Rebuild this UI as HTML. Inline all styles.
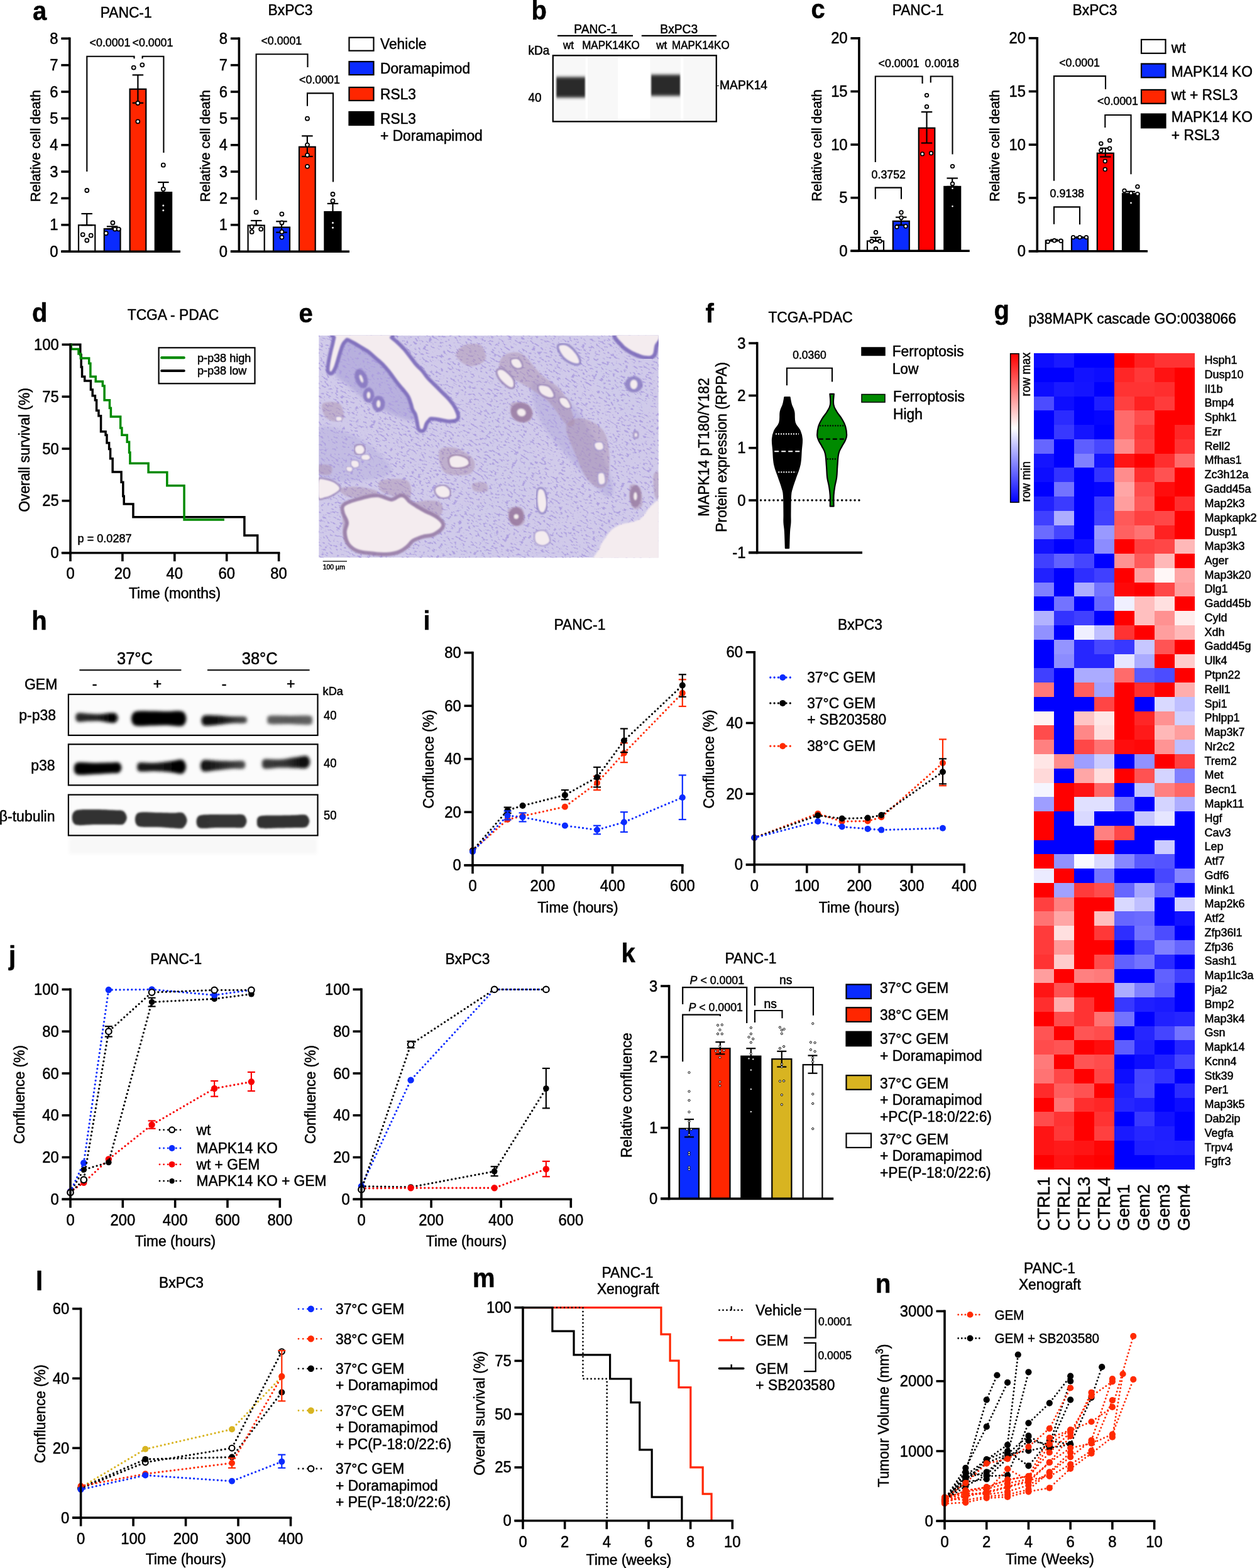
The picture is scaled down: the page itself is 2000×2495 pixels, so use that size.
<!DOCTYPE html>
<html><head><meta charset="utf-8"><title>Figure</title>
<style>html,body{margin:0;padding:0;background:#fff;}svg{display:block;}</style>
</head><body>
<svg width="2000" height="2495" viewBox="0 0 2000 2495" font-family='"Liberation Sans", Arial, Helvetica, sans-serif'>
<defs><filter id="blurB" x="-20%" y="-50%" width="140%" height="200%"><feGaussianBlur stdDeviation="0.9 2.6"/></filter><clipPath id="clipE"><rect x="507.2" y="533.8" width="540.6" height="353.6"/></clipPath><filter id="nucE" x="0" y="0" width="100%" height="100%"><feTurbulence type="fractalNoise" baseFrequency="0.17 0.34" numOctaves="2" seed="11"/><feColorMatrix type="matrix" values="0 0 0 0 0.42  0 0 0 0 0.35  0 0 0 0 0.74  -10 0 0 0 4.15"/><feGaussianBlur stdDeviation="0.45"/></filter><filter id="toneE" x="0" y="0" width="100%" height="100%"><feTurbulence type="fractalNoise" baseFrequency="0.012" numOctaves="2" seed="4"/><feColorMatrix type="matrix" values="0 0 0 0 0.62  0 0 0 0 0.58  0 0 0 0 0.82  -1.6 0 0 0 0.95"/></filter><filter id="softE"><feGaussianBlur stdDeviation="1.0"/></filter><filter id="softE3"><feGaussianBlur stdDeviation="2.5"/></filter><linearGradient id="cbar" x1="0" y1="0" x2="0" y2="1"><stop offset="0" stop-color="#ff0000"/><stop offset="0.5" stop-color="#ffffff"/><stop offset="1" stop-color="#0000ff"/></linearGradient><filter id="blurH" x="-20%" y="-80%" width="140%" height="260%"><feGaussianBlur stdDeviation="2.8"/></filter><filter id="blurH2" x="-20%" y="-80%" width="140%" height="260%"><feGaussianBlur stdDeviation="1.8"/></filter><linearGradient id="bandg1" x1="0" y1="0" x2="1" y2="0"><stop offset="0" stop-color="#2a2a2a"/><stop offset="0.5" stop-color="#222"/><stop offset="0.8" stop-color="#050505"/><stop offset="1" stop-color="#080808"/></linearGradient><linearGradient id="bandg2" x1="0" y1="0" x2="1" y2="0"><stop offset="0" stop-color="#000"/><stop offset="1" stop-color="#000"/></linearGradient><linearGradient id="bandg3" x1="0" y1="0" x2="1" y2="0"><stop offset="0" stop-color="#060606"/><stop offset="0.45" stop-color="#151515"/><stop offset="0.75" stop-color="#3a3a3a"/><stop offset="1" stop-color="#4a4a4a"/></linearGradient><linearGradient id="bandg4" x1="0" y1="0" x2="1" y2="0"><stop offset="0" stop-color="#5e5e5e"/><stop offset="0.5" stop-color="#585858"/><stop offset="1" stop-color="#626262"/></linearGradient><linearGradient id="bandg5" x1="0" y1="0" x2="1" y2="0"><stop offset="0" stop-color="#000"/><stop offset="1" stop-color="#050505"/></linearGradient><linearGradient id="bandg6" x1="0" y1="0" x2="1" y2="0"><stop offset="0" stop-color="#1a1a1a"/><stop offset="0.5" stop-color="#151515"/><stop offset="0.8" stop-color="#000"/><stop offset="1" stop-color="#000"/></linearGradient><linearGradient id="bandg7" x1="0" y1="0" x2="1" y2="0"><stop offset="0" stop-color="#0d0d0d"/><stop offset="0.5" stop-color="#2a2a2a"/><stop offset="1" stop-color="#4a4a4a"/></linearGradient><linearGradient id="bandg8" x1="0" y1="0" x2="1" y2="0"><stop offset="0" stop-color="#3a3a3a"/><stop offset="0.5" stop-color="#333"/><stop offset="0.85" stop-color="#0a0a0a"/><stop offset="1" stop-color="#0a0a0a"/></linearGradient><linearGradient id="bandg9" x1="0" y1="0" x2="1" y2="0"><stop offset="0" stop-color="#333"/><stop offset="1" stop-color="#333"/></linearGradient><linearGradient id="bandg10" x1="0" y1="0" x2="1" y2="0"><stop offset="0" stop-color="#333"/><stop offset="1" stop-color="#363636"/></linearGradient><linearGradient id="bandg11" x1="0" y1="0" x2="1" y2="0"><stop offset="0" stop-color="#333"/><stop offset="1" stop-color="#343434"/></linearGradient><linearGradient id="bandg12" x1="0" y1="0" x2="1" y2="0"><stop offset="0" stop-color="#333"/><stop offset="1" stop-color="#333"/></linearGradient></defs>
<style>text{stroke:#000;stroke-width:0.5px;stroke-linejoin:round}</style>
<rect width="2000" height="2495" fill="#fff"/>
<text transform="translate(52 31.5) scale(1 1.05)" font-size="40" font-weight="bold">a</text>
<text transform="translate(200.7 28.4) scale(1 1.05)" font-size="22.8" text-anchor="middle">PANC-1</text>
<rect x="125" y="358.26" width="26.3" height="41.94" fill="#fff" stroke="#000" stroke-width="2.2"/>
<rect x="165.8" y="364.19" width="25.7" height="36.01" fill="#0a2bff" stroke="#000" stroke-width="2.2"/>
<rect x="206.6" y="141.79" width="25.7" height="258.41" fill="#ff2600" stroke="#000" stroke-width="2.2"/>
<rect x="246.8" y="306.16" width="26.3" height="94.04" fill="#000" stroke="#000" stroke-width="2.2"/>
<line x1="138.2" y1="340.05" x2="138.2" y2="358.26" stroke="#000" stroke-width="2.2" stroke-linecap="butt"/>
<line x1="129.45" y1="340.05" x2="146.95" y2="340.05" stroke="#000" stroke-width="2.2" stroke-linecap="butt"/>
<line x1="129.45" y1="358.26" x2="146.95" y2="358.26" stroke="#000" stroke-width="2.2" stroke-linecap="butt"/>
<line x1="178.6" y1="360.38" x2="178.6" y2="364.19" stroke="#000" stroke-width="2.2" stroke-linecap="butt"/>
<line x1="169.85" y1="360.38" x2="187.35" y2="360.38" stroke="#000" stroke-width="2.2" stroke-linecap="butt"/>
<line x1="169.85" y1="364.19" x2="187.35" y2="364.19" stroke="#000" stroke-width="2.2" stroke-linecap="butt"/>
<line x1="219.4" y1="119.34" x2="219.4" y2="163.82" stroke="#000" stroke-width="2.2" stroke-linecap="butt"/>
<line x1="210.65" y1="119.34" x2="228.15" y2="119.34" stroke="#000" stroke-width="2.2" stroke-linecap="butt"/>
<line x1="210.65" y1="163.82" x2="228.15" y2="163.82" stroke="#000" stroke-width="2.2" stroke-linecap="butt"/>
<line x1="259.9" y1="290.06" x2="259.9" y2="306.16" stroke="#000" stroke-width="2.2" stroke-linecap="butt"/>
<line x1="251.15" y1="290.06" x2="268.65" y2="290.06" stroke="#000" stroke-width="2.2" stroke-linecap="butt"/>
<line x1="251.15" y1="306.16" x2="268.65" y2="306.16" stroke="#000" stroke-width="2.2" stroke-linecap="butt"/>
<circle cx="138.3" cy="303" r="3" fill="#fff" stroke="#000" stroke-width="1.8"/>
<circle cx="131.7" cy="373.3" r="3" fill="#fff" stroke="#000" stroke-width="1.8"/>
<circle cx="144.7" cy="374.7" r="3" fill="#fff" stroke="#000" stroke-width="1.8"/>
<circle cx="138.3" cy="382.5" r="3" fill="#fff" stroke="#000" stroke-width="1.8"/>
<circle cx="168.7" cy="371.2" r="3" fill="#fff" stroke="#000" stroke-width="1.8"/>
<circle cx="179.4" cy="354.5" r="3" fill="#fff" stroke="#000" stroke-width="1.8"/>
<circle cx="182.9" cy="364.6" r="3" fill="#fff" stroke="#000" stroke-width="1.8"/>
<circle cx="188.7" cy="364.6" r="3" fill="#fff" stroke="#000" stroke-width="1.8"/>
<circle cx="212.7" cy="107.6" r="3" fill="#fff" stroke="#000" stroke-width="1.8"/>
<circle cx="226.3" cy="103.3" r="3" fill="#fff" stroke="#000" stroke-width="1.8"/>
<circle cx="219.3" cy="164" r="3" fill="#fff" stroke="#000" stroke-width="1.8"/>
<circle cx="219.3" cy="193.3" r="3" fill="#fff" stroke="#000" stroke-width="1.8"/>
<circle cx="259.8" cy="262.7" r="3" fill="#fff" stroke="#000" stroke-width="1.8"/>
<circle cx="259.8" cy="301" r="3" fill="#fff" stroke="#000" stroke-width="1.8"/>
<circle cx="259.8" cy="327" r="2.4" fill="#fff" stroke="#000" stroke-width="1.8"/>
<circle cx="259.8" cy="334.8" r="2.4" fill="#fff" stroke="#000" stroke-width="1.8"/>
<polyline points="138.3,272.9 138.3,89.7 213.5,89.7 213.5,93.2" fill="none" stroke="#000" stroke-width="2.1" stroke-linecap="butt" stroke-linejoin="miter"/>
<polyline points="226.6,93.2 226.6,89.7 260.4,89.7 260.4,243" fill="none" stroke="#000" stroke-width="2.1" stroke-linecap="butt" stroke-linejoin="miter"/>
<text transform="translate(175 73.8) scale(1 1.05)" font-size="17.8" text-anchor="middle">&lt;0.0001</text>
<text transform="translate(243 73.8) scale(1 1.05)" font-size="17.8" text-anchor="middle">&lt;0.0001</text>
<line x1="110.8" y1="59.5" x2="110.8" y2="402" stroke="#000" stroke-width="3.6" stroke-linecap="butt"/>
<line x1="97.3" y1="400.2" x2="110.8" y2="400.2" stroke="#000" stroke-width="3.6" stroke-linecap="butt"/>
<text transform="translate(92.5 408.77) scale(1 1.05)" font-size="23.8" text-anchor="end">0</text>
<line x1="97.3" y1="357.84" x2="110.8" y2="357.84" stroke="#000" stroke-width="3.6" stroke-linecap="butt"/>
<text transform="translate(92.5 366.41) scale(1 1.05)" font-size="23.8" text-anchor="end">1</text>
<line x1="97.3" y1="315.48" x2="110.8" y2="315.48" stroke="#000" stroke-width="3.6" stroke-linecap="butt"/>
<text transform="translate(92.5 324.04) scale(1 1.05)" font-size="23.8" text-anchor="end">2</text>
<line x1="97.3" y1="273.11" x2="110.8" y2="273.11" stroke="#000" stroke-width="3.6" stroke-linecap="butt"/>
<text transform="translate(92.5 281.68) scale(1 1.05)" font-size="23.8" text-anchor="end">3</text>
<line x1="97.3" y1="230.75" x2="110.8" y2="230.75" stroke="#000" stroke-width="3.6" stroke-linecap="butt"/>
<text transform="translate(92.5 239.32) scale(1 1.05)" font-size="23.8" text-anchor="end">4</text>
<line x1="97.3" y1="188.39" x2="110.8" y2="188.39" stroke="#000" stroke-width="3.6" stroke-linecap="butt"/>
<text transform="translate(92.5 196.96) scale(1 1.05)" font-size="23.8" text-anchor="end">5</text>
<line x1="97.3" y1="146.03" x2="110.8" y2="146.03" stroke="#000" stroke-width="3.6" stroke-linecap="butt"/>
<text transform="translate(92.5 154.59) scale(1 1.05)" font-size="23.8" text-anchor="end">6</text>
<line x1="97.3" y1="103.66" x2="110.8" y2="103.66" stroke="#000" stroke-width="3.6" stroke-linecap="butt"/>
<text transform="translate(92.5 112.23) scale(1 1.05)" font-size="23.8" text-anchor="end">7</text>
<line x1="97.3" y1="61.3" x2="110.8" y2="61.3" stroke="#000" stroke-width="3.6" stroke-linecap="butt"/>
<text transform="translate(92.5 69.87) scale(1 1.05)" font-size="23.8" text-anchor="end">8</text>
<line x1="97.3" y1="400.2" x2="287" y2="400.2" stroke="#000" stroke-width="3.6" stroke-linecap="butt"/>
<text transform="translate(64.2 232.2) rotate(-90) scale(1 1.05)" font-size="21.8" text-anchor="middle">Relative cell death</text>
<text transform="translate(462 23.7) scale(1 1.05)" font-size="22.8" text-anchor="middle">BxPC3</text>
<rect x="394.6" y="358.68" width="26.1" height="41.52" fill="#fff" stroke="#000" stroke-width="2.2"/>
<rect x="435" y="361.65" width="26" height="38.55" fill="#0a2bff" stroke="#000" stroke-width="2.2"/>
<rect x="476" y="233.72" width="25.7" height="166.48" fill="#ff2600" stroke="#000" stroke-width="2.2"/>
<rect x="516.4" y="337.08" width="26.1" height="63.12" fill="#000" stroke="#000" stroke-width="2.2"/>
<line x1="407.7" y1="351.06" x2="407.7" y2="358.68" stroke="#000" stroke-width="2.2" stroke-linecap="butt"/>
<line x1="398.95" y1="351.06" x2="416.45" y2="351.06" stroke="#000" stroke-width="2.2" stroke-linecap="butt"/>
<line x1="398.95" y1="358.68" x2="416.45" y2="358.68" stroke="#000" stroke-width="2.2" stroke-linecap="butt"/>
<line x1="448" y1="352.33" x2="448" y2="369.7" stroke="#000" stroke-width="2.2" stroke-linecap="butt"/>
<line x1="439.25" y1="352.33" x2="456.75" y2="352.33" stroke="#000" stroke-width="2.2" stroke-linecap="butt"/>
<line x1="439.25" y1="369.7" x2="456.75" y2="369.7" stroke="#000" stroke-width="2.2" stroke-linecap="butt"/>
<line x1="488.9" y1="216.35" x2="488.9" y2="248.97" stroke="#000" stroke-width="2.2" stroke-linecap="butt"/>
<line x1="480.15" y1="216.35" x2="497.65" y2="216.35" stroke="#000" stroke-width="2.2" stroke-linecap="butt"/>
<line x1="480.15" y1="248.97" x2="497.65" y2="248.97" stroke="#000" stroke-width="2.2" stroke-linecap="butt"/>
<line x1="529.5" y1="323.95" x2="529.5" y2="337.08" stroke="#000" stroke-width="2.2" stroke-linecap="butt"/>
<line x1="520.75" y1="323.95" x2="538.25" y2="323.95" stroke="#000" stroke-width="2.2" stroke-linecap="butt"/>
<line x1="520.75" y1="337.08" x2="538.25" y2="337.08" stroke="#000" stroke-width="2.2" stroke-linecap="butt"/>
<circle cx="407.6" cy="337.7" r="3" fill="#fff" stroke="#000" stroke-width="1.8"/>
<circle cx="400.7" cy="361.1" r="3" fill="#fff" stroke="#000" stroke-width="1.8"/>
<circle cx="415.2" cy="364.6" r="3" fill="#fff" stroke="#000" stroke-width="1.8"/>
<circle cx="400.7" cy="368.9" r="3" fill="#fff" stroke="#000" stroke-width="1.8"/>
<circle cx="448.4" cy="340.6" r="3" fill="#fff" stroke="#000" stroke-width="1.8"/>
<circle cx="448.4" cy="354.5" r="3" fill="#fff" stroke="#000" stroke-width="1.8"/>
<circle cx="448.4" cy="368.9" r="3" fill="#fff" stroke="#000" stroke-width="1.8"/>
<circle cx="448.4" cy="377.6" r="3" fill="#fff" stroke="#000" stroke-width="1.8"/>
<circle cx="489" cy="188.7" r="3" fill="#fff" stroke="#000" stroke-width="1.8"/>
<circle cx="489" cy="230.6" r="3" fill="#fff" stroke="#000" stroke-width="1.8"/>
<circle cx="489" cy="246.8" r="3" fill="#fff" stroke="#000" stroke-width="1.8"/>
<circle cx="489" cy="264.8" r="3" fill="#fff" stroke="#000" stroke-width="1.8"/>
<circle cx="529.5" cy="309" r="3" fill="#fff" stroke="#000" stroke-width="1.8"/>
<circle cx="529.5" cy="319.7" r="3" fill="#fff" stroke="#000" stroke-width="1.8"/>
<circle cx="529.5" cy="354.5" r="2.4" fill="#fff" stroke="#000" stroke-width="1.8"/>
<circle cx="529.5" cy="362.3" r="2.4" fill="#fff" stroke="#000" stroke-width="1.8"/>
<polyline points="407.6,318.3 407.6,86.2 489.5,86.2 489.5,107" fill="none" stroke="#000" stroke-width="2.1" stroke-linecap="butt" stroke-linejoin="miter"/>
<polyline points="489,168.7 489,148.4 530,148.4 530,289.4" fill="none" stroke="#000" stroke-width="2.1" stroke-linecap="butt" stroke-linejoin="miter"/>
<text transform="translate(447.8 70.9) scale(1 1.05)" font-size="17.8" text-anchor="middle">&lt;0.0001</text>
<text transform="translate(508.5 133.1) scale(1 1.05)" font-size="17.8" text-anchor="middle">&lt;0.0001</text>
<line x1="380.4" y1="59.5" x2="380.4" y2="402" stroke="#000" stroke-width="3.6" stroke-linecap="butt"/>
<line x1="366.9" y1="400.2" x2="380.4" y2="400.2" stroke="#000" stroke-width="3.6" stroke-linecap="butt"/>
<text transform="translate(362.1 408.77) scale(1 1.05)" font-size="23.8" text-anchor="end">0</text>
<line x1="366.9" y1="357.84" x2="380.4" y2="357.84" stroke="#000" stroke-width="3.6" stroke-linecap="butt"/>
<text transform="translate(362.1 366.41) scale(1 1.05)" font-size="23.8" text-anchor="end">1</text>
<line x1="366.9" y1="315.48" x2="380.4" y2="315.48" stroke="#000" stroke-width="3.6" stroke-linecap="butt"/>
<text transform="translate(362.1 324.04) scale(1 1.05)" font-size="23.8" text-anchor="end">2</text>
<line x1="366.9" y1="273.11" x2="380.4" y2="273.11" stroke="#000" stroke-width="3.6" stroke-linecap="butt"/>
<text transform="translate(362.1 281.68) scale(1 1.05)" font-size="23.8" text-anchor="end">3</text>
<line x1="366.9" y1="230.75" x2="380.4" y2="230.75" stroke="#000" stroke-width="3.6" stroke-linecap="butt"/>
<text transform="translate(362.1 239.32) scale(1 1.05)" font-size="23.8" text-anchor="end">4</text>
<line x1="366.9" y1="188.39" x2="380.4" y2="188.39" stroke="#000" stroke-width="3.6" stroke-linecap="butt"/>
<text transform="translate(362.1 196.96) scale(1 1.05)" font-size="23.8" text-anchor="end">5</text>
<line x1="366.9" y1="146.03" x2="380.4" y2="146.03" stroke="#000" stroke-width="3.6" stroke-linecap="butt"/>
<text transform="translate(362.1 154.59) scale(1 1.05)" font-size="23.8" text-anchor="end">6</text>
<line x1="366.9" y1="103.66" x2="380.4" y2="103.66" stroke="#000" stroke-width="3.6" stroke-linecap="butt"/>
<text transform="translate(362.1 112.23) scale(1 1.05)" font-size="23.8" text-anchor="end">7</text>
<line x1="366.9" y1="61.3" x2="380.4" y2="61.3" stroke="#000" stroke-width="3.6" stroke-linecap="butt"/>
<text transform="translate(362.1 69.87) scale(1 1.05)" font-size="23.8" text-anchor="end">8</text>
<line x1="366.9" y1="400.2" x2="556" y2="400.2" stroke="#000" stroke-width="3.6" stroke-linecap="butt"/>
<text transform="translate(334.1 232.2) rotate(-90) scale(1 1.05)" font-size="21.8" text-anchor="middle">Relative cell death</text>
<rect x="555.5" y="59.7" width="39" height="21" fill="#fff" stroke="#000" stroke-width="2.2"/>
<text transform="translate(605 78.2) scale(1 1.05)" font-size="22.8">Vehicle</text>
<rect x="555.5" y="98" width="39" height="21" fill="#0a2bff" stroke="#000" stroke-width="2.2"/>
<text transform="translate(605 116.5) scale(1 1.05)" font-size="22.8">Doramapimod</text>
<rect x="555.5" y="139" width="39" height="21" fill="#ff2600" stroke="#000" stroke-width="2.2"/>
<text transform="translate(605 157.5) scale(1 1.05)" font-size="22.8">RSL3</text>
<rect x="555.5" y="178" width="39" height="21" fill="#000" stroke="#000" stroke-width="2.2"/>
<text transform="translate(605 196.5) scale(1 1.05)" font-size="22.8">RSL3</text>
<text transform="translate(605 224) scale(1 1.05)" font-size="22.8">+ Doramapimod</text>
<text transform="translate(845.6 31.2) scale(1 1.05)" font-size="40" font-weight="bold">b</text>
<rect x="879.8" y="88.3" width="260" height="105.1" fill="#ffffff"/>
<rect x="884.5" y="89.5" width="47" height="103" fill="#f8f8f8"/>
<rect x="935" y="89.5" width="48" height="103" fill="#f8f8f8"/>
<rect x="1034.5" y="89.5" width="48.5" height="103" fill="#f8f8f8"/>
<rect x="1087.5" y="89.5" width="51.5" height="103" fill="#f8f8f8"/>
<rect x="885.2" y="122.6" width="45.6" height="32.6" fill="#2c2c2c" filter="url(#blurB)"/>
<rect x="1036.1" y="118.9" width="46" height="33.6" fill="#2c2c2c" filter="url(#blurB)"/>
<rect x="879.8" y="88.3" width="260" height="105.1" fill="none" stroke="#000" stroke-width="2.3"/>
<text transform="translate(947.8 53.4) scale(1 1.05)" font-size="19.2" text-anchor="middle">PANC-1</text>
<text transform="translate(1080.2 53.4) scale(1 1.05)" font-size="19.2" text-anchor="middle">BxPC3</text>
<line x1="887" y1="56.8" x2="1007" y2="56.8" stroke="#000" stroke-width="2.2" stroke-linecap="butt"/>
<line x1="1020.8" y1="56.8" x2="1140" y2="56.8" stroke="#000" stroke-width="2.2" stroke-linecap="butt"/>
<text transform="translate(904.5 78.3) scale(1 1.05)" font-size="17" text-anchor="middle">wt</text>
<text transform="translate(972 78.3) scale(1 1.05)" font-size="17" text-anchor="middle">MAPK14KO</text>
<text transform="translate(1052.8 78.3) scale(1 1.05)" font-size="17" text-anchor="middle">wt</text>
<text transform="translate(1114.8 78.3) scale(1 1.05)" font-size="17" text-anchor="middle">MAPK14KO</text>
<text transform="translate(840.5 87.2) scale(1 1.05)" font-size="19">kDa</text>
<text transform="translate(840.5 162) scale(1 1.05)" font-size="19">40</text>
<line x1="1141" y1="136.5" x2="1144" y2="136.5" stroke="#000" stroke-width="1" stroke-linecap="butt"/>
<text transform="translate(1145 142) scale(1 1.05)" font-size="19.3">MAPK14</text>
<text transform="translate(1290.5 29.3) scale(1 1.05)" font-size="40" font-weight="bold">c</text>
<text transform="translate(1460.6 24.3) scale(1 1.05)" font-size="22.8" text-anchor="middle">PANC-1</text>
<rect x="1380" y="383.56" width="26" height="15.74" fill="#fff" stroke="#000" stroke-width="2.2"/>
<rect x="1420.8" y="351.92" width="26" height="47.38" fill="#0a2bff" stroke="#000" stroke-width="2.2"/>
<rect x="1461.8" y="203.7" width="25.5" height="195.6" fill="#ff0000" stroke="#000" stroke-width="2.2"/>
<rect x="1502.3" y="296.93" width="25.9" height="102.37" fill="#000" stroke="#000" stroke-width="2.2"/>
<line x1="1393.2" y1="377.81" x2="1393.2" y2="383.56" stroke="#000" stroke-width="2.2" stroke-linecap="butt"/>
<line x1="1384.45" y1="377.81" x2="1401.95" y2="377.81" stroke="#000" stroke-width="2.2" stroke-linecap="butt"/>
<line x1="1384.45" y1="383.56" x2="1401.95" y2="383.56" stroke="#000" stroke-width="2.2" stroke-linecap="butt"/>
<line x1="1433.8" y1="345.66" x2="1433.8" y2="358.18" stroke="#000" stroke-width="2.2" stroke-linecap="butt"/>
<line x1="1425.05" y1="345.66" x2="1442.55" y2="345.66" stroke="#000" stroke-width="2.2" stroke-linecap="butt"/>
<line x1="1425.05" y1="358.18" x2="1442.55" y2="358.18" stroke="#000" stroke-width="2.2" stroke-linecap="butt"/>
<line x1="1474.5" y1="178.16" x2="1474.5" y2="227.56" stroke="#000" stroke-width="2.2" stroke-linecap="butt"/>
<line x1="1465.75" y1="178.16" x2="1483.25" y2="178.16" stroke="#000" stroke-width="2.2" stroke-linecap="butt"/>
<line x1="1465.75" y1="227.56" x2="1483.25" y2="227.56" stroke="#000" stroke-width="2.2" stroke-linecap="butt"/>
<line x1="1515.2" y1="283.57" x2="1515.2" y2="296.93" stroke="#000" stroke-width="2.2" stroke-linecap="butt"/>
<line x1="1506.45" y1="283.57" x2="1523.95" y2="283.57" stroke="#000" stroke-width="2.2" stroke-linecap="butt"/>
<line x1="1506.45" y1="296.93" x2="1523.95" y2="296.93" stroke="#000" stroke-width="2.2" stroke-linecap="butt"/>
<circle cx="1393.5" cy="369.7" r="2.8" fill="#fff" stroke="#000" stroke-width="1.8"/>
<circle cx="1387" cy="383.8" r="2.8" fill="#fff" stroke="#000" stroke-width="1.8"/>
<circle cx="1400" cy="383.8" r="2.8" fill="#fff" stroke="#000" stroke-width="1.8"/>
<circle cx="1393.5" cy="395.8" r="2.8" fill="#fff" stroke="#000" stroke-width="1.8"/>
<circle cx="1434" cy="338" r="2.8" fill="#fff" stroke="#000" stroke-width="1.8"/>
<circle cx="1434" cy="346.5" r="2.8" fill="#fff" stroke="#000" stroke-width="1.8"/>
<circle cx="1427" cy="361.1" r="2.8" fill="#fff" stroke="#000" stroke-width="1.8"/>
<circle cx="1441" cy="360" r="2.8" fill="#fff" stroke="#000" stroke-width="1.8"/>
<circle cx="1474.5" cy="151.6" r="2.8" fill="#fff" stroke="#000" stroke-width="1.8"/>
<circle cx="1474.5" cy="169.7" r="2.8" fill="#fff" stroke="#000" stroke-width="1.8"/>
<circle cx="1467.6" cy="244.9" r="2.8" fill="#fff" stroke="#000" stroke-width="1.8"/>
<circle cx="1481.5" cy="243.8" r="2.8" fill="#fff" stroke="#000" stroke-width="1.8"/>
<circle cx="1515.5" cy="264.6" r="2.8" fill="#fff" stroke="#000" stroke-width="1.8"/>
<circle cx="1515.5" cy="292.4" r="2.8" fill="#fff" stroke="#000" stroke-width="1.8"/>
<circle cx="1515.5" cy="299.8" r="2.2" fill="#fff" stroke="#000" stroke-width="1.8"/>
<circle cx="1515.5" cy="328.2" r="2.2" fill="#fff" stroke="#000" stroke-width="1.8"/>
<polyline points="1392.8,258.1 1392.8,121.5 1467.6,121.5 1467.6,133.1" fill="none" stroke="#000" stroke-width="2.1" stroke-linecap="butt" stroke-linejoin="miter"/>
<polyline points="1480.8,131.5 1480.8,121.5 1515.5,121.5 1515.5,245.4" fill="none" stroke="#000" stroke-width="2.1" stroke-linecap="butt" stroke-linejoin="miter"/>
<polyline points="1392.8,316.7 1392.8,298.6 1434,298.6 1434,316.7" fill="none" stroke="#000" stroke-width="2.1" stroke-linecap="butt" stroke-linejoin="miter"/>
<text transform="translate(1430 106.9) scale(1 1.05)" font-size="17.8" text-anchor="middle">&lt;0.0001</text>
<text transform="translate(1498.6 106.9) scale(1 1.05)" font-size="17.8" text-anchor="middle">0.0018</text>
<text transform="translate(1413.8 283.6) scale(1 1.05)" font-size="17.8" text-anchor="middle">0.3752</text>
<line x1="1366.9" y1="59.1" x2="1366.9" y2="401.1" stroke="#000" stroke-width="3.6" stroke-linecap="butt"/>
<line x1="1353.4" y1="399.3" x2="1366.9" y2="399.3" stroke="#000" stroke-width="3.6" stroke-linecap="butt"/>
<text transform="translate(1348.6 407.87) scale(1 1.05)" font-size="23.8" text-anchor="end">0</text>
<line x1="1353.4" y1="314.7" x2="1366.9" y2="314.7" stroke="#000" stroke-width="3.6" stroke-linecap="butt"/>
<text transform="translate(1348.6 323.27) scale(1 1.05)" font-size="23.8" text-anchor="end">5</text>
<line x1="1353.4" y1="230.1" x2="1366.9" y2="230.1" stroke="#000" stroke-width="3.6" stroke-linecap="butt"/>
<text transform="translate(1348.6 238.67) scale(1 1.05)" font-size="23.8" text-anchor="end">10</text>
<line x1="1353.4" y1="145.5" x2="1366.9" y2="145.5" stroke="#000" stroke-width="3.6" stroke-linecap="butt"/>
<text transform="translate(1348.6 154.07) scale(1 1.05)" font-size="23.8" text-anchor="end">15</text>
<line x1="1353.4" y1="60.9" x2="1366.9" y2="60.9" stroke="#000" stroke-width="3.6" stroke-linecap="butt"/>
<text transform="translate(1348.6 69.47) scale(1 1.05)" font-size="23.8" text-anchor="end">20</text>
<line x1="1353.4" y1="399.3" x2="1542.8" y2="399.3" stroke="#000" stroke-width="3.6" stroke-linecap="butt"/>
<text transform="translate(1306.7 231.5) rotate(-90) scale(1 1.05)" font-size="21.8" text-anchor="middle">Relative cell death</text>
<text transform="translate(1742 24) scale(1 1.05)" font-size="22.8" text-anchor="middle">BxPC3</text>
<rect x="1663.8" y="382.75" width="26.8" height="16.95" fill="#fff" stroke="#000" stroke-width="2.2"/>
<rect x="1705" y="378" width="26" height="21.7" fill="#0a2bff" stroke="#000" stroke-width="2.2"/>
<rect x="1745.8" y="243.76" width="26.1" height="155.94" fill="#ff0000" stroke="#000" stroke-width="2.2"/>
<rect x="1786" y="308.17" width="26.5" height="91.53" fill="#000" stroke="#000" stroke-width="2.2"/>
<line x1="1677.2" y1="381.39" x2="1677.2" y2="383.6" stroke="#000" stroke-width="2.2" stroke-linecap="butt"/>
<line x1="1671.2" y1="381.39" x2="1683.2" y2="381.39" stroke="#000" stroke-width="2.2" stroke-linecap="butt"/>
<line x1="1671.2" y1="383.6" x2="1683.2" y2="383.6" stroke="#000" stroke-width="2.2" stroke-linecap="butt"/>
<line x1="1718" y1="377.16" x2="1718" y2="378.51" stroke="#000" stroke-width="2.2" stroke-linecap="butt"/>
<line x1="1712" y1="377.16" x2="1724" y2="377.16" stroke="#000" stroke-width="2.2" stroke-linecap="butt"/>
<line x1="1712" y1="378.51" x2="1724" y2="378.51" stroke="#000" stroke-width="2.2" stroke-linecap="butt"/>
<line x1="1758.8" y1="235.79" x2="1758.8" y2="249.52" stroke="#000" stroke-width="2.2" stroke-linecap="butt"/>
<line x1="1750.05" y1="235.79" x2="1767.55" y2="235.79" stroke="#000" stroke-width="2.2" stroke-linecap="butt"/>
<line x1="1750.05" y1="249.52" x2="1767.55" y2="249.52" stroke="#000" stroke-width="2.2" stroke-linecap="butt"/>
<line x1="1799.2" y1="304.78" x2="1799.2" y2="309.87" stroke="#000" stroke-width="2.2" stroke-linecap="butt"/>
<line x1="1792.2" y1="304.78" x2="1806.2" y2="304.78" stroke="#000" stroke-width="2.2" stroke-linecap="butt"/>
<line x1="1792.2" y1="309.87" x2="1806.2" y2="309.87" stroke="#000" stroke-width="2.2" stroke-linecap="butt"/>
<circle cx="1667.2" cy="384.6" r="2.8" fill="#fff" stroke="#000" stroke-width="1.8"/>
<circle cx="1677.6" cy="382.8" r="2.8" fill="#fff" stroke="#000" stroke-width="1.8"/>
<circle cx="1688" cy="383.3" r="2.8" fill="#fff" stroke="#000" stroke-width="1.8"/>
<circle cx="1707.6" cy="377.6" r="2.8" fill="#fff" stroke="#000" stroke-width="1.8"/>
<circle cx="1718" cy="377.6" r="2.8" fill="#fff" stroke="#000" stroke-width="1.8"/>
<circle cx="1728.4" cy="377.6" r="2.8" fill="#fff" stroke="#000" stroke-width="1.8"/>
<circle cx="1751.8" cy="228.4" r="2.8" fill="#fff" stroke="#000" stroke-width="1.8"/>
<circle cx="1765.6" cy="223.4" r="2.8" fill="#fff" stroke="#000" stroke-width="1.8"/>
<circle cx="1765.6" cy="236.2" r="2.8" fill="#fff" stroke="#000" stroke-width="1.8"/>
<circle cx="1751.8" cy="239.6" r="2.8" fill="#fff" stroke="#000" stroke-width="1.8"/>
<circle cx="1758.3" cy="256.5" r="2.8" fill="#fff" stroke="#000" stroke-width="1.8"/>
<circle cx="1758.3" cy="269.5" r="2.8" fill="#fff" stroke="#000" stroke-width="1.8"/>
<circle cx="1789" cy="303.4" r="2.8" fill="#fff" stroke="#000" stroke-width="1.8"/>
<circle cx="1799.5" cy="307.3" r="2.8" fill="#fff" stroke="#000" stroke-width="1.8"/>
<circle cx="1809.9" cy="296.9" r="2.8" fill="#fff" stroke="#000" stroke-width="1.8"/>
<circle cx="1809.9" cy="308.6" r="2.8" fill="#fff" stroke="#000" stroke-width="1.8"/>
<circle cx="1799.5" cy="322.9" r="2.2" fill="#fff" stroke="#000" stroke-width="1.8"/>
<polyline points="1677,287.8 1677,121.1 1759,121.1 1759,142" fill="none" stroke="#000" stroke-width="2.1" stroke-linecap="butt" stroke-linejoin="miter"/>
<polyline points="1758.3,203 1758.3,183 1799.5,183 1799.5,277.3" fill="none" stroke="#000" stroke-width="2.1" stroke-linecap="butt" stroke-linejoin="miter"/>
<polyline points="1677,356.8 1677,329.4 1718,329.4 1718,357.3" fill="none" stroke="#000" stroke-width="2.1" stroke-linecap="butt" stroke-linejoin="miter"/>
<text transform="translate(1717.6 105.5) scale(1 1.05)" font-size="17.8" text-anchor="middle">&lt;0.0001</text>
<text transform="translate(1778.5 166.7) scale(1 1.05)" font-size="17.8" text-anchor="middle">&lt;0.0001</text>
<text transform="translate(1697.8 313.8) scale(1 1.05)" font-size="17.8" text-anchor="middle">0.9138</text>
<line x1="1650.3" y1="58.9" x2="1650.3" y2="401.5" stroke="#000" stroke-width="3.6" stroke-linecap="butt"/>
<line x1="1636.8" y1="399.7" x2="1650.3" y2="399.7" stroke="#000" stroke-width="3.6" stroke-linecap="butt"/>
<text transform="translate(1632 408.27) scale(1 1.05)" font-size="23.8" text-anchor="end">0</text>
<line x1="1636.8" y1="314.95" x2="1650.3" y2="314.95" stroke="#000" stroke-width="3.6" stroke-linecap="butt"/>
<text transform="translate(1632 323.52) scale(1 1.05)" font-size="23.8" text-anchor="end">5</text>
<line x1="1636.8" y1="230.2" x2="1650.3" y2="230.2" stroke="#000" stroke-width="3.6" stroke-linecap="butt"/>
<text transform="translate(1632 238.77) scale(1 1.05)" font-size="23.8" text-anchor="end">10</text>
<line x1="1636.8" y1="145.45" x2="1650.3" y2="145.45" stroke="#000" stroke-width="3.6" stroke-linecap="butt"/>
<text transform="translate(1632 154.02) scale(1 1.05)" font-size="23.8" text-anchor="end">15</text>
<line x1="1636.8" y1="60.7" x2="1650.3" y2="60.7" stroke="#000" stroke-width="3.6" stroke-linecap="butt"/>
<text transform="translate(1632 69.27) scale(1 1.05)" font-size="23.8" text-anchor="end">20</text>
<line x1="1636.8" y1="399.7" x2="1826" y2="399.7" stroke="#000" stroke-width="3.6" stroke-linecap="butt"/>
<text transform="translate(1590.4 231.8) rotate(-90) scale(1 1.05)" font-size="21.8" text-anchor="middle">Relative cell death</text>
<rect x="1816" y="63" width="38.5" height="21.8" fill="#fff" stroke="#000" stroke-width="2.2"/>
<rect x="1816" y="101.5" width="38.5" height="21.8" fill="#0a2bff" stroke="#000" stroke-width="2.2"/>
<rect x="1816" y="142.9" width="38.5" height="21.8" fill="#ff2600" stroke="#000" stroke-width="2.2"/>
<rect x="1816" y="181.5" width="38.5" height="21.8" fill="#000" stroke="#000" stroke-width="2.2"/>
<text transform="translate(1863.8 83.9) scale(1 1.05)" font-size="22.8">wt</text>
<text transform="translate(1863.8 122.4) scale(1 1.05)" font-size="22.8">MAPK14 KO</text>
<text transform="translate(1863.8 158.9) scale(1 1.05)" font-size="22.8">wt + RSL3</text>
<text transform="translate(1863.8 194) scale(1 1.05)" font-size="22.8">MAPK14 KO</text>
<text transform="translate(1863.8 222.7) scale(1 1.05)" font-size="22.8">+ RSL3</text>
<text transform="translate(51 511.7) scale(1 1.05)" font-size="40" font-weight="bold">d</text>
<text transform="translate(275.5 508.9) scale(1 1.05)" font-size="22.8" text-anchor="middle">TCGA - PDAC</text>
<polyline points="111.94,548.33 127.78,548.33 127.78,564.44 129.17,564.44 129.17,583.89 130.56,583.89 130.56,599.17 134.72,599.17 134.72,606.11 144.44,606.11 144.44,620 147.22,620 147.22,629.72 151.39,629.72 151.39,636.67 153.61,636.67 153.61,653.33 156.94,653.33 156.94,661.67 160.56,661.67 160.56,686.67 168.06,686.67 168.06,692.22 170,692.22 170,704.72 173.61,704.72 173.61,714.44 175.56,714.44 175.56,729.72 179.17,729.72 179.17,751.11 193.06,751.11 193.06,767.22 195.83,767.22 195.83,789.44 197.22,789.44 197.22,801.94 211.94,801.94 211.94,822.78 388.89,822.78 388.89,851.94 409.72,851.94 409.72,879.72" fill="none" stroke="#000" stroke-width="3.5" stroke-linecap="butt" stroke-linejoin="miter"/>
<polyline points="111.94,548.33 113.33,548.33 113.33,555.56 125,555.56 125,563.06 128.33,563.06 128.33,570 141.67,570 141.67,578.33 143.89,578.33 143.89,599.17 152.22,599.17 152.22,606.94 163.33,606.94 163.33,613.89 166.11,613.89 166.11,636.67 174.44,636.67 174.44,649.17 176.39,649.17 176.39,663.06 191.67,663.06 191.67,681.11 193.89,681.11 193.89,692.22 202.22,692.22 202.22,703.33 205.56,703.33 205.56,720 206.94,720 206.94,737.22 236.11,737.22 236.11,751.39 265.83,751.39 265.83,772.78 293.06,772.78 293.06,826.94 356.94,826.94" fill="none" stroke="#008a00" stroke-width="3.5" stroke-linecap="butt" stroke-linejoin="miter"/>
<line x1="112" y1="546.5" x2="112" y2="881.5" stroke="#000" stroke-width="3.6" stroke-linecap="butt"/>
<line x1="98.5" y1="879.7" x2="112" y2="879.7" stroke="#000" stroke-width="3.6" stroke-linecap="butt"/>
<text transform="translate(93.7 888.27) scale(1 1.05)" font-size="23.8" text-anchor="end">0</text>
<line x1="98.5" y1="796.85" x2="112" y2="796.85" stroke="#000" stroke-width="3.6" stroke-linecap="butt"/>
<text transform="translate(93.7 805.42) scale(1 1.05)" font-size="23.8" text-anchor="end">25</text>
<line x1="98.5" y1="714" x2="112" y2="714" stroke="#000" stroke-width="3.6" stroke-linecap="butt"/>
<text transform="translate(93.7 722.57) scale(1 1.05)" font-size="23.8" text-anchor="end">50</text>
<line x1="98.5" y1="631.15" x2="112" y2="631.15" stroke="#000" stroke-width="3.6" stroke-linecap="butt"/>
<text transform="translate(93.7 639.72) scale(1 1.05)" font-size="23.8" text-anchor="end">75</text>
<line x1="98.5" y1="548.3" x2="112" y2="548.3" stroke="#000" stroke-width="3.6" stroke-linecap="butt"/>
<text transform="translate(93.7 556.87) scale(1 1.05)" font-size="23.8" text-anchor="end">100</text>
<line x1="97.8" y1="879.7" x2="445.4" y2="879.7" stroke="#000" stroke-width="3.6" stroke-linecap="butt"/>
<line x1="112" y1="879.7" x2="112" y2="893.2" stroke="#000" stroke-width="3.6" stroke-linecap="butt"/>
<text transform="translate(112 921.3) scale(1 1.05)" font-size="23.8" text-anchor="middle">0</text>
<line x1="194.9" y1="879.7" x2="194.9" y2="893.2" stroke="#000" stroke-width="3.6" stroke-linecap="butt"/>
<text transform="translate(194.9 921.3) scale(1 1.05)" font-size="23.8" text-anchor="middle">20</text>
<line x1="277.8" y1="879.7" x2="277.8" y2="893.2" stroke="#000" stroke-width="3.6" stroke-linecap="butt"/>
<text transform="translate(277.8 921.3) scale(1 1.05)" font-size="23.8" text-anchor="middle">40</text>
<line x1="360.7" y1="879.7" x2="360.7" y2="893.2" stroke="#000" stroke-width="3.6" stroke-linecap="butt"/>
<text transform="translate(360.7 921.3) scale(1 1.05)" font-size="23.8" text-anchor="middle">60</text>
<line x1="443.6" y1="879.7" x2="443.6" y2="893.2" stroke="#000" stroke-width="3.6" stroke-linecap="butt"/>
<text transform="translate(443.6 921.3) scale(1 1.05)" font-size="23.8" text-anchor="middle">80</text>
<text transform="translate(278 952.3) scale(1 1.05)" font-size="22.8" text-anchor="middle">Time (months)</text>
<text transform="translate(46.5 716) rotate(-90) scale(1 1.05)" font-size="22.8" text-anchor="middle">Overall survival (%)</text>
<rect x="252.6" y="553.3" width="152.9" height="57" fill="#fff" stroke="#000" stroke-width="2.2"/>
<line x1="257.2" y1="569.2" x2="292.7" y2="569.2" stroke="#008a00" stroke-width="4.2" stroke-linecap="round"/>
<line x1="257.2" y1="590" x2="292.7" y2="590" stroke="#000" stroke-width="4.2" stroke-linecap="round"/>
<text transform="translate(313.9 575.6) scale(1 1.05)" font-size="18.1">p-p38 high</text>
<text transform="translate(313.9 596.4) scale(1 1.05)" font-size="18.1">p-p38 low</text>
<text transform="translate(123.6 863) scale(1 1.05)" font-size="18.1">p = 0.0287</text>
<text transform="translate(475.5 513) scale(1 1.05)" font-size="40" font-weight="bold">e</text>
<g clip-path="url(#clipE)">
<rect x="507.2" y="533.8" width="540.6" height="353.6" fill="#d1cbea"/>
<rect x="507.2" y="533.8" width="540.6" height="353.6" fill="#fff" filter="url(#toneE)" opacity="0.55"/>
<path d="M 552.22,538.33 C 559.63,539.49 576.99,549.44 588.33,557.78 C 599.68,566.11 610.79,577.92 620.28,588.33 C 629.77,598.75 638.8,609.86 645.28,620.28 C 651.76,630.69 657.08,642.73 659.17,650.83 C 661.25,658.94 662.64,667.04 657.78,668.89 C 652.92,670.74 641.57,666.57 630,661.94 C 618.43,657.31 601.06,649.21 588.33,641.11 C 575.6,633.01 562.87,621.44 553.61,613.33 C 544.35,605.23 534.4,602.92 532.78,592.5 C 531.16,582.08 540.65,559.86 543.89,550.83 C 547.13,541.81 544.81,537.18 552.22,538.33 Z" fill="#a79fd6" opacity="0.6" filter="url(#softE3)"/>
<path d="M 849.5,607.5 C 857.78,603.36 892.27,626.82 907.45,640.62 C 922.63,654.41 929.53,669.59 940.56,690.28 C 951.6,710.98 969.54,748.23 973.68,764.79 C 977.81,781.34 976.43,795.14 965.4,789.62 C 954.36,784.1 925.39,752.37 907.45,731.68 C 889.51,710.98 867.44,686.15 857.78,665.45 C 848.12,644.75 841.23,611.64 849.5,607.5 Z" fill="#aaa3d8" opacity="0.45" filter="url(#softE3)"/>
<path d="M 507,682.01 C 518.04,672.35 553.91,687.53 573.23,698.56 C 592.54,709.6 622.89,737.19 622.89,748.23 C 622.89,759.27 592.54,763.41 573.23,764.79 C 553.91,766.17 518.04,770.31 507,756.51 C 495.96,742.71 495.96,691.66 507,682.01 Z" fill="#aea7da" opacity="0.4" filter="url(#softE3)"/>
<path d="M 775,648.89 C 784.66,626.82 820.53,665.45 832.95,682.01 C 845.36,698.56 850.88,727.54 849.5,748.23 C 848.12,768.93 837.09,795.14 824.67,806.18 C 812.25,817.22 783.28,840.67 775,814.46 C 766.72,788.24 765.34,670.97 775,648.89 Z" fill="#cfcbea" opacity="0.6" filter="url(#softE3)"/>
<path d="M 705.68,822.74 C 720.82,808.77 767.62,794.98 780.01,806.18 C 792.4,817.38 795.16,875.99 780.01,889.95 C 764.86,903.92 701.51,901.16 689.12,889.95 C 676.73,878.75 690.53,836.7 705.68,822.74 Z" fill="#cfcbea" opacity="0.6" filter="url(#softE3)"/>
<path d="M 940.56,574.39 C 947.46,566.11 981.95,573.01 998.51,582.67 C 1015.07,592.33 1038.52,618.54 1039.9,632.34 C 1041.28,646.13 1020.58,665.45 1006.79,665.45 C 992.99,665.45 968.16,647.51 957.12,632.34 C 946.08,617.16 933.66,582.67 940.56,574.39 Z" fill="#cfcbea" opacity="0.6" filter="url(#softE3)"/>
<g transform="rotate(32 778 711)"><rect x="380" y="330" width="800" height="760" fill="#fff" filter="url(#nucE)"/></g>
<path d="M 900.83,678.7 C 902.21,669.04 914.62,664.9 924.01,665.45 C 933.39,666 949.67,673.73 957.12,682.01 C 964.57,690.28 967.05,701.32 968.71,715.12 C 970.36,728.92 969.54,754.58 967.05,764.79 C 964.57,775 959.33,776.93 953.81,776.38 C 948.29,775.83 940.29,770.31 933.94,761.48 C 927.59,752.65 921.25,737.19 915.73,723.4 C 910.21,709.6 899.45,688.35 900.83,678.7 Z" fill="#a88aa6" opacity="0.42" filter="url(#softE)"/>
<path d="M 801.49,566.11 C 807.28,561.97 819.7,557.83 829.64,562.8 C 839.57,567.77 850.88,586.53 861.09,595.91 C 871.3,605.3 883.17,610.26 890.89,619.09 C 898.62,627.92 903.59,639.79 907.45,648.89 C 911.31,658 915.18,669.31 914.07,673.73 C 912.97,678.14 907.45,680.9 900.83,675.38 C 894.21,669.87 883.72,650 874.34,640.62 C 864.96,631.23 854.19,625.44 844.54,619.09 C 834.88,612.75 824.67,607.78 816.39,602.54 C 808.11,597.29 797.35,593.71 794.87,587.64 C 792.38,581.57 795.7,570.25 801.49,566.11 Z" fill="#a88aa6" opacity="0.42" filter="url(#softE)"/>
<path d="M 813.08,642.27 C 816.39,638.41 832.12,639.51 837.91,642.27 C 843.71,645.03 847.85,653.86 847.85,658.83 C 847.85,663.79 842.88,670.97 837.91,672.07 C 832.95,673.18 822.19,670.42 818.05,665.45 C 813.91,660.48 809.77,646.13 813.08,642.27 Z" fill="#a88aa6" opacity="0.42" filter="url(#softE)"/>
<path d="M 808.11,811.15 C 810.04,806.45 825.22,804.52 829.64,807.83 C 834.05,811.15 836.53,826.32 834.6,831.01 C 832.67,835.7 822.46,839.29 818.05,835.98 C 813.63,832.67 806.18,815.84 808.11,811.15 Z" fill="#a88aa6" opacity="0.42" filter="url(#softE)"/>
<path d="M 1001.82,773.07 C 1003.75,767.82 1015.07,771.13 1018.38,776.38 C 1021.69,781.62 1023.62,799.28 1021.69,804.52 C 1019.76,809.77 1010.1,813.08 1006.79,807.83 C 1003.48,802.59 999.89,778.31 1001.82,773.07 Z" fill="#a88aa6" opacity="0.42" filter="url(#softE)"/>
<path d="M 1039.9,756.51 C 1041,750.72 1046.8,747.4 1048.18,753.2 C 1049.56,758.99 1049.28,785.48 1048.18,791.28 C 1047.08,797.07 1042.94,793.76 1041.56,787.97 C 1040.18,782.17 1038.8,762.3 1039.9,756.51 Z" fill="#a88aa6" opacity="0.42" filter="url(#softE)"/>
<path d="M 700.71,715.12 C 705.12,710.7 718.37,710.7 727.2,713.46 C 736.03,716.22 750.1,725.05 753.69,731.68 C 757.28,738.3 755.34,749.34 748.72,753.2 C 742.1,757.06 721.96,757.06 713.95,754.85 C 705.95,752.65 702.92,746.58 700.71,739.95 C 698.5,733.33 696.29,719.53 700.71,715.12 Z" fill="#a88aa6" opacity="0.42" filter="url(#softE)"/>
<path d="M 606.34,764.79 C 613.24,762.03 640,760.37 647.73,764.79 C 655.45,769.2 655.18,786.86 652.7,791.28 C 650.21,795.69 640.55,792.93 632.83,791.28 C 625.1,789.62 610.75,785.76 606.34,781.34 C 601.92,776.93 599.44,767.55 606.34,764.79 Z" fill="#a88aa6" opacity="0.42" filter="url(#softE)"/>
<path d="M 540.11,778.03 C 542.32,775.27 559.98,774.17 569.91,774.72 C 579.85,775.27 595.85,779.14 599.72,781.34 C 603.58,783.55 600.27,786.31 593.09,787.97 C 585.92,789.62 565.5,792.93 556.67,791.28 C 547.84,789.62 537.91,780.79 540.11,778.03 Z" fill="#a88aa6" opacity="0.42" filter="url(#softE)"/>
<path d="M 546.74,806.18 C 549.22,797.62 558.88,799 561.64,804.52 C 564.4,810.04 564.12,829.36 563.29,839.29 C 562.46,849.23 559.43,861.37 556.67,864.13 C 553.91,866.89 548.39,865.51 546.74,855.85 C 545.08,846.19 544.25,814.73 546.74,806.18 Z" fill="#a88aa6" opacity="0.42" filter="url(#softE)"/>
<path d="M 656.01,801.21 C 662.91,796.8 689.67,795.14 697.4,797.9 C 705.12,800.66 706.5,810.87 702.36,817.77 C 698.23,824.67 680.29,838.19 672.56,839.29 C 664.84,840.4 658.77,830.74 656.01,824.39 C 653.25,818.04 649.11,805.63 656.01,801.21 Z" fill="#a88aa6" opacity="0.42" filter="url(#softE)"/>
<path d="M 752.03,769.75 C 754.79,767.55 768.04,766.17 771.9,768.1 C 775.76,770.03 777.97,779.14 775.21,781.34 C 772.45,783.55 759.21,783.28 755.34,781.34 C 751.48,779.41 749.27,771.96 752.03,769.75 Z" fill="#a88aa6" opacity="0.42" filter="url(#softE)"/>
<path d="M 513.62,642.27 C 517.49,638.96 534.59,638.41 540.11,642.27 C 545.63,646.13 548.11,660.76 546.74,665.45 C 545.36,670.14 536.8,670.97 531.83,670.42 C 526.87,669.87 519.97,666.83 516.93,662.14 C 513.9,657.45 509.76,645.58 513.62,642.27 Z" fill="#a88aa6" opacity="0.42" filter="url(#softE)"/>
<path d="M 738.79,549.56 C 745.41,546.8 759.76,545.69 765.28,549.56 C 770.8,553.42 774.94,567.22 771.9,572.74 C 768.87,578.25 754.79,583.77 747.07,582.67 C 739.34,581.57 726.92,571.63 725.54,566.11 C 724.16,560.59 732.17,552.32 738.79,549.56 Z" fill="#a88aa6" opacity="0.42" filter="url(#softE)"/>
<path d="M 507,739.95 C 510.31,738.02 523.83,739.13 526.87,741.61 C 529.9,744.09 528.52,752.92 525.21,754.85 C 521.9,756.79 510.04,755.68 507,753.2 C 503.96,750.72 503.69,741.89 507,739.95 Z" fill="#a88aa6" opacity="0.42" filter="url(#softE)"/>
<path d="M 536.67,530 C 550.16,528.84 601.48,528.61 615.42,530 C 629.35,531.39 617.85,535.56 620.28,538.33 C 622.71,541.11 626.53,543.43 630,546.67 C 633.47,549.91 637.64,553.84 641.11,557.78 C 644.58,561.71 647.59,566.11 650.83,570.28 C 654.07,574.44 657.55,579.31 660.56,582.78 C 663.56,586.25 665.88,587.64 668.89,591.11 C 671.9,594.58 675.14,599.68 678.61,603.61 C 682.08,607.55 686.25,611.25 689.72,614.72 C 693.19,618.19 695.97,620.97 699.44,624.44 C 702.92,627.92 707.08,631.62 710.56,635.56 C 714.03,639.49 717.73,643.89 720.28,648.06 C 722.82,652.22 725.14,657.55 725.83,660.56 C 726.53,663.56 726.53,664.95 724.44,666.11 C 722.36,667.27 717.5,667.73 713.33,667.5 C 709.17,667.27 704.07,665.42 699.44,664.72 C 694.81,664.03 688.8,662.87 685.56,663.33 C 682.31,663.8 681.62,665.88 680,667.5 C 678.38,669.12 676.99,670.74 675.83,673.06 C 674.68,675.37 673.98,679.77 673.06,681.39 C 672.13,683.01 671.09,683.01 670.28,682.78 C 669.47,682.55 668.89,682.31 668.19,680 C 667.5,677.69 666.92,672.59 666.11,668.89 C 665.3,665.19 664.49,660.79 663.33,657.78 C 662.18,654.77 660.32,653.61 659.17,650.83 C 658.01,648.06 657.55,644.58 656.39,641.11 C 655.23,637.64 654.07,633.47 652.22,630 C 650.37,626.53 647.82,623.52 645.28,620.28 C 642.73,617.04 639.72,614.03 636.94,610.56 C 634.17,607.08 631.39,603.15 628.61,599.44 C 625.83,595.74 623.29,592.04 620.28,588.33 C 617.27,584.63 614.03,580.69 610.56,577.22 C 607.08,573.75 603.15,570.74 599.44,567.5 C 595.74,564.26 592.04,560.56 588.33,557.78 C 584.63,555 581.39,553.38 577.22,550.83 C 573.06,548.29 567.38,544.7 563.33,542.5 C 559.28,540.3 555.46,537.99 552.92,537.64 C 550.37,537.29 549.68,538.91 548.06,540.42 C 546.44,541.92 544.7,543.77 543.19,546.67 C 541.69,549.56 540.42,553.61 539.03,557.78 C 537.64,561.94 536.13,567.5 534.86,571.67 C 533.59,575.83 532.55,579.77 531.39,582.78 C 530.23,585.79 528.89,588.33 527.92,589.72 C 526.94,591.11 526.13,591.46 525.56,591.11 C 524.98,590.76 524.4,590.19 524.44,587.64 C 524.49,585.09 525.14,580.12 525.83,575.83 C 526.53,571.55 527.57,566.57 528.61,561.94 C 529.65,557.31 531.11,552.22 532.08,548.06 C 533.06,543.89 533.68,539.95 534.44,536.94 C 535.21,533.94 523.17,531.16 536.67,530 Z" fill="none" stroke="#7d6cbb" stroke-width="12" opacity="0.9" filter="url(#softE)"/>
<path d="M 536.67,530 C 550.16,528.84 601.48,528.61 615.42,530 C 629.35,531.39 617.85,535.56 620.28,538.33 C 622.71,541.11 626.53,543.43 630,546.67 C 633.47,549.91 637.64,553.84 641.11,557.78 C 644.58,561.71 647.59,566.11 650.83,570.28 C 654.07,574.44 657.55,579.31 660.56,582.78 C 663.56,586.25 665.88,587.64 668.89,591.11 C 671.9,594.58 675.14,599.68 678.61,603.61 C 682.08,607.55 686.25,611.25 689.72,614.72 C 693.19,618.19 695.97,620.97 699.44,624.44 C 702.92,627.92 707.08,631.62 710.56,635.56 C 714.03,639.49 717.73,643.89 720.28,648.06 C 722.82,652.22 725.14,657.55 725.83,660.56 C 726.53,663.56 726.53,664.95 724.44,666.11 C 722.36,667.27 717.5,667.73 713.33,667.5 C 709.17,667.27 704.07,665.42 699.44,664.72 C 694.81,664.03 688.8,662.87 685.56,663.33 C 682.31,663.8 681.62,665.88 680,667.5 C 678.38,669.12 676.99,670.74 675.83,673.06 C 674.68,675.37 673.98,679.77 673.06,681.39 C 672.13,683.01 671.09,683.01 670.28,682.78 C 669.47,682.55 668.89,682.31 668.19,680 C 667.5,677.69 666.92,672.59 666.11,668.89 C 665.3,665.19 664.49,660.79 663.33,657.78 C 662.18,654.77 660.32,653.61 659.17,650.83 C 658.01,648.06 657.55,644.58 656.39,641.11 C 655.23,637.64 654.07,633.47 652.22,630 C 650.37,626.53 647.82,623.52 645.28,620.28 C 642.73,617.04 639.72,614.03 636.94,610.56 C 634.17,607.08 631.39,603.15 628.61,599.44 C 625.83,595.74 623.29,592.04 620.28,588.33 C 617.27,584.63 614.03,580.69 610.56,577.22 C 607.08,573.75 603.15,570.74 599.44,567.5 C 595.74,564.26 592.04,560.56 588.33,557.78 C 584.63,555 581.39,553.38 577.22,550.83 C 573.06,548.29 567.38,544.7 563.33,542.5 C 559.28,540.3 555.46,537.99 552.92,537.64 C 550.37,537.29 549.68,538.91 548.06,540.42 C 546.44,541.92 544.7,543.77 543.19,546.67 C 541.69,549.56 540.42,553.61 539.03,557.78 C 537.64,561.94 536.13,567.5 534.86,571.67 C 533.59,575.83 532.55,579.77 531.39,582.78 C 530.23,585.79 528.89,588.33 527.92,589.72 C 526.94,591.11 526.13,591.46 525.56,591.11 C 524.98,590.76 524.4,590.19 524.44,587.64 C 524.49,585.09 525.14,580.12 525.83,575.83 C 526.53,571.55 527.57,566.57 528.61,561.94 C 529.65,557.31 531.11,552.22 532.08,548.06 C 533.06,543.89 533.68,539.95 534.44,536.94 C 535.21,533.94 523.17,531.16 536.67,530 Z" fill="#f4ecef" filter="url(#softE)"/>
<path d="M 550.05,804.52 C 554.19,801.49 564.95,798.45 573.23,796.25 C 581.5,794.04 591.44,791 599.72,791.28 C 607.99,791.55 616.27,797.9 622.89,797.9 C 629.52,797.9 634.76,790.73 639.45,791.28 C 644.14,791.83 645.52,797.35 651.04,801.21 C 656.56,805.08 665.66,810.59 672.56,814.46 C 679.46,818.32 687.46,820.8 692.43,824.39 C 697.4,827.98 702.92,832.12 702.36,835.98 C 701.81,839.84 694.09,845.09 689.12,847.57 C 684.15,850.05 678.08,849.23 672.56,850.88 C 667.04,852.54 660.42,854.74 656.01,857.5 C 651.59,860.26 649.94,864.4 646.07,867.44 C 642.21,870.47 638.35,873.78 632.83,875.72 C 627.31,877.65 620.13,878.75 612.96,879.03 C 605.79,879.3 596.96,878.2 589.78,877.37 C 582.61,876.54 575.43,876.27 569.91,874.06 C 564.4,871.85 559.7,868.54 556.67,864.13 C 553.63,859.71 551.98,853.09 551.7,847.57 C 551.43,842.05 555.57,836.53 555.01,831.01 C 554.46,825.49 549.22,818.87 548.39,814.46 C 547.56,810.04 545.91,807.56 550.05,804.52 Z" fill="none" stroke="#9a7fa8" stroke-width="12" opacity="0.9" filter="url(#softE)"/>
<path d="M 550.05,804.52 C 554.19,801.49 564.95,798.45 573.23,796.25 C 581.5,794.04 591.44,791 599.72,791.28 C 607.99,791.55 616.27,797.9 622.89,797.9 C 629.52,797.9 634.76,790.73 639.45,791.28 C 644.14,791.83 645.52,797.35 651.04,801.21 C 656.56,805.08 665.66,810.59 672.56,814.46 C 679.46,818.32 687.46,820.8 692.43,824.39 C 697.4,827.98 702.92,832.12 702.36,835.98 C 701.81,839.84 694.09,845.09 689.12,847.57 C 684.15,850.05 678.08,849.23 672.56,850.88 C 667.04,852.54 660.42,854.74 656.01,857.5 C 651.59,860.26 649.94,864.4 646.07,867.44 C 642.21,870.47 638.35,873.78 632.83,875.72 C 627.31,877.65 620.13,878.75 612.96,879.03 C 605.79,879.3 596.96,878.2 589.78,877.37 C 582.61,876.54 575.43,876.27 569.91,874.06 C 564.4,871.85 559.7,868.54 556.67,864.13 C 553.63,859.71 551.98,853.09 551.7,847.57 C 551.43,842.05 555.57,836.53 555.01,831.01 C 554.46,825.49 549.22,818.87 548.39,814.46 C 547.56,810.04 545.91,807.56 550.05,804.52 Z" fill="#f4ecef" filter="url(#softE)"/>
<path d="M 507,764.79 C 508.66,760.1 512.79,762.58 516.93,763.13 C 521.07,763.68 527.97,765.62 531.83,768.1 C 535.7,770.58 540.94,774.72 540.11,778.03 C 539.28,781.34 530.73,785.76 526.87,787.97 C 523,790.17 520.25,790.73 516.93,791.28 C 513.62,791.83 508.66,795.69 507,791.28 C 505.34,786.86 505.34,769.48 507,764.79 Z" fill="none" stroke="#9a86b8" stroke-width="5" opacity="0.9" filter="url(#softE)"/>
<path d="M 507,764.79 C 508.66,760.1 512.79,762.58 516.93,763.13 C 521.07,763.68 527.97,765.62 531.83,768.1 C 535.7,770.58 540.94,774.72 540.11,778.03 C 539.28,781.34 530.73,785.76 526.87,787.97 C 523,790.17 520.25,790.73 516.93,791.28 C 513.62,791.83 508.66,795.69 507,791.28 C 505.34,786.86 505.34,769.48 507,764.79 Z" fill="#f4ecef" filter="url(#softE)"/>
<path d="M 716.44,728.36 C 718.37,726.43 722.92,724.78 727.2,725.05 C 731.48,725.33 739.06,727.81 742.1,730.02 C 745.13,732.23 746.51,736.09 745.41,738.3 C 744.31,740.51 739.62,742.44 735.48,743.26 C 731.34,744.09 723.89,744.37 720.58,743.26 C 717.26,742.16 716.3,739.13 715.61,736.64 C 714.92,734.16 714.51,730.3 716.44,728.36 Z" fill="none" stroke="#9a7fa8" stroke-width="5" opacity="0.9" filter="url(#softE)"/>
<path d="M 716.44,728.36 C 718.37,726.43 722.92,724.78 727.2,725.05 C 731.48,725.33 739.06,727.81 742.1,730.02 C 745.13,732.23 746.51,736.09 745.41,738.3 C 744.31,740.51 739.62,742.44 735.48,743.26 C 731.34,744.09 723.89,744.37 720.58,743.26 C 717.26,742.16 716.3,739.13 715.61,736.64 C 714.92,734.16 714.51,730.3 716.44,728.36 Z" fill="#f4ecef" filter="url(#softE)"/>
<path d="M 694.09,776.38 C 696.02,774.45 702.23,772.51 705.68,773.07 C 709.12,773.62 713.4,776.93 714.78,779.69 C 716.16,782.45 716.02,787.69 713.95,789.62 C 711.88,791.55 705.68,792.11 702.36,791.28 C 699.05,790.45 695.47,787.14 694.09,784.66 C 692.71,782.17 692.15,778.31 694.09,776.38 Z" fill="none" stroke="#9a86b8" stroke-width="5" opacity="0.9" filter="url(#softE)"/>
<path d="M 694.09,776.38 C 696.02,774.45 702.23,772.51 705.68,773.07 C 709.12,773.62 713.4,776.93 714.78,779.69 C 716.16,782.45 716.02,787.69 713.95,789.62 C 711.88,791.55 705.68,792.11 702.36,791.28 C 699.05,790.45 695.47,787.14 694.09,784.66 C 692.71,782.17 692.15,778.31 694.09,776.38 Z" fill="#f4ecef" filter="url(#softE)"/>
<path d="M 566.6,710.15 C 568.26,708.91 572.67,707.67 574.88,708.5 C 577.09,709.32 579.57,712.91 579.85,715.12 C 580.12,717.33 578.47,720.64 576.54,721.74 C 574.6,722.85 570.19,722.71 568.26,721.74 C 566.33,720.78 565.22,717.88 564.95,715.95 C 564.67,714.02 564.95,711.39 566.6,710.15 Z" fill="none" stroke="#9a86b8" stroke-width="5" opacity="0.9" filter="url(#softE)"/>
<path d="M 566.6,710.15 C 568.26,708.91 572.67,707.67 574.88,708.5 C 577.09,709.32 579.57,712.91 579.85,715.12 C 580.12,717.33 578.47,720.64 576.54,721.74 C 574.6,722.85 570.19,722.71 568.26,721.74 C 566.33,720.78 565.22,717.88 564.95,715.95 C 564.67,714.02 564.95,711.39 566.6,710.15 Z" fill="#f4ecef" filter="url(#softE)"/>
<path d="M 575.71,725.05 C 577.09,723.81 582.61,722.85 584.81,723.4 C 587.02,723.95 588.95,726.98 588.95,728.36 C 588.95,729.74 586.88,731.26 584.81,731.68 C 582.75,732.09 578.05,731.95 576.54,730.85 C 575.02,729.74 574.33,726.29 575.71,725.05 Z" fill="none" stroke="#a396cc" stroke-width="3" opacity="0.9" filter="url(#softE)"/>
<path d="M 575.71,725.05 C 577.09,723.81 582.61,722.85 584.81,723.4 C 587.02,723.95 588.95,726.98 588.95,728.36 C 588.95,729.74 586.88,731.26 584.81,731.68 C 582.75,732.09 578.05,731.95 576.54,730.85 C 575.02,729.74 574.33,726.29 575.71,725.05 Z" fill="#f4ecef" filter="url(#softE)"/>
<path d="M 559.98,733.33 C 561.64,732.37 567.29,732.78 569.09,734.16 C 570.88,735.54 571.57,739.95 570.74,741.61 C 569.91,743.26 566.05,744.37 564.12,744.09 C 562.19,743.82 559.84,741.75 559.15,739.95 C 558.46,738.16 558.32,734.3 559.98,733.33 Z" fill="none" stroke="#a396cc" stroke-width="3" opacity="0.9" filter="url(#softE)"/>
<path d="M 559.98,733.33 C 561.64,732.37 567.29,732.78 569.09,734.16 C 570.88,735.54 571.57,739.95 570.74,741.61 C 569.91,743.26 566.05,744.37 564.12,744.09 C 562.19,743.82 559.84,741.75 559.15,739.95 C 558.46,738.16 558.32,734.3 559.98,733.33 Z" fill="#f4ecef" filter="url(#softE)"/>
<path d="M 551.7,743.26 C 552.94,742.44 558.74,742.99 559.98,744.09 C 561.22,745.2 560.39,749.06 559.15,749.89 C 557.91,750.72 553.77,750.16 552.53,749.06 C 551.29,747.96 550.46,744.09 551.7,743.26 Z" fill="none" stroke="#a396cc" stroke-width="3" opacity="0.9" filter="url(#softE)"/>
<path d="M 551.7,743.26 C 552.94,742.44 558.74,742.99 559.98,744.09 C 561.22,745.2 560.39,749.06 559.15,749.89 C 557.91,750.72 553.77,750.16 552.53,749.06 C 551.29,747.96 550.46,744.09 551.7,743.26 Z" fill="#f4ecef" filter="url(#softE)"/>
<path d="M 535.15,663.79 C 536.25,662.83 541.22,662.97 542.6,663.79 C 543.98,664.62 544.53,667.8 543.42,668.76 C 542.32,669.73 537.35,670.42 535.97,669.59 C 534.59,668.76 534.04,664.76 535.15,663.79 Z" fill="none" stroke="#a396cc" stroke-width="3" opacity="0.9" filter="url(#softE)"/>
<path d="M 535.15,663.79 C 536.25,662.83 541.22,662.97 542.6,663.79 C 543.98,664.62 544.53,667.8 543.42,668.76 C 542.32,669.73 537.35,670.42 535.97,669.59 C 534.59,668.76 534.04,664.76 535.15,663.79 Z" fill="#f4ecef" filter="url(#softE)"/>
<path d="M 983.61,529.69 C 992.85,526.65 1037.69,526.38 1047.35,529.69 C 1057.01,533 1043.07,543.9 1041.56,549.56 C 1040.04,555.21 1040.45,560.87 1038.25,563.63 C 1036.04,566.39 1033,566.66 1028.31,566.11 C 1023.62,565.56 1016.17,563.35 1010.1,560.32 C 1004.03,557.28 996.3,553.01 991.89,547.9 C 987.47,542.8 974.37,532.72 983.61,529.69 Z" fill="none" stroke="#7d6cbb" stroke-width="13" opacity="0.9" filter="url(#softE)"/>
<path d="M 983.61,529.69 C 992.85,526.65 1037.69,526.38 1047.35,529.69 C 1057.01,533 1043.07,543.9 1041.56,549.56 C 1040.04,555.21 1040.45,560.87 1038.25,563.63 C 1036.04,566.39 1033,566.66 1028.31,566.11 C 1023.62,565.56 1016.17,563.35 1010.1,560.32 C 1004.03,557.28 996.3,553.01 991.89,547.9 C 987.47,542.8 974.37,532.72 983.61,529.69 Z" fill="#f4ecef" filter="url(#softE)"/>
<path d="M 889.24,551.21 C 890.07,548.26 898.07,548.45 902.48,550.38 C 906.9,552.32 912.56,558.47 915.73,562.8 C 918.9,567.13 922.08,573.95 921.52,576.38 C 920.97,578.81 916.42,578.75 912.42,577.37 C 908.42,575.99 901.38,572.46 897.52,568.1 C 893.65,563.74 888.41,554.16 889.24,551.21 Z" fill="none" stroke="#9084c4" stroke-width="7" opacity="0.9" filter="url(#softE)"/>
<path d="M 889.24,551.21 C 890.07,548.26 898.07,548.45 902.48,550.38 C 906.9,552.32 912.56,558.47 915.73,562.8 C 918.9,567.13 922.08,573.95 921.52,576.38 C 920.97,578.81 916.42,578.75 912.42,577.37 C 908.42,575.99 901.38,572.46 897.52,568.1 C 893.65,563.74 888.41,554.16 889.24,551.21 Z" fill="#f4ecef" filter="url(#softE)"/>
<path d="M 791.56,590.95 C 792.25,588.6 796.8,587.36 800.66,589.29 C 804.53,591.22 812.06,598.34 814.74,602.54 C 817.41,606.73 817.49,612.33 816.72,614.46 C 815.95,616.58 813.47,617.13 810.1,615.28 C 806.73,613.44 799.61,607.42 796.52,603.36 C 793.43,599.31 790.87,593.29 791.56,590.95 Z" fill="none" stroke="#9a86b8" stroke-width="6" opacity="0.9" filter="url(#softE)"/>
<path d="M 791.56,590.95 C 792.25,588.6 796.8,587.36 800.66,589.29 C 804.53,591.22 812.06,598.34 814.74,602.54 C 817.41,606.73 817.49,612.33 816.72,614.46 C 815.95,616.58 813.47,617.13 810.1,615.28 C 806.73,613.44 799.61,607.42 796.52,603.36 C 793.43,599.31 790.87,593.29 791.56,590.95 Z" fill="#f4ecef" filter="url(#softE)"/>
<path d="M 813.91,572.74 C 815.42,571.22 821.91,570.25 824.67,571.91 C 827.43,573.56 830.74,580.38 830.46,582.67 C 830.19,584.96 825.5,585.92 823.01,585.65 C 820.53,585.37 817.08,583.17 815.56,581.01 C 814.05,578.86 812.39,574.25 813.91,572.74 Z" fill="none" stroke="#9a86b8" stroke-width="5" opacity="0.9" filter="url(#softE)"/>
<path d="M 813.91,572.74 C 815.42,571.22 821.91,570.25 824.67,571.91 C 827.43,573.56 830.74,580.38 830.46,582.67 C 830.19,584.96 825.5,585.92 823.01,585.65 C 820.53,585.37 817.08,583.17 815.56,581.01 C 814.05,578.86 812.39,574.25 813.91,572.74 Z" fill="#f4ecef" filter="url(#softE)"/>
<path d="M 857.78,614.13 C 859.71,612.47 868.82,613.3 872.68,615.78 C 876.55,618.26 880.68,626.27 880.96,629.03 C 881.24,631.79 877.65,632.89 874.34,632.34 C 871.03,631.79 863.85,628.75 861.09,625.72 C 858.33,622.68 855.85,615.78 857.78,614.13 Z" fill="none" stroke="#9a86b8" stroke-width="5" opacity="0.9" filter="url(#softE)"/>
<path d="M 857.78,614.13 C 859.71,612.47 868.82,613.3 872.68,615.78 C 876.55,618.26 880.68,626.27 880.96,629.03 C 881.24,631.79 877.65,632.89 874.34,632.34 C 871.03,631.79 863.85,628.75 861.09,625.72 C 858.33,622.68 855.85,615.78 857.78,614.13 Z" fill="#f4ecef" filter="url(#softE)"/>
<path d="M 890.89,633.99 C 892.27,632.75 898.07,632.61 900.83,634.82 C 903.59,637.03 907.45,644.89 907.45,647.24 C 907.45,649.58 903.31,649.72 900.83,648.89 C 898.34,648.07 894.21,644.75 892.55,642.27 C 890.89,639.79 889.51,635.24 890.89,633.99 Z" fill="none" stroke="#9a86b8" stroke-width="4" opacity="0.9" filter="url(#softE)"/>
<path d="M 890.89,633.99 C 892.27,632.75 898.07,632.61 900.83,634.82 C 903.59,637.03 907.45,644.89 907.45,647.24 C 907.45,649.58 903.31,649.72 900.83,648.89 C 898.34,648.07 894.21,644.75 892.55,642.27 C 890.89,639.79 889.51,635.24 890.89,633.99 Z" fill="#f4ecef" filter="url(#softE)"/>
<path d="M 947.19,705.19 C 948.84,703.94 955.05,702.98 957.12,704.36 C 959.19,705.74 960.43,711.53 959.6,713.46 C 958.77,715.4 954.22,716.22 952.15,715.95 C 950.08,715.67 948.01,713.6 947.19,711.81 C 946.36,710.01 945.53,706.43 947.19,705.19 Z" fill="none" stroke="#a396cc" stroke-width="4" opacity="0.9" filter="url(#softE)"/>
<path d="M 947.19,705.19 C 948.84,703.94 955.05,702.98 957.12,704.36 C 959.19,705.74 960.43,711.53 959.6,713.46 C 958.77,715.4 954.22,716.22 952.15,715.95 C 950.08,715.67 948.01,713.6 947.19,711.81 C 946.36,710.01 945.53,706.43 947.19,705.19 Z" fill="#f4ecef" filter="url(#softE)"/>
<path d="M 952.15,754.85 C 953.26,752.23 958.77,751.82 960.43,754.03 C 962.09,756.23 963.19,765.48 962.09,768.1 C 960.98,770.72 955.46,771.96 953.81,769.75 C 952.15,767.55 951.05,757.48 952.15,754.85 Z" fill="none" stroke="#a396cc" stroke-width="4" opacity="0.9" filter="url(#softE)"/>
<path d="M 952.15,754.85 C 953.26,752.23 958.77,751.82 960.43,754.03 C 962.09,756.23 963.19,765.48 962.09,768.1 C 960.98,770.72 955.46,771.96 953.81,769.75 C 952.15,767.55 951.05,757.48 952.15,754.85 Z" fill="#f4ecef" filter="url(#softE)"/>
<path d="M 856.95,779.69 C 858.61,776.93 863.16,777.76 865.23,781.34 C 867.3,784.93 869.37,795.69 869.37,801.21 C 869.37,806.73 867.03,812.53 865.23,814.46 C 863.44,816.39 860.26,815.56 858.61,812.8 C 856.95,810.04 855.57,803.42 855.3,797.9 C 855.02,792.38 855.3,782.45 856.95,779.69 Z" fill="none" stroke="#9084c4" stroke-width="6" opacity="0.9" filter="url(#softE)"/>
<path d="M 856.95,779.69 C 858.61,776.93 863.16,777.76 865.23,781.34 C 867.3,784.93 869.37,795.69 869.37,801.21 C 869.37,806.73 867.03,812.53 865.23,814.46 C 863.44,816.39 860.26,815.56 858.61,812.8 C 856.95,810.04 855.57,803.42 855.3,797.9 C 855.02,792.38 855.3,782.45 856.95,779.69 Z" fill="#f4ecef" filter="url(#softE)"/>
<path d="M 1008.44,688.63 C 1009.13,687.39 1012.31,687.53 1013.41,688.63 C 1014.51,689.73 1015.76,694.01 1015.07,695.25 C 1014.38,696.49 1010.38,697.18 1009.27,696.08 C 1008.17,694.98 1007.75,689.87 1008.44,688.63 Z" fill="none" stroke="#a396cc" stroke-width="3" opacity="0.9" filter="url(#softE)"/>
<path d="M 1008.44,688.63 C 1009.13,687.39 1012.31,687.53 1013.41,688.63 C 1014.51,689.73 1015.76,694.01 1015.07,695.25 C 1014.38,696.49 1010.38,697.18 1009.27,696.08 C 1008.17,694.98 1007.75,689.87 1008.44,688.63 Z" fill="#f4ecef" filter="url(#softE)"/>
<path d="M 852.81,847.57 C 855.3,844.81 864.13,843.71 867.72,845.91 C 871.3,848.12 874.89,857.23 874.34,860.81 C 873.79,864.4 867.99,867.16 864.4,867.44 C 860.82,867.71 854.75,865.78 852.81,862.47 C 850.88,859.16 850.33,850.33 852.81,847.57 Z" fill="none" stroke="#a396cc" stroke-width="4" opacity="0.9" filter="url(#softE)"/>
<path d="M 852.81,847.57 C 855.3,844.81 864.13,843.71 867.72,845.91 C 871.3,848.12 874.89,857.23 874.34,860.81 C 873.79,864.4 867.99,867.16 864.4,867.44 C 860.82,867.71 854.75,865.78 852.81,862.47 C 850.88,859.16 850.33,850.33 852.81,847.57 Z" fill="#f4ecef" filter="url(#softE)"/>
<g transform="translate(574.88 602.54) rotate(-20)" filter="url(#softE)"><ellipse rx="9.6" ry="15.89" fill="#8576c0" opacity="0.85"/><ellipse rx="2.15" ry="6.62" fill="#f4ecef"/></g>
<g transform="translate(586.47 628.7) rotate(0)" filter="url(#softE)"><ellipse rx="8.94" ry="11.92" fill="#8576c0" opacity="0.85"/><ellipse rx="2.65" ry="5.3" fill="#f4ecef"/></g>
<g transform="translate(602.2 642.6) rotate(0)" filter="url(#softE)"><ellipse rx="10.26" ry="12.91" fill="#8576c0" opacity="0.85"/><ellipse rx="2.98" ry="5.96" fill="#f4ecef"/></g>
<g transform="translate(1008.44 611.64) rotate(0)" filter="url(#softE)"><ellipse rx="14.07" ry="12.91" fill="#8a7cc2" opacity="0.85"/><ellipse rx="5.63" ry="7.45" fill="#f4ecef"/></g>
<g transform="translate(829.64 656.34) rotate(20)" filter="url(#softE)"><ellipse rx="17.38" ry="15.23" fill="#9c7fa6" opacity="0.85"/><ellipse rx="6.95" ry="5.96" fill="#f4ecef"/></g>
<g transform="translate(821.36 821.91) rotate(0)" filter="url(#softE)"><ellipse rx="11.92" ry="14.57" fill="#9a7aa0" opacity="0.85"/><ellipse rx="3.64" ry="3.64" fill="#f4ecef"/></g>
<g transform="translate(1010.93 789.62) rotate(0)" filter="url(#softE)"><ellipse rx="9.11" ry="17.38" fill="#9c80a6" opacity="0.85"/><ellipse rx="2.65" ry="6.29" fill="#f4ecef"/></g>
<g transform="translate(1011.75 691.94) rotate(0)" filter="url(#softE)"><ellipse rx="4.97" ry="6.62" fill="#a090c8" opacity="0.85"/><ellipse rx="1.99" ry="2.98" fill="#f4ecef"/></g>
<path d="M 1056.46,791.28 C 1055.08,774.17 1052.04,791.83 1048.18,794.59 C 1044.32,797.35 1037.97,802.87 1033.28,807.83 C 1028.59,812.8 1025,820.53 1020.03,824.39 C 1015.07,828.25 1008.72,829.36 1003.48,831.01 C 998.23,832.67 993.54,832.39 988.58,834.32 C 983.61,836.26 978.09,838.74 973.68,842.6 C 969.26,846.47 965.4,852.54 962.09,857.5 C 958.77,862.47 955.74,865.78 953.81,872.4 C 951.88,879.03 933.39,893.1 950.5,897.24 C 967.6,901.38 1038.8,914.9 1056.46,897.24 C 1074.12,879.58 1057.84,808.39 1056.46,791.28 Z" fill="#f4ecef" filter="url(#softE)"/>
</g>
<line x1="513.7" y1="893.2" x2="552" y2="893.2" stroke="#000" stroke-width="1.3" stroke-linecap="butt"/>
<text transform="translate(513.7 905.6) scale(1 1.05)" font-size="10.5">100 µm</text>
<text transform="translate(1122.5 512.8) scale(1 1.05)" font-size="40" font-weight="bold">f</text>
<text transform="translate(1289.5 513.4) scale(1 1.05)" font-size="22.8" text-anchor="middle">TCGA-PDAC</text>
<path d="M 1248.44,632.04 C 1247.97,634.35 1247.45,638.98 1246.12,643.61 C 1244.79,648.24 1242.94,649.4 1241.78,655.19 C 1240.62,660.97 1242.25,666.47 1240.34,672.55 C 1238.43,678.62 1234.49,680.36 1232.23,685.57 C 1229.98,690.78 1229.46,692.51 1229.05,698.59 C 1228.65,704.66 1229.57,707.85 1230.21,715.95 C 1230.84,724.05 1230.5,730.42 1232.23,739.1 C 1233.97,747.78 1236.4,751.83 1238.89,759.35 C 1241.38,766.88 1243.06,770.93 1244.68,776.71 C 1246.3,782.5 1246.41,780.19 1246.99,788.29 C 1247.57,796.39 1247.45,808.54 1247.57,817.22 C 1247.69,825.9 1247.28,825.9 1247.57,831.69 C 1247.86,837.48 1248.55,838.06 1249.02,846.16 C 1249.48,854.26 1249.71,866.99 1249.88,872.2  L 1255.09,872.2 C 1255.27,866.99 1255.5,854.26 1255.96,846.16 C 1256.42,838.06 1257.12,837.48 1257.41,831.69 C 1257.7,825.9 1257.29,825.9 1257.41,817.22 C 1257.52,808.54 1257.41,796.39 1257.99,788.29 C 1258.56,780.19 1258.68,782.5 1260.3,776.71 C 1261.92,770.93 1263.6,766.88 1266.09,759.35 C 1268.58,751.83 1271.01,747.78 1272.74,739.1 C 1274.48,730.42 1274.13,724.05 1274.77,715.95 C 1275.41,707.85 1276.33,704.66 1275.93,698.59 C 1275.52,692.51 1275,690.78 1272.74,685.57 C 1270.49,680.36 1266.55,678.62 1264.64,672.55 C 1262.73,666.47 1264.35,660.97 1263.19,655.19 C 1262.04,649.4 1260.19,648.24 1258.85,643.61 C 1257.52,638.98 1257,634.35 1256.54,632.04  Z" fill="#000" stroke="#000" stroke-width="2.2" stroke-linejoin="round"/>
<line x1="1233.97" y1="690.49" x2="1271.01" y2="690.49" stroke="#fff" stroke-width="2.2" stroke-linecap="butt" stroke-dasharray="2 2"/>
<line x1="1232.23" y1="718.26" x2="1272.74" y2="718.26" stroke="#fff" stroke-width="2.2" stroke-linecap="butt" stroke-dasharray="7 4"/>
<line x1="1238.31" y1="751.25" x2="1266.67" y2="751.25" stroke="#fff" stroke-width="2.2" stroke-linecap="butt" stroke-dasharray="2 2"/>
<path d="M 1320.49,626.83 C 1320.6,630.19 1321.99,637.94 1321.06,643.61 C 1320.14,649.28 1318.52,650.56 1315.86,655.19 C 1313.19,659.81 1310.47,662.13 1307.75,666.76 C 1305.03,671.39 1303.76,673.12 1302.26,678.33 C 1300.75,683.54 1300.12,688.17 1300.23,692.8 C 1300.35,697.43 1301.33,698.01 1302.84,701.48 C 1304.34,704.95 1305.73,706.11 1307.75,710.16 C 1309.78,714.21 1311.52,715.37 1312.96,721.74 C 1314.41,728.1 1314.35,734.47 1314.99,741.99 C 1315.62,749.51 1315.34,752.99 1316.15,759.35 C 1316.96,765.72 1318.11,768.03 1319.04,773.82 C 1319.97,779.61 1320.43,781.92 1320.78,788.29 C 1321.12,794.65 1320.78,802.18 1320.78,805.65  L 1326.56,805.65 C 1326.56,802.18 1326.22,794.65 1326.56,788.29 C 1326.91,781.92 1327.37,779.61 1328.3,773.82 C 1329.22,768.03 1330.38,765.72 1331.19,759.35 C 1332,752.99 1331.71,749.51 1332.35,741.99 C 1332.99,734.47 1332.93,728.1 1334.38,721.74 C 1335.82,715.37 1337.56,714.21 1339.58,710.16 C 1341.61,706.11 1343,704.95 1344.5,701.48 C 1346.01,698.01 1346.99,697.43 1347.11,692.8 C 1347.22,688.17 1346.59,683.54 1345.08,678.33 C 1343.58,673.12 1342.3,671.39 1339.58,666.76 C 1336.86,662.13 1334.14,659.81 1331.48,655.19 C 1328.82,650.56 1327.2,649.28 1326.27,643.61 C 1325.35,637.94 1326.74,630.19 1326.85,626.83  Z" fill="#008a00" stroke="#000" stroke-width="2.2" stroke-linejoin="round"/>
<line x1="1304.28" y1="677.47" x2="1343.06" y2="677.47" stroke="#000" stroke-width="2.2" stroke-linecap="butt" stroke-dasharray="2 2"/>
<line x1="1302.84" y1="698.59" x2="1344.5" y2="698.59" stroke="#000" stroke-width="2.2" stroke-linecap="butt" stroke-dasharray="7 4"/>
<line x1="1315.86" y1="730.42" x2="1331.48" y2="730.42" stroke="#000" stroke-width="2.2" stroke-linecap="butt" stroke-dasharray="2 2"/>
<line x1="1210.5" y1="796.08" x2="1370.5" y2="796.08" stroke="#000" stroke-width="3.5" stroke-linecap="round" stroke-dasharray="0 6.8"/>
<line x1="1204.7" y1="544.3" x2="1204.7" y2="881.2" stroke="#000" stroke-width="3.6" stroke-linecap="butt"/>
<line x1="1191.2" y1="879.4" x2="1204.7" y2="879.4" stroke="#000" stroke-width="3.6" stroke-linecap="butt"/>
<text transform="translate(1186.4 887.97) scale(1 1.05)" font-size="23.8" text-anchor="end">-1</text>
<line x1="1191.2" y1="796.08" x2="1204.7" y2="796.08" stroke="#000" stroke-width="3.6" stroke-linecap="butt"/>
<text transform="translate(1186.4 804.64) scale(1 1.05)" font-size="23.8" text-anchor="end">0</text>
<line x1="1191.2" y1="712.75" x2="1204.7" y2="712.75" stroke="#000" stroke-width="3.6" stroke-linecap="butt"/>
<text transform="translate(1186.4 721.32) scale(1 1.05)" font-size="23.8" text-anchor="end">1</text>
<line x1="1191.2" y1="629.42" x2="1204.7" y2="629.42" stroke="#000" stroke-width="3.6" stroke-linecap="butt"/>
<text transform="translate(1186.4 637.99) scale(1 1.05)" font-size="23.8" text-anchor="end">2</text>
<line x1="1191.2" y1="546.1" x2="1204.7" y2="546.1" stroke="#000" stroke-width="3.6" stroke-linecap="butt"/>
<text transform="translate(1186.4 554.67) scale(1 1.05)" font-size="23.8" text-anchor="end">3</text>
<line x1="1191.2" y1="879.4" x2="1372" y2="879.4" stroke="#000" stroke-width="3.6" stroke-linecap="butt"/>
<polyline points="1252,613.2 1252,585.7 1324,585.7 1324,607.4" fill="none" stroke="#000" stroke-width="2.1" stroke-linecap="butt" stroke-linejoin="miter"/>
<text transform="translate(1288 571.3) scale(1 1.05)" font-size="17.5" text-anchor="middle">0.0360</text>
<text transform="translate(1127.5 711.5) rotate(-90) scale(1 1.05)" font-size="22.8" text-anchor="middle">MAPK14 pT180/Y182</text>
<text transform="translate(1155.5 711.5) rotate(-90) scale(1 1.05)" font-size="22.8" text-anchor="middle">Protein expression (RPPA)</text>
<rect x="1371" y="553" width="37" height="12.5" fill="#000" stroke="#000" stroke-width="1.5"/>
<rect x="1371" y="627.5" width="37" height="12.5" fill="#008a00" stroke="#000" stroke-width="1.5"/>
<text transform="translate(1419.7 567) scale(1 1.05)" font-size="22.8">Ferroptosis</text>
<text transform="translate(1419.7 595) scale(1 1.05)" font-size="22.8">Low</text>
<text transform="translate(1421 638.7) scale(1 1.05)" font-size="22.8">Ferroptosis</text>
<text transform="translate(1421 666.8) scale(1 1.05)" font-size="22.8">High</text>
<text transform="translate(1581.6 508) scale(1 1.05)" font-size="40" font-weight="bold">g</text>
<text transform="translate(1636.4 514.6) scale(1 1.05)" font-size="22.8">p38MAPK cascade GO:0038066</text>
<g shape-rendering="crispEdges"><rect x="1645.3" y="562.3" width="32.5" height="23.37" fill="#0d0dff"/><rect x="1677.2" y="562.3" width="32.5" height="23.37" fill="#1a1aff"/><rect x="1709.1" y="562.3" width="32.5" height="23.37" fill="#0000ff"/><rect x="1741" y="562.3" width="32.5" height="23.37" fill="#0000ff"/><rect x="1772.9" y="562.3" width="32.5" height="23.37" fill="#ff0000"/><rect x="1804.8" y="562.3" width="32.5" height="23.37" fill="#ff2121"/><rect x="1836.7" y="562.3" width="32.5" height="23.37" fill="#ff3333"/><rect x="1868.6" y="562.3" width="32.5" height="23.37" fill="#ff3333"/><rect x="1645.3" y="585.07" width="32.5" height="23.37" fill="#0000ff"/><rect x="1677.2" y="585.07" width="32.5" height="23.37" fill="#0000ff"/><rect x="1709.1" y="585.07" width="32.5" height="23.37" fill="#1212ff"/><rect x="1741" y="585.07" width="32.5" height="23.37" fill="#0d0dff"/><rect x="1772.9" y="585.07" width="32.5" height="23.37" fill="#ff2626"/><rect x="1804.8" y="585.07" width="32.5" height="23.37" fill="#ff3838"/><rect x="1836.7" y="585.07" width="32.5" height="23.37" fill="#ff1212"/><rect x="1868.6" y="585.07" width="32.5" height="23.37" fill="#ff0000"/><rect x="1645.3" y="607.85" width="32.5" height="23.37" fill="#0d0dff"/><rect x="1677.2" y="607.85" width="32.5" height="23.37" fill="#1a1aff"/><rect x="1709.1" y="607.85" width="32.5" height="23.37" fill="#1414ff"/><rect x="1741" y="607.85" width="32.5" height="23.37" fill="#0000ff"/><rect x="1772.9" y="607.85" width="32.5" height="23.37" fill="#ff3333"/><rect x="1804.8" y="607.85" width="32.5" height="23.37" fill="#ff3333"/><rect x="1836.7" y="607.85" width="32.5" height="23.37" fill="#ff2e2e"/><rect x="1868.6" y="607.85" width="32.5" height="23.37" fill="#ff0000"/><rect x="1645.3" y="630.62" width="32.5" height="23.37" fill="#4c4cff"/><rect x="1677.2" y="630.62" width="32.5" height="23.37" fill="#0d0dff"/><rect x="1709.1" y="630.62" width="32.5" height="23.37" fill="#0000ff"/><rect x="1741" y="630.62" width="32.5" height="23.37" fill="#1f1fff"/><rect x="1772.9" y="630.62" width="32.5" height="23.37" fill="#ff4040"/><rect x="1804.8" y="630.62" width="32.5" height="23.37" fill="#ff2121"/><rect x="1836.7" y="630.62" width="32.5" height="23.37" fill="#ff3b3b"/><rect x="1868.6" y="630.62" width="32.5" height="23.37" fill="#ff0000"/><rect x="1645.3" y="653.39" width="32.5" height="23.37" fill="#0000ff"/><rect x="1677.2" y="653.39" width="32.5" height="23.37" fill="#2b2bff"/><rect x="1709.1" y="653.39" width="32.5" height="23.37" fill="#0000ff"/><rect x="1741" y="653.39" width="32.5" height="23.37" fill="#0505ff"/><rect x="1772.9" y="653.39" width="32.5" height="23.37" fill="#ff6b6b"/><rect x="1804.8" y="653.39" width="32.5" height="23.37" fill="#ff4c4c"/><rect x="1836.7" y="653.39" width="32.5" height="23.37" fill="#ff0000"/><rect x="1868.6" y="653.39" width="32.5" height="23.37" fill="#ff0000"/><rect x="1645.3" y="676.17" width="32.5" height="23.37" fill="#0000ff"/><rect x="1677.2" y="676.17" width="32.5" height="23.37" fill="#3838ff"/><rect x="1709.1" y="676.17" width="32.5" height="23.37" fill="#1414ff"/><rect x="1741" y="676.17" width="32.5" height="23.37" fill="#0000ff"/><rect x="1772.9" y="676.17" width="32.5" height="23.37" fill="#ff6b6b"/><rect x="1804.8" y="676.17" width="32.5" height="23.37" fill="#ff3838"/><rect x="1836.7" y="676.17" width="32.5" height="23.37" fill="#ff0000"/><rect x="1868.6" y="676.17" width="32.5" height="23.37" fill="#ff2626"/><rect x="1645.3" y="698.94" width="32.5" height="23.37" fill="#6666ff"/><rect x="1677.2" y="698.94" width="32.5" height="23.37" fill="#0000ff"/><rect x="1709.1" y="698.94" width="32.5" height="23.37" fill="#5e5eff"/><rect x="1741" y="698.94" width="32.5" height="23.37" fill="#4747ff"/><rect x="1772.9" y="698.94" width="32.5" height="23.37" fill="#ff8c8c"/><rect x="1804.8" y="698.94" width="32.5" height="23.37" fill="#ff4040"/><rect x="1836.7" y="698.94" width="32.5" height="23.37" fill="#ff0000"/><rect x="1868.6" y="698.94" width="32.5" height="23.37" fill="#ff3333"/><rect x="1645.3" y="721.72" width="32.5" height="23.37" fill="#1414ff"/><rect x="1677.2" y="721.72" width="32.5" height="23.37" fill="#0000ff"/><rect x="1709.1" y="721.72" width="32.5" height="23.37" fill="#8080ff"/><rect x="1741" y="721.72" width="32.5" height="23.37" fill="#1414ff"/><rect x="1772.9" y="721.72" width="32.5" height="23.37" fill="#ff1414"/><rect x="1804.8" y="721.72" width="32.5" height="23.37" fill="#ff0000"/><rect x="1836.7" y="721.72" width="32.5" height="23.37" fill="#ff2e2e"/><rect x="1868.6" y="721.72" width="32.5" height="23.37" fill="#ff6b6b"/><rect x="1645.3" y="744.49" width="32.5" height="23.37" fill="#0d0dff"/><rect x="1677.2" y="744.49" width="32.5" height="23.37" fill="#3333ff"/><rect x="1709.1" y="744.49" width="32.5" height="23.37" fill="#0000ff"/><rect x="1741" y="744.49" width="32.5" height="23.37" fill="#3333ff"/><rect x="1772.9" y="744.49" width="32.5" height="23.37" fill="#ff8c8c"/><rect x="1804.8" y="744.49" width="32.5" height="23.37" fill="#ff2e2e"/><rect x="1836.7" y="744.49" width="32.5" height="23.37" fill="#ff5252"/><rect x="1868.6" y="744.49" width="32.5" height="23.37" fill="#ff0000"/><rect x="1645.3" y="767.26" width="32.5" height="23.37" fill="#0000ff"/><rect x="1677.2" y="767.26" width="32.5" height="23.37" fill="#7373ff"/><rect x="1709.1" y="767.26" width="32.5" height="23.37" fill="#0000ff"/><rect x="1741" y="767.26" width="32.5" height="23.37" fill="#0505ff"/><rect x="1772.9" y="767.26" width="32.5" height="23.37" fill="#ffa6a6"/><rect x="1804.8" y="767.26" width="32.5" height="23.37" fill="#ff4c4c"/><rect x="1836.7" y="767.26" width="32.5" height="23.37" fill="#ff0d0d"/><rect x="1868.6" y="767.26" width="32.5" height="23.37" fill="#ff0000"/><rect x="1645.3" y="790.04" width="32.5" height="23.37" fill="#2121ff"/><rect x="1677.2" y="790.04" width="32.5" height="23.37" fill="#3b3bff"/><rect x="1709.1" y="790.04" width="32.5" height="23.37" fill="#0000ff"/><rect x="1741" y="790.04" width="32.5" height="23.37" fill="#3d3dff"/><rect x="1772.9" y="790.04" width="32.5" height="23.37" fill="#ff9e9e"/><rect x="1804.8" y="790.04" width="32.5" height="23.37" fill="#ff5959"/><rect x="1836.7" y="790.04" width="32.5" height="23.37" fill="#ff0000"/><rect x="1868.6" y="790.04" width="32.5" height="23.37" fill="#ff2e2e"/><rect x="1645.3" y="812.81" width="32.5" height="23.37" fill="#4040ff"/><rect x="1677.2" y="812.81" width="32.5" height="23.37" fill="#adadff"/><rect x="1709.1" y="812.81" width="32.5" height="23.37" fill="#0000ff"/><rect x="1741" y="812.81" width="32.5" height="23.37" fill="#4040ff"/><rect x="1772.9" y="812.81" width="32.5" height="23.37" fill="#ff5959"/><rect x="1804.8" y="812.81" width="32.5" height="23.37" fill="#ff4040"/><rect x="1836.7" y="812.81" width="32.5" height="23.37" fill="#ff4747"/><rect x="1868.6" y="812.81" width="32.5" height="23.37" fill="#ff0000"/><rect x="1645.3" y="835.58" width="32.5" height="23.37" fill="#6b6bff"/><rect x="1677.2" y="835.58" width="32.5" height="23.37" fill="#4545ff"/><rect x="1709.1" y="835.58" width="32.5" height="23.37" fill="#0000ff"/><rect x="1741" y="835.58" width="32.5" height="23.37" fill="#9999ff"/><rect x="1772.9" y="835.58" width="32.5" height="23.37" fill="#ff6161"/><rect x="1804.8" y="835.58" width="32.5" height="23.37" fill="#ff7373"/><rect x="1836.7" y="835.58" width="32.5" height="23.37" fill="#ff2121"/><rect x="1868.6" y="835.58" width="32.5" height="23.37" fill="#ff0000"/><rect x="1645.3" y="858.36" width="32.5" height="23.37" fill="#1212ff"/><rect x="1677.2" y="858.36" width="32.5" height="23.37" fill="#0000ff"/><rect x="1709.1" y="858.36" width="32.5" height="23.37" fill="#1212ff"/><rect x="1741" y="858.36" width="32.5" height="23.37" fill="#8c8cff"/><rect x="1772.9" y="858.36" width="32.5" height="23.37" fill="#ff0000"/><rect x="1804.8" y="858.36" width="32.5" height="23.37" fill="#ff4040"/><rect x="1836.7" y="858.36" width="32.5" height="23.37" fill="#ff4747"/><rect x="1868.6" y="858.36" width="32.5" height="23.37" fill="#ffb8b8"/><rect x="1645.3" y="881.13" width="32.5" height="23.37" fill="#4040ff"/><rect x="1677.2" y="881.13" width="32.5" height="23.37" fill="#6161ff"/><rect x="1709.1" y="881.13" width="32.5" height="23.37" fill="#4545ff"/><rect x="1741" y="881.13" width="32.5" height="23.37" fill="#0000ff"/><rect x="1772.9" y="881.13" width="32.5" height="23.37" fill="#ff9191"/><rect x="1804.8" y="881.13" width="32.5" height="23.37" fill="#ff5959"/><rect x="1836.7" y="881.13" width="32.5" height="23.37" fill="#ffb8b8"/><rect x="1868.6" y="881.13" width="32.5" height="23.37" fill="#ff0000"/><rect x="1645.3" y="903.91" width="32.5" height="23.37" fill="#2121ff"/><rect x="1677.2" y="903.91" width="32.5" height="23.37" fill="#0000ff"/><rect x="1709.1" y="903.91" width="32.5" height="23.37" fill="#2e2eff"/><rect x="1741" y="903.91" width="32.5" height="23.37" fill="#4040ff"/><rect x="1772.9" y="903.91" width="32.5" height="23.37" fill="#ff0000"/><rect x="1804.8" y="903.91" width="32.5" height="23.37" fill="#ff9e9e"/><rect x="1836.7" y="903.91" width="32.5" height="23.37" fill="#fff7f7"/><rect x="1868.6" y="903.91" width="32.5" height="23.37" fill="#ffa6a6"/><rect x="1645.3" y="926.68" width="32.5" height="23.37" fill="#8080ff"/><rect x="1677.2" y="926.68" width="32.5" height="23.37" fill="#0000ff"/><rect x="1709.1" y="926.68" width="32.5" height="23.37" fill="#adadff"/><rect x="1741" y="926.68" width="32.5" height="23.37" fill="#7373ff"/><rect x="1772.9" y="926.68" width="32.5" height="23.37" fill="#ff0808"/><rect x="1804.8" y="926.68" width="32.5" height="23.37" fill="#ff0000"/><rect x="1836.7" y="926.68" width="32.5" height="23.37" fill="#ff4747"/><rect x="1868.6" y="926.68" width="32.5" height="23.37" fill="#ff9e9e"/><rect x="1645.3" y="949.45" width="32.5" height="23.37" fill="#0000ff"/><rect x="1677.2" y="949.45" width="32.5" height="23.37" fill="#7373ff"/><rect x="1709.1" y="949.45" width="32.5" height="23.37" fill="#0000ff"/><rect x="1741" y="949.45" width="32.5" height="23.37" fill="#6666ff"/><rect x="1772.9" y="949.45" width="32.5" height="23.37" fill="#f0f0ff"/><rect x="1804.8" y="949.45" width="32.5" height="23.37" fill="#ffbfbf"/><rect x="1836.7" y="949.45" width="32.5" height="23.37" fill="#ffe0e0"/><rect x="1868.6" y="949.45" width="32.5" height="23.37" fill="#ff0000"/><rect x="1645.3" y="972.23" width="32.5" height="23.37" fill="#b2b2ff"/><rect x="1677.2" y="972.23" width="32.5" height="23.37" fill="#3333ff"/><rect x="1709.1" y="972.23" width="32.5" height="23.37" fill="#4040ff"/><rect x="1741" y="972.23" width="32.5" height="23.37" fill="#0000ff"/><rect x="1772.9" y="972.23" width="32.5" height="23.37" fill="#ff0000"/><rect x="1804.8" y="972.23" width="32.5" height="23.37" fill="#ffbfbf"/><rect x="1836.7" y="972.23" width="32.5" height="23.37" fill="#ff9191"/><rect x="1868.6" y="972.23" width="32.5" height="23.37" fill="#ffeded"/><rect x="1645.3" y="995" width="32.5" height="23.37" fill="#9191ff"/><rect x="1677.2" y="995" width="32.5" height="23.37" fill="#0000ff"/><rect x="1709.1" y="995" width="32.5" height="23.37" fill="#f0f0ff"/><rect x="1741" y="995" width="32.5" height="23.37" fill="#bfbfff"/><rect x="1772.9" y="995" width="32.5" height="23.37" fill="#ff3333"/><rect x="1804.8" y="995" width="32.5" height="23.37" fill="#ff0000"/><rect x="1836.7" y="995" width="32.5" height="23.37" fill="#ff9e9e"/><rect x="1868.6" y="995" width="32.5" height="23.37" fill="#ffb8b8"/><rect x="1645.3" y="1017.77" width="32.5" height="23.37" fill="#0000ff"/><rect x="1677.2" y="1017.77" width="32.5" height="23.37" fill="#9494ff"/><rect x="1709.1" y="1017.77" width="32.5" height="23.37" fill="#2626ff"/><rect x="1741" y="1017.77" width="32.5" height="23.37" fill="#4747ff"/><rect x="1772.9" y="1017.77" width="32.5" height="23.37" fill="#3838ff"/><rect x="1804.8" y="1017.77" width="32.5" height="23.37" fill="#c7c7ff"/><rect x="1836.7" y="1017.77" width="32.5" height="23.37" fill="#ff5454"/><rect x="1868.6" y="1017.77" width="32.5" height="23.37" fill="#ff0000"/><rect x="1645.3" y="1040.55" width="32.5" height="23.37" fill="#0000ff"/><rect x="1677.2" y="1040.55" width="32.5" height="23.37" fill="#8c8cff"/><rect x="1709.1" y="1040.55" width="32.5" height="23.37" fill="#2626ff"/><rect x="1741" y="1040.55" width="32.5" height="23.37" fill="#2626ff"/><rect x="1772.9" y="1040.55" width="32.5" height="23.37" fill="#e6e6ff"/><rect x="1804.8" y="1040.55" width="32.5" height="23.37" fill="#ababff"/><rect x="1836.7" y="1040.55" width="32.5" height="23.37" fill="#ff0000"/><rect x="1868.6" y="1040.55" width="32.5" height="23.37" fill="#ffcccc"/><rect x="1645.3" y="1063.32" width="32.5" height="23.37" fill="#4040ff"/><rect x="1677.2" y="1063.32" width="32.5" height="23.37" fill="#0000ff"/><rect x="1709.1" y="1063.32" width="32.5" height="23.37" fill="#ababff"/><rect x="1741" y="1063.32" width="32.5" height="23.37" fill="#ababff"/><rect x="1772.9" y="1063.32" width="32.5" height="23.37" fill="#ff6b6b"/><rect x="1804.8" y="1063.32" width="32.5" height="23.37" fill="#5959ff"/><rect x="1836.7" y="1063.32" width="32.5" height="23.37" fill="#4c4cff"/><rect x="1868.6" y="1063.32" width="32.5" height="23.37" fill="#ff0000"/><rect x="1645.3" y="1086.09" width="32.5" height="23.37" fill="#ff7878"/><rect x="1677.2" y="1086.09" width="32.5" height="23.37" fill="#0000ff"/><rect x="1709.1" y="1086.09" width="32.5" height="23.37" fill="#ff5e5e"/><rect x="1741" y="1086.09" width="32.5" height="23.37" fill="#a1a1ff"/><rect x="1772.9" y="1086.09" width="32.5" height="23.37" fill="#ff0000"/><rect x="1804.8" y="1086.09" width="32.5" height="23.37" fill="#ff2e2e"/><rect x="1836.7" y="1086.09" width="32.5" height="23.37" fill="#ff0000"/><rect x="1868.6" y="1086.09" width="32.5" height="23.37" fill="#ffadad"/><rect x="1645.3" y="1108.87" width="32.5" height="23.37" fill="#0000ff"/><rect x="1677.2" y="1108.87" width="32.5" height="23.37" fill="#0000ff"/><rect x="1709.1" y="1108.87" width="32.5" height="23.37" fill="#0000ff"/><rect x="1741" y="1108.87" width="32.5" height="23.37" fill="#ff4545"/><rect x="1772.9" y="1108.87" width="32.5" height="23.37" fill="#ff0000"/><rect x="1804.8" y="1108.87" width="32.5" height="23.37" fill="#0000ff"/><rect x="1836.7" y="1108.87" width="32.5" height="23.37" fill="#d9d9ff"/><rect x="1868.6" y="1108.87" width="32.5" height="23.37" fill="#bfbfff"/><rect x="1645.3" y="1131.64" width="32.5" height="23.37" fill="#fff2f2"/><rect x="1677.2" y="1131.64" width="32.5" height="23.37" fill="#0000ff"/><rect x="1709.1" y="1131.64" width="32.5" height="23.37" fill="#ffc4c4"/><rect x="1741" y="1131.64" width="32.5" height="23.37" fill="#ffe6e6"/><rect x="1772.9" y="1131.64" width="32.5" height="23.37" fill="#ff0000"/><rect x="1804.8" y="1131.64" width="32.5" height="23.37" fill="#ff2626"/><rect x="1836.7" y="1131.64" width="32.5" height="23.37" fill="#ff9191"/><rect x="1868.6" y="1131.64" width="32.5" height="23.37" fill="#d1d1ff"/><rect x="1645.3" y="1154.42" width="32.5" height="23.37" fill="#ff4c4c"/><rect x="1677.2" y="1154.42" width="32.5" height="23.37" fill="#0000ff"/><rect x="1709.1" y="1154.42" width="32.5" height="23.37" fill="#ff8787"/><rect x="1741" y="1154.42" width="32.5" height="23.37" fill="#ffdede"/><rect x="1772.9" y="1154.42" width="32.5" height="23.37" fill="#ff0000"/><rect x="1804.8" y="1154.42" width="32.5" height="23.37" fill="#ff1a1a"/><rect x="1836.7" y="1154.42" width="32.5" height="23.37" fill="#ffb8b8"/><rect x="1868.6" y="1154.42" width="32.5" height="23.37" fill="#ff9e9e"/><rect x="1645.3" y="1177.19" width="32.5" height="23.37" fill="#ff8080"/><rect x="1677.2" y="1177.19" width="32.5" height="23.37" fill="#0000ff"/><rect x="1709.1" y="1177.19" width="32.5" height="23.37" fill="#ff4747"/><rect x="1741" y="1177.19" width="32.5" height="23.37" fill="#ff7373"/><rect x="1772.9" y="1177.19" width="32.5" height="23.37" fill="#ff0d0d"/><rect x="1804.8" y="1177.19" width="32.5" height="23.37" fill="#ff0808"/><rect x="1836.7" y="1177.19" width="32.5" height="23.37" fill="#ff9494"/><rect x="1868.6" y="1177.19" width="32.5" height="23.37" fill="#bfbfff"/><rect x="1645.3" y="1199.96" width="32.5" height="23.37" fill="#ffe6e6"/><rect x="1677.2" y="1199.96" width="32.5" height="23.37" fill="#ff8c8c"/><rect x="1709.1" y="1199.96" width="32.5" height="23.37" fill="#9e9eff"/><rect x="1741" y="1199.96" width="32.5" height="23.37" fill="#ccccff"/><rect x="1772.9" y="1199.96" width="32.5" height="23.37" fill="#0000ff"/><rect x="1804.8" y="1199.96" width="32.5" height="23.37" fill="#9191ff"/><rect x="1836.7" y="1199.96" width="32.5" height="23.37" fill="#ff0000"/><rect x="1868.6" y="1199.96" width="32.5" height="23.37" fill="#ff4040"/><rect x="1645.3" y="1222.74" width="32.5" height="23.37" fill="#ffd9d9"/><rect x="1677.2" y="1222.74" width="32.5" height="23.37" fill="#0000ff"/><rect x="1709.1" y="1222.74" width="32.5" height="23.37" fill="#ffa6a6"/><rect x="1741" y="1222.74" width="32.5" height="23.37" fill="#ffdede"/><rect x="1772.9" y="1222.74" width="32.5" height="23.37" fill="#ff0000"/><rect x="1804.8" y="1222.74" width="32.5" height="23.37" fill="#ff5252"/><rect x="1836.7" y="1222.74" width="32.5" height="23.37" fill="#d4d4ff"/><rect x="1868.6" y="1222.74" width="32.5" height="23.37" fill="#8080ff"/><rect x="1645.3" y="1245.51" width="32.5" height="23.37" fill="#f5f5ff"/><rect x="1677.2" y="1245.51" width="32.5" height="23.37" fill="#ff0000"/><rect x="1709.1" y="1245.51" width="32.5" height="23.37" fill="#ff1212"/><rect x="1741" y="1245.51" width="32.5" height="23.37" fill="#ff6666"/><rect x="1772.9" y="1245.51" width="32.5" height="23.37" fill="#0000ff"/><rect x="1804.8" y="1245.51" width="32.5" height="23.37" fill="#c4c4ff"/><rect x="1836.7" y="1245.51" width="32.5" height="23.37" fill="#ff8080"/><rect x="1868.6" y="1245.51" width="32.5" height="23.37" fill="#ff6666"/><rect x="1645.3" y="1268.28" width="32.5" height="23.37" fill="#9e9eff"/><rect x="1677.2" y="1268.28" width="32.5" height="23.37" fill="#ff0000"/><rect x="1709.1" y="1268.28" width="32.5" height="23.37" fill="#e0e0ff"/><rect x="1741" y="1268.28" width="32.5" height="23.37" fill="#e0e0ff"/><rect x="1772.9" y="1268.28" width="32.5" height="23.37" fill="#7373ff"/><rect x="1804.8" y="1268.28" width="32.5" height="23.37" fill="#0000ff"/><rect x="1836.7" y="1268.28" width="32.5" height="23.37" fill="#d4d4ff"/><rect x="1868.6" y="1268.28" width="32.5" height="23.37" fill="#adadff"/><rect x="1645.3" y="1291.06" width="32.5" height="23.37" fill="#ff0000"/><rect x="1677.2" y="1291.06" width="32.5" height="23.37" fill="#0000ff"/><rect x="1709.1" y="1291.06" width="32.5" height="23.37" fill="#d9d9ff"/><rect x="1741" y="1291.06" width="32.5" height="23.37" fill="#0000ff"/><rect x="1772.9" y="1291.06" width="32.5" height="23.37" fill="#0000ff"/><rect x="1804.8" y="1291.06" width="32.5" height="23.37" fill="#c7c7ff"/><rect x="1836.7" y="1291.06" width="32.5" height="23.37" fill="#e6e6ff"/><rect x="1868.6" y="1291.06" width="32.5" height="23.37" fill="#0000ff"/><rect x="1645.3" y="1313.83" width="32.5" height="23.37" fill="#ff0000"/><rect x="1677.2" y="1313.83" width="32.5" height="23.37" fill="#0000ff"/><rect x="1709.1" y="1313.83" width="32.5" height="23.37" fill="#0000ff"/><rect x="1741" y="1313.83" width="32.5" height="23.37" fill="#ff8080"/><rect x="1772.9" y="1313.83" width="32.5" height="23.37" fill="#ff4747"/><rect x="1804.8" y="1313.83" width="32.5" height="23.37" fill="#0000ff"/><rect x="1836.7" y="1313.83" width="32.5" height="23.37" fill="#0000ff"/><rect x="1868.6" y="1313.83" width="32.5" height="23.37" fill="#0000ff"/><rect x="1645.3" y="1336.61" width="32.5" height="23.37" fill="#0000ff"/><rect x="1677.2" y="1336.61" width="32.5" height="23.37" fill="#0000ff"/><rect x="1709.1" y="1336.61" width="32.5" height="23.37" fill="#0000ff"/><rect x="1741" y="1336.61" width="32.5" height="23.37" fill="#ff0000"/><rect x="1772.9" y="1336.61" width="32.5" height="23.37" fill="#0000ff"/><rect x="1804.8" y="1336.61" width="32.5" height="23.37" fill="#0000ff"/><rect x="1836.7" y="1336.61" width="32.5" height="23.37" fill="#ccccff"/><rect x="1868.6" y="1336.61" width="32.5" height="23.37" fill="#0000ff"/><rect x="1645.3" y="1359.38" width="32.5" height="23.37" fill="#ff0000"/><rect x="1677.2" y="1359.38" width="32.5" height="23.37" fill="#9191ff"/><rect x="1709.1" y="1359.38" width="32.5" height="23.37" fill="#fafaff"/><rect x="1741" y="1359.38" width="32.5" height="23.37" fill="#d9d9ff"/><rect x="1772.9" y="1359.38" width="32.5" height="23.37" fill="#8787ff"/><rect x="1804.8" y="1359.38" width="32.5" height="23.37" fill="#5959ff"/><rect x="1836.7" y="1359.38" width="32.5" height="23.37" fill="#5454ff"/><rect x="1868.6" y="1359.38" width="32.5" height="23.37" fill="#0000ff"/><rect x="1645.3" y="1382.15" width="32.5" height="23.37" fill="#ebebff"/><rect x="1677.2" y="1382.15" width="32.5" height="23.37" fill="#ff0000"/><rect x="1709.1" y="1382.15" width="32.5" height="23.37" fill="#0000ff"/><rect x="1741" y="1382.15" width="32.5" height="23.37" fill="#7373ff"/><rect x="1772.9" y="1382.15" width="32.5" height="23.37" fill="#0000ff"/><rect x="1804.8" y="1382.15" width="32.5" height="23.37" fill="#0000ff"/><rect x="1836.7" y="1382.15" width="32.5" height="23.37" fill="#4747ff"/><rect x="1868.6" y="1382.15" width="32.5" height="23.37" fill="#8585ff"/><rect x="1645.3" y="1404.93" width="32.5" height="23.37" fill="#ff0000"/><rect x="1677.2" y="1404.93" width="32.5" height="23.37" fill="#a1a1ff"/><rect x="1709.1" y="1404.93" width="32.5" height="23.37" fill="#ff3b3b"/><rect x="1741" y="1404.93" width="32.5" height="23.37" fill="#ff4c4c"/><rect x="1772.9" y="1404.93" width="32.5" height="23.37" fill="#6666ff"/><rect x="1804.8" y="1404.93" width="32.5" height="23.37" fill="#a6a6ff"/><rect x="1836.7" y="1404.93" width="32.5" height="23.37" fill="#6666ff"/><rect x="1868.6" y="1404.93" width="32.5" height="23.37" fill="#0000ff"/><rect x="1645.3" y="1427.7" width="32.5" height="23.37" fill="#ff4040"/><rect x="1677.2" y="1427.7" width="32.5" height="23.37" fill="#ff8080"/><rect x="1709.1" y="1427.7" width="32.5" height="23.37" fill="#ff0000"/><rect x="1741" y="1427.7" width="32.5" height="23.37" fill="#ff0000"/><rect x="1772.9" y="1427.7" width="32.5" height="23.37" fill="#d9d9ff"/><rect x="1804.8" y="1427.7" width="32.5" height="23.37" fill="#bfbfff"/><rect x="1836.7" y="1427.7" width="32.5" height="23.37" fill="#0000ff"/><rect x="1868.6" y="1427.7" width="32.5" height="23.37" fill="#d1d1ff"/><rect x="1645.3" y="1450.47" width="32.5" height="23.37" fill="#ff7373"/><rect x="1677.2" y="1450.47" width="32.5" height="23.37" fill="#ffa6a6"/><rect x="1709.1" y="1450.47" width="32.5" height="23.37" fill="#ff0000"/><rect x="1741" y="1450.47" width="32.5" height="23.37" fill="#ffbfbf"/><rect x="1772.9" y="1450.47" width="32.5" height="23.37" fill="#6666ff"/><rect x="1804.8" y="1450.47" width="32.5" height="23.37" fill="#6b6bff"/><rect x="1836.7" y="1450.47" width="32.5" height="23.37" fill="#0000ff"/><rect x="1868.6" y="1450.47" width="32.5" height="23.37" fill="#1212ff"/><rect x="1645.3" y="1473.25" width="32.5" height="23.37" fill="#ff3b3b"/><rect x="1677.2" y="1473.25" width="32.5" height="23.37" fill="#ffe0e0"/><rect x="1709.1" y="1473.25" width="32.5" height="23.37" fill="#ff0000"/><rect x="1741" y="1473.25" width="32.5" height="23.37" fill="#ff3838"/><rect x="1772.9" y="1473.25" width="32.5" height="23.37" fill="#2e2eff"/><rect x="1804.8" y="1473.25" width="32.5" height="23.37" fill="#7373ff"/><rect x="1836.7" y="1473.25" width="32.5" height="23.37" fill="#4c4cff"/><rect x="1868.6" y="1473.25" width="32.5" height="23.37" fill="#0000ff"/><rect x="1645.3" y="1496.02" width="32.5" height="23.37" fill="#ff3b3b"/><rect x="1677.2" y="1496.02" width="32.5" height="23.37" fill="#ff9999"/><rect x="1709.1" y="1496.02" width="32.5" height="23.37" fill="#ff0000"/><rect x="1741" y="1496.02" width="32.5" height="23.37" fill="#ff0000"/><rect x="1772.9" y="1496.02" width="32.5" height="23.37" fill="#0000ff"/><rect x="1804.8" y="1496.02" width="32.5" height="23.37" fill="#4747ff"/><rect x="1836.7" y="1496.02" width="32.5" height="23.37" fill="#8080ff"/><rect x="1868.6" y="1496.02" width="32.5" height="23.37" fill="#6666ff"/><rect x="1645.3" y="1518.79" width="32.5" height="23.37" fill="#ff3333"/><rect x="1677.2" y="1518.79" width="32.5" height="23.37" fill="#ffcccc"/><rect x="1709.1" y="1518.79" width="32.5" height="23.37" fill="#ff0000"/><rect x="1741" y="1518.79" width="32.5" height="23.37" fill="#ff4c4c"/><rect x="1772.9" y="1518.79" width="32.5" height="23.37" fill="#6161ff"/><rect x="1804.8" y="1518.79" width="32.5" height="23.37" fill="#7373ff"/><rect x="1836.7" y="1518.79" width="32.5" height="23.37" fill="#2b2bff"/><rect x="1868.6" y="1518.79" width="32.5" height="23.37" fill="#0000ff"/><rect x="1645.3" y="1541.57" width="32.5" height="23.37" fill="#ff9e9e"/><rect x="1677.2" y="1541.57" width="32.5" height="23.37" fill="#ff0000"/><rect x="1709.1" y="1541.57" width="32.5" height="23.37" fill="#ff8080"/><rect x="1741" y="1541.57" width="32.5" height="23.37" fill="#ff7a7a"/><rect x="1772.9" y="1541.57" width="32.5" height="23.37" fill="#0000ff"/><rect x="1804.8" y="1541.57" width="32.5" height="23.37" fill="#0000ff"/><rect x="1836.7" y="1541.57" width="32.5" height="23.37" fill="#6161ff"/><rect x="1868.6" y="1541.57" width="32.5" height="23.37" fill="#4040ff"/><rect x="1645.3" y="1564.34" width="32.5" height="23.37" fill="#ff1414"/><rect x="1677.2" y="1564.34" width="32.5" height="23.37" fill="#ff5252"/><rect x="1709.1" y="1564.34" width="32.5" height="23.37" fill="#ff0000"/><rect x="1741" y="1564.34" width="32.5" height="23.37" fill="#ff0000"/><rect x="1772.9" y="1564.34" width="32.5" height="23.37" fill="#adadff"/><rect x="1804.8" y="1564.34" width="32.5" height="23.37" fill="#8080ff"/><rect x="1836.7" y="1564.34" width="32.5" height="23.37" fill="#5959ff"/><rect x="1868.6" y="1564.34" width="32.5" height="23.37" fill="#0000ff"/><rect x="1645.3" y="1587.12" width="32.5" height="23.37" fill="#ff2e2e"/><rect x="1677.2" y="1587.12" width="32.5" height="23.37" fill="#ffadad"/><rect x="1709.1" y="1587.12" width="32.5" height="23.37" fill="#ff3333"/><rect x="1741" y="1587.12" width="32.5" height="23.37" fill="#ff0000"/><rect x="1772.9" y="1587.12" width="32.5" height="23.37" fill="#3838ff"/><rect x="1804.8" y="1587.12" width="32.5" height="23.37" fill="#1f1fff"/><rect x="1836.7" y="1587.12" width="32.5" height="23.37" fill="#1a1aff"/><rect x="1868.6" y="1587.12" width="32.5" height="23.37" fill="#0000ff"/><rect x="1645.3" y="1609.89" width="32.5" height="23.37" fill="#ff0000"/><rect x="1677.2" y="1609.89" width="32.5" height="23.37" fill="#ff4c4c"/><rect x="1709.1" y="1609.89" width="32.5" height="23.37" fill="#ff3333"/><rect x="1741" y="1609.89" width="32.5" height="23.37" fill="#ff7373"/><rect x="1772.9" y="1609.89" width="32.5" height="23.37" fill="#7373ff"/><rect x="1804.8" y="1609.89" width="32.5" height="23.37" fill="#0000ff"/><rect x="1836.7" y="1609.89" width="32.5" height="23.37" fill="#2121ff"/><rect x="1868.6" y="1609.89" width="32.5" height="23.37" fill="#2626ff"/><rect x="1645.3" y="1632.66" width="32.5" height="23.37" fill="#ff5454"/><rect x="1677.2" y="1632.66" width="32.5" height="23.37" fill="#ff0000"/><rect x="1709.1" y="1632.66" width="32.5" height="23.37" fill="#ff5454"/><rect x="1741" y="1632.66" width="32.5" height="23.37" fill="#ff4c4c"/><rect x="1772.9" y="1632.66" width="32.5" height="23.37" fill="#0000ff"/><rect x="1804.8" y="1632.66" width="32.5" height="23.37" fill="#2626ff"/><rect x="1836.7" y="1632.66" width="32.5" height="23.37" fill="#4545ff"/><rect x="1868.6" y="1632.66" width="32.5" height="23.37" fill="#7373ff"/><rect x="1645.3" y="1655.44" width="32.5" height="23.37" fill="#ff4c4c"/><rect x="1677.2" y="1655.44" width="32.5" height="23.37" fill="#ff5454"/><rect x="1709.1" y="1655.44" width="32.5" height="23.37" fill="#ff0000"/><rect x="1741" y="1655.44" width="32.5" height="23.37" fill="#ff0d0d"/><rect x="1772.9" y="1655.44" width="32.5" height="23.37" fill="#5e5eff"/><rect x="1804.8" y="1655.44" width="32.5" height="23.37" fill="#2121ff"/><rect x="1836.7" y="1655.44" width="32.5" height="23.37" fill="#0000ff"/><rect x="1868.6" y="1655.44" width="32.5" height="23.37" fill="#2626ff"/><rect x="1645.3" y="1678.21" width="32.5" height="23.37" fill="#ff7a7a"/><rect x="1677.2" y="1678.21" width="32.5" height="23.37" fill="#ff0000"/><rect x="1709.1" y="1678.21" width="32.5" height="23.37" fill="#ff5454"/><rect x="1741" y="1678.21" width="32.5" height="23.37" fill="#ff4c4c"/><rect x="1772.9" y="1678.21" width="32.5" height="23.37" fill="#0000ff"/><rect x="1804.8" y="1678.21" width="32.5" height="23.37" fill="#0d0dff"/><rect x="1836.7" y="1678.21" width="32.5" height="23.37" fill="#2121ff"/><rect x="1868.6" y="1678.21" width="32.5" height="23.37" fill="#4545ff"/><rect x="1645.3" y="1700.98" width="32.5" height="23.37" fill="#ff7373"/><rect x="1677.2" y="1700.98" width="32.5" height="23.37" fill="#ff4747"/><rect x="1709.1" y="1700.98" width="32.5" height="23.37" fill="#ff0000"/><rect x="1741" y="1700.98" width="32.5" height="23.37" fill="#ff4545"/><rect x="1772.9" y="1700.98" width="32.5" height="23.37" fill="#0d0dff"/><rect x="1804.8" y="1700.98" width="32.5" height="23.37" fill="#4545ff"/><rect x="1836.7" y="1700.98" width="32.5" height="23.37" fill="#3333ff"/><rect x="1868.6" y="1700.98" width="32.5" height="23.37" fill="#0000ff"/><rect x="1645.3" y="1723.76" width="32.5" height="23.37" fill="#ff2b2b"/><rect x="1677.2" y="1723.76" width="32.5" height="23.37" fill="#ff5e5e"/><rect x="1709.1" y="1723.76" width="32.5" height="23.37" fill="#ff5252"/><rect x="1741" y="1723.76" width="32.5" height="23.37" fill="#ff0000"/><rect x="1772.9" y="1723.76" width="32.5" height="23.37" fill="#1f1fff"/><rect x="1804.8" y="1723.76" width="32.5" height="23.37" fill="#4747ff"/><rect x="1836.7" y="1723.76" width="32.5" height="23.37" fill="#0000ff"/><rect x="1868.6" y="1723.76" width="32.5" height="23.37" fill="#2b2bff"/><rect x="1645.3" y="1746.53" width="32.5" height="23.37" fill="#ff0000"/><rect x="1677.2" y="1746.53" width="32.5" height="23.37" fill="#ff7373"/><rect x="1709.1" y="1746.53" width="32.5" height="23.37" fill="#ff2e2e"/><rect x="1741" y="1746.53" width="32.5" height="23.37" fill="#ff2626"/><rect x="1772.9" y="1746.53" width="32.5" height="23.37" fill="#2626ff"/><rect x="1804.8" y="1746.53" width="32.5" height="23.37" fill="#1f1fff"/><rect x="1836.7" y="1746.53" width="32.5" height="23.37" fill="#0000ff"/><rect x="1868.6" y="1746.53" width="32.5" height="23.37" fill="#0d0dff"/><rect x="1645.3" y="1769.31" width="32.5" height="23.37" fill="#ff4c4c"/><rect x="1677.2" y="1769.31" width="32.5" height="23.37" fill="#ff3333"/><rect x="1709.1" y="1769.31" width="32.5" height="23.37" fill="#ff0000"/><rect x="1741" y="1769.31" width="32.5" height="23.37" fill="#ff3333"/><rect x="1772.9" y="1769.31" width="32.5" height="23.37" fill="#0000ff"/><rect x="1804.8" y="1769.31" width="32.5" height="23.37" fill="#3838ff"/><rect x="1836.7" y="1769.31" width="32.5" height="23.37" fill="#1212ff"/><rect x="1868.6" y="1769.31" width="32.5" height="23.37" fill="#0000ff"/><rect x="1645.3" y="1792.08" width="32.5" height="23.37" fill="#ff1414"/><rect x="1677.2" y="1792.08" width="32.5" height="23.37" fill="#ff3838"/><rect x="1709.1" y="1792.08" width="32.5" height="23.37" fill="#ff0000"/><rect x="1741" y="1792.08" width="32.5" height="23.37" fill="#ff4040"/><rect x="1772.9" y="1792.08" width="32.5" height="23.37" fill="#1a1aff"/><rect x="1804.8" y="1792.08" width="32.5" height="23.37" fill="#2626ff"/><rect x="1836.7" y="1792.08" width="32.5" height="23.37" fill="#1f1fff"/><rect x="1868.6" y="1792.08" width="32.5" height="23.37" fill="#0000ff"/><rect x="1645.3" y="1814.85" width="32.5" height="23.37" fill="#ff1414"/><rect x="1677.2" y="1814.85" width="32.5" height="23.37" fill="#ff1a1a"/><rect x="1709.1" y="1814.85" width="32.5" height="23.37" fill="#ff1414"/><rect x="1741" y="1814.85" width="32.5" height="23.37" fill="#ff0505"/><rect x="1772.9" y="1814.85" width="32.5" height="23.37" fill="#0000ff"/><rect x="1804.8" y="1814.85" width="32.5" height="23.37" fill="#1f1fff"/><rect x="1836.7" y="1814.85" width="32.5" height="23.37" fill="#2121ff"/><rect x="1868.6" y="1814.85" width="32.5" height="23.37" fill="#1f1fff"/><rect x="1645.3" y="1837.63" width="32.5" height="23.37" fill="#ff0000"/><rect x="1677.2" y="1837.63" width="32.5" height="23.37" fill="#ff1414"/><rect x="1709.1" y="1837.63" width="32.5" height="23.37" fill="#ff0505"/><rect x="1741" y="1837.63" width="32.5" height="23.37" fill="#ff0000"/><rect x="1772.9" y="1837.63" width="32.5" height="23.37" fill="#0000ff"/><rect x="1804.8" y="1837.63" width="32.5" height="23.37" fill="#0000ff"/><rect x="1836.7" y="1837.63" width="32.5" height="23.37" fill="#0d0dff"/><rect x="1868.6" y="1837.63" width="32.5" height="23.37" fill="#0d0dff"/></g>
<text transform="translate(1916.5 579) scale(1 1.05)" font-size="18">Hsph1</text>
<text transform="translate(1916.5 601.77) scale(1 1.05)" font-size="18">Dusp10</text>
<text transform="translate(1916.5 624.55) scale(1 1.05)" font-size="18">Il1b</text>
<text transform="translate(1916.5 647.32) scale(1 1.05)" font-size="18">Bmp4</text>
<text transform="translate(1916.5 670.09) scale(1 1.05)" font-size="18">Sphk1</text>
<text transform="translate(1916.5 692.87) scale(1 1.05)" font-size="18">Ezr</text>
<text transform="translate(1916.5 715.64) scale(1 1.05)" font-size="18">Rell2</text>
<text transform="translate(1916.5 738.42) scale(1 1.05)" font-size="18">Mfhas1</text>
<text transform="translate(1916.5 761.19) scale(1 1.05)" font-size="18">Zc3h12a</text>
<text transform="translate(1916.5 783.96) scale(1 1.05)" font-size="18">Gadd45a</text>
<text transform="translate(1916.5 806.74) scale(1 1.05)" font-size="18">Map2k3</text>
<text transform="translate(1916.5 829.51) scale(1 1.05)" font-size="18">Mapkapk2</text>
<text transform="translate(1916.5 852.28) scale(1 1.05)" font-size="18">Dusp1</text>
<text transform="translate(1916.5 875.06) scale(1 1.05)" font-size="18">Map3k3</text>
<text transform="translate(1916.5 897.83) scale(1 1.05)" font-size="18">Ager</text>
<text transform="translate(1916.5 920.61) scale(1 1.05)" font-size="18">Map3k20</text>
<text transform="translate(1916.5 943.38) scale(1 1.05)" font-size="18">Dlg1</text>
<text transform="translate(1916.5 966.15) scale(1 1.05)" font-size="18">Gadd45b</text>
<text transform="translate(1916.5 988.93) scale(1 1.05)" font-size="18">Cyld</text>
<text transform="translate(1916.5 1011.7) scale(1 1.05)" font-size="18">Xdh</text>
<text transform="translate(1916.5 1034.47) scale(1 1.05)" font-size="18">Gadd45g</text>
<text transform="translate(1916.5 1057.25) scale(1 1.05)" font-size="18">Ulk4</text>
<text transform="translate(1916.5 1080.02) scale(1 1.05)" font-size="18">Ptpn22</text>
<text transform="translate(1916.5 1102.79) scale(1 1.05)" font-size="18">Rell1</text>
<text transform="translate(1916.5 1125.57) scale(1 1.05)" font-size="18">Spi1</text>
<text transform="translate(1916.5 1148.34) scale(1 1.05)" font-size="18">Phlpp1</text>
<text transform="translate(1916.5 1171.12) scale(1 1.05)" font-size="18">Map3k7</text>
<text transform="translate(1916.5 1193.89) scale(1 1.05)" font-size="18">Nr2c2</text>
<text transform="translate(1916.5 1216.66) scale(1 1.05)" font-size="18">Trem2</text>
<text transform="translate(1916.5 1239.44) scale(1 1.05)" font-size="18">Met</text>
<text transform="translate(1916.5 1262.21) scale(1 1.05)" font-size="18">Becn1</text>
<text transform="translate(1916.5 1284.98) scale(1 1.05)" font-size="18">Mapk11</text>
<text transform="translate(1916.5 1307.76) scale(1 1.05)" font-size="18">Hgf</text>
<text transform="translate(1916.5 1330.53) scale(1 1.05)" font-size="18">Cav3</text>
<text transform="translate(1916.5 1353.31) scale(1 1.05)" font-size="18">Lep</text>
<text transform="translate(1916.5 1376.08) scale(1 1.05)" font-size="18">Atf7</text>
<text transform="translate(1916.5 1398.85) scale(1 1.05)" font-size="18">Gdf6</text>
<text transform="translate(1916.5 1421.63) scale(1 1.05)" font-size="18">Mink1</text>
<text transform="translate(1916.5 1444.4) scale(1 1.05)" font-size="18">Map2k6</text>
<text transform="translate(1916.5 1467.17) scale(1 1.05)" font-size="18">Atf2</text>
<text transform="translate(1916.5 1489.95) scale(1 1.05)" font-size="18">Zfp36l1</text>
<text transform="translate(1916.5 1512.72) scale(1 1.05)" font-size="18">Zfp36</text>
<text transform="translate(1916.5 1535.49) scale(1 1.05)" font-size="18">Sash1</text>
<text transform="translate(1916.5 1558.27) scale(1 1.05)" font-size="18">Map1lc3a</text>
<text transform="translate(1916.5 1581.04) scale(1 1.05)" font-size="18">Pja2</text>
<text transform="translate(1916.5 1603.82) scale(1 1.05)" font-size="18">Bmp2</text>
<text transform="translate(1916.5 1626.59) scale(1 1.05)" font-size="18">Map3k4</text>
<text transform="translate(1916.5 1649.36) scale(1 1.05)" font-size="18">Gsn</text>
<text transform="translate(1916.5 1672.14) scale(1 1.05)" font-size="18">Mapk14</text>
<text transform="translate(1916.5 1694.91) scale(1 1.05)" font-size="18">Kcnn4</text>
<text transform="translate(1916.5 1717.68) scale(1 1.05)" font-size="18">Stk39</text>
<text transform="translate(1916.5 1740.46) scale(1 1.05)" font-size="18">Per1</text>
<text transform="translate(1916.5 1763.23) scale(1 1.05)" font-size="18">Map3k5</text>
<text transform="translate(1916.5 1786.01) scale(1 1.05)" font-size="18">Dab2ip</text>
<text transform="translate(1916.5 1808.78) scale(1 1.05)" font-size="18">Vegfa</text>
<text transform="translate(1916.5 1831.55) scale(1 1.05)" font-size="18">Trpv4</text>
<text transform="translate(1916.5 1854.33) scale(1 1.05)" font-size="18">Fgfr3</text>
<text transform="translate(1669.85 1958.4) rotate(-90) scale(1 1.05)" font-size="27.2">CTRL1</text>
<text transform="translate(1701.75 1958.4) rotate(-90) scale(1 1.05)" font-size="27.2">CTRL2</text>
<text transform="translate(1733.65 1958.4) rotate(-90) scale(1 1.05)" font-size="27.2">CTRL3</text>
<text transform="translate(1765.55 1958.4) rotate(-90) scale(1 1.05)" font-size="27.2">CTRL4</text>
<text transform="translate(1797.45 1958.4) rotate(-90) scale(1 1.05)" font-size="27.2">Gem1</text>
<text transform="translate(1829.35 1958.4) rotate(-90) scale(1 1.05)" font-size="27.2">Gem2</text>
<text transform="translate(1861.25 1958.4) rotate(-90) scale(1 1.05)" font-size="27.2">Gem3</text>
<text transform="translate(1893.15 1958.4) rotate(-90) scale(1 1.05)" font-size="27.2">Gem4</text>
<rect x="1607.7" y="562.8" width="13.4" height="236.5" fill="url(#cbar)" stroke="#000" stroke-width="1.6"/>
<text transform="translate(1639 630.4) rotate(-90) scale(1 1.05)" font-size="18.4">row max</text>
<text transform="translate(1639 798.5) rotate(-90) scale(1 1.05)" font-size="18.4">row min</text>
<text transform="translate(50.2 1001.5) scale(1 1.05)" font-size="40" font-weight="bold">h</text>
<text transform="translate(214.5 1056.6) scale(1 1.05)" font-size="25.5" text-anchor="middle">37°C</text>
<text transform="translate(413.2 1056.6) scale(1 1.05)" font-size="25.5" text-anchor="middle">38°C</text>
<line x1="126.4" y1="1066.3" x2="288.4" y2="1066.3" stroke="#000" stroke-width="2" stroke-linecap="butt"/>
<line x1="330" y1="1066.3" x2="492.6" y2="1066.3" stroke="#000" stroke-width="2" stroke-linecap="butt"/>
<text transform="translate(38.9 1096.8) scale(1 1.05)" font-size="23">GEM</text>
<text transform="translate(150.7 1095.5) scale(1 1.05)" font-size="23" text-anchor="middle">-</text>
<text transform="translate(250.5 1095.5) scale(1 1.05)" font-size="23" text-anchor="middle">+</text>
<text transform="translate(356.5 1095.5) scale(1 1.05)" font-size="23" text-anchor="middle">-</text>
<text transform="translate(462.8 1095.5) scale(1 1.05)" font-size="23" text-anchor="middle">+</text>
<text transform="translate(513.6 1105.5) scale(1 1.05)" font-size="18.2">kDa</text>
<rect x="108.9" y="1104.9" width="396.6" height="65.1" fill="#fbfbfb"/>
<rect x="108.9" y="1184.3" width="396.6" height="65.1" fill="#fbfbfb"/>
<rect x="108.9" y="1264.6" width="396.6" height="64.8" fill="#fbfbfb"/>
<path d="M 120.15,1141.5 C 120.15,1139.4 121.02,1135.4 124,1134.5 C 126.98,1133.6 134.9,1135.23 140,1135.5 C 145.1,1135.77 152.6,1136.45 158,1136.3 C 163.4,1136.15 172.1,1134.65 176,1134.5 C 179.9,1134.35 182.22,1134.13 184,1135.3 C 185.78,1136.47 187.85,1140.2 187.85,1142.3 C 187.85,1144.4 185.78,1148.13 184,1149.3 C 182.22,1150.47 179.9,1150.4 176,1150.1 C 172.1,1149.8 163.4,1147.69 158,1147.3 C 152.6,1146.91 145.1,1147.32 140,1147.5 C 134.9,1147.68 126.98,1149.4 124,1148.5 C 121.02,1147.6 120.15,1143.6 120.15,1141.5 Z" fill="url(#bandg1)" filter="url(#blurH)"/>
<path d="M 208.95,1143.5 C 208.95,1140.2 210.34,1134.3 215,1132.5 C 219.66,1130.7 232.5,1131.58 240,1131.5 C 247.5,1131.42 257.5,1131.92 265,1132 C 272.5,1132.08 285.3,1130.28 290,1132 C 294.7,1133.72 296.32,1140.05 296.32,1143.5 C 296.32,1146.95 294.7,1153.42 290,1155 C 285.3,1156.58 272.5,1154.08 265,1154 C 257.5,1153.92 247.5,1154.42 240,1154.5 C 232.5,1154.58 219.66,1156.15 215,1154.5 C 210.34,1152.85 208.95,1146.8 208.95,1143.5 Z" fill="url(#bandg2)" filter="url(#blurH)"/>
<path d="M 320.6,1146.5 C 320.6,1144.1 321.34,1139.7 325,1138.5 C 328.66,1137.3 338.55,1138.28 345,1138.5 C 351.45,1138.72 361.25,1139.7 368,1140 C 374.75,1140.3 386.29,1139.67 390,1140.5 C 393.71,1141.33 392.75,1144 392.75,1145.5 C 392.75,1147 393.71,1149.67 390,1150.5 C 386.29,1151.33 374.75,1150.55 368,1151 C 361.25,1151.45 351.45,1152.97 345,1153.5 C 338.55,1154.03 328.66,1155.55 325,1154.5 C 321.34,1153.45 320.6,1148.9 320.6,1146.5 Z" fill="url(#bandg3)" filter="url(#blurH)"/>
<path d="M 425.43,1145.5 C 425.43,1143.55 423.81,1139.97 429,1139 C 434.19,1138.03 450.4,1139 460,1139 C 469.6,1139 487.47,1137.95 493,1139 C 498.53,1140.05 496.85,1143.9 496.85,1146 C 496.85,1148.1 498.53,1152.1 493,1153 C 487.47,1153.9 469.6,1152.15 460,1152 C 450.4,1151.85 434.19,1152.97 429,1152 C 423.81,1151.03 425.43,1147.45 425.43,1145.5 Z" fill="url(#bandg4)" filter="url(#blurH)"/>
<path d="M 117.78,1223 C 117.78,1220.15 118.17,1214.85 123,1213.5 C 127.83,1212.15 142.2,1214 150,1214 C 157.8,1214 169.15,1213.58 175,1213.5 C 180.85,1213.42 186.24,1212.3 189,1213.5 C 191.76,1214.7 193.4,1219.1 193.4,1221.5 C 193.4,1223.9 191.76,1228.15 189,1229.5 C 186.24,1230.85 180.85,1230.12 175,1230.5 C 169.15,1230.88 157.8,1231.7 150,1232 C 142.2,1232.3 127.83,1233.85 123,1232.5 C 118.17,1231.15 117.78,1225.85 117.78,1223 Z" fill="url(#bandg5)" filter="url(#blurH)"/>
<path d="M 218.15,1220.5 C 218.15,1218.4 217.97,1214.47 222,1213.5 C 226.03,1212.53 237.8,1214.3 245,1214 C 252.2,1213.7 263.25,1212.25 270,1211.5 C 276.75,1210.75 286.09,1207.72 290,1209 C 293.91,1210.28 296.05,1216.7 296.05,1220 C 296.05,1223.3 293.91,1229.72 290,1231 C 286.09,1232.28 276.75,1229.1 270,1228.5 C 263.25,1227.9 252.2,1227.15 245,1227 C 237.8,1226.85 226.03,1228.47 222,1227.5 C 217.97,1226.53 218.15,1222.6 218.15,1220.5 Z" fill="url(#bandg6)" filter="url(#blurH)"/>
<path d="M 319.05,1218.5 C 319.05,1215.8 320.11,1210.7 324,1209.5 C 327.89,1208.3 338.1,1210.28 345,1210.5 C 351.9,1210.72 363.7,1210.92 370,1211 C 376.3,1211.08 383.95,1210.1 387,1211 C 390.05,1211.9 390.3,1215.2 390.3,1217 C 390.3,1218.8 390.05,1222.1 387,1223 C 383.95,1223.9 376.3,1222.62 370,1223 C 363.7,1223.38 351.9,1224.83 345,1225.5 C 338.1,1226.17 327.89,1228.55 324,1227.5 C 320.11,1226.45 319.05,1221.2 319.05,1218.5 Z" fill="url(#bandg7)" filter="url(#blurH)"/>
<path d="M 416.88,1215.5 C 416.88,1213.25 416.78,1209.05 421,1208 C 425.22,1206.95 437.65,1208.95 445,1208.5 C 452.35,1208.05 463.55,1205.83 470,1205 C 476.45,1204.17 484.52,1201.88 488,1203 C 491.48,1204.12 493.23,1209.65 493.23,1212.5 C 493.23,1215.35 491.48,1220.58 488,1222 C 484.52,1223.42 476.45,1222.08 470,1222 C 463.55,1221.92 452.35,1221.35 445,1221.5 C 437.65,1221.65 425.22,1223.9 421,1223 C 416.78,1222.1 416.88,1217.75 416.88,1215.5 Z" fill="url(#bandg8)" filter="url(#blurH)"/>
<path d="M 114.67,1301 C 114.67,1297.55 115.7,1291.45 121,1289.5 C 126.3,1287.55 141.15,1288.08 150,1288 C 158.85,1287.92 173.1,1288.62 180,1289 C 186.9,1289.38 192.73,1288.7 196,1290.5 C 199.27,1292.3 201.78,1297.85 201.78,1301 C 201.78,1304.15 199.27,1309.85 196,1311.5 C 192.73,1313.15 186.9,1311.92 180,1312 C 173.1,1312.08 158.85,1311.92 150,1312 C 141.15,1312.08 126.3,1314.15 121,1312.5 C 115.7,1310.85 114.67,1304.45 114.67,1301 Z" fill="url(#bandg9)" filter="url(#blurH2)"/>
<path d="M 214.95,1304 C 214.95,1300.7 215.74,1294.65 221,1293 C 226.26,1291.35 241.9,1292.92 250,1293 C 258.1,1293.08 268.85,1293.42 275,1293.5 C 281.15,1293.58 287.61,1291.7 291,1293.5 C 294.39,1295.3 297.6,1301.9 297.6,1305.5 C 297.6,1309.1 294.39,1315.7 291,1317.5 C 287.61,1319.3 281.15,1317.72 275,1317.5 C 268.85,1317.28 258.1,1316.38 250,1316 C 241.9,1315.62 226.26,1316.8 221,1315 C 215.74,1313.2 214.95,1307.3 214.95,1304 Z" fill="url(#bandg10)" filter="url(#blurH2)"/>
<path d="M 312.5,1307.5 C 312.5,1304.5 313.12,1299.22 318,1297.5 C 322.88,1295.78 337.2,1296.22 345,1296 C 352.8,1295.78 363.7,1295.92 370,1296 C 376.3,1296.08 383.62,1294.92 387,1296.5 C 390.38,1298.08 392.5,1303.5 392.5,1306.5 C 392.5,1309.5 390.38,1314.92 387,1316.5 C 383.62,1318.08 376.3,1316.92 370,1317 C 363.7,1317.08 352.8,1316.92 345,1317 C 337.2,1317.08 322.88,1318.92 318,1317.5 C 313.12,1316.08 312.5,1310.5 312.5,1307.5 Z" fill="url(#bandg11)" filter="url(#blurH2)"/>
<path d="M 408.77,1308 C 408.77,1305.15 408.57,1300.08 414,1298.5 C 419.43,1296.92 436.6,1297.72 445,1297.5 C 453.4,1297.28 463.7,1297.08 470,1297 C 476.3,1296.92 483.67,1295.58 487,1297 C 490.33,1298.42 492.23,1303.65 492.23,1306.5 C 492.23,1309.35 490.33,1314.42 487,1316 C 483.67,1317.58 476.3,1316.78 470,1317 C 463.7,1317.22 453.4,1317.42 445,1317.5 C 436.6,1317.58 419.43,1318.92 414,1317.5 C 408.57,1316.08 408.77,1310.85 408.77,1308 Z" fill="url(#bandg12)" filter="url(#blurH2)"/>
<rect x="110" y="1333" width="394" height="26" fill="#f8f8f8" filter="url(#blurH)"/>
<rect x="108.9" y="1104.9" width="396.6" height="65.1" fill="none" stroke="#000" stroke-width="2.2"/>
<rect x="108.9" y="1184.3" width="396.6" height="65.1" fill="none" stroke="#000" stroke-width="2.2"/>
<rect x="108.9" y="1264.6" width="396.6" height="64.8" fill="none" stroke="#000" stroke-width="2.2"/>
<text transform="translate(89.1 1146.3) scale(1 1.05)" font-size="23" text-anchor="end">p-p38</text>
<text transform="translate(87.5 1225.7) scale(1 1.05)" font-size="23" text-anchor="end">p38</text>
<text transform="translate(87.5 1307.4) scale(1 1.05)" font-size="23" text-anchor="end">β-tubulin</text>
<text transform="translate(515 1145.4) scale(1 1.05)" font-size="18.5">40</text>
<text transform="translate(515 1220.9) scale(1 1.05)" font-size="18.5">40</text>
<text transform="translate(515 1303.5) scale(1 1.05)" font-size="18.5">50</text>
<text transform="translate(673.5 1001.7) scale(1 1.05)" font-size="40" font-weight="bold">i</text>
<text transform="translate(922.4 1001.7) scale(1 1.05)" font-size="22.8" text-anchor="middle">PANC-1</text>
<polyline points="752,1353.03 807.63,1304.01 831.56,1298.51 898.87,1283.72 950.05,1245.69 992.89,1198.35 1085.8,1102.84" fill="none" stroke="#ff2a00" stroke-width="3.3" stroke-linecap="round" stroke-linejoin="round" stroke-dasharray="0 6.3"/>
<line x1="950.05" y1="1235.12" x2="950.05" y2="1257.1" stroke="#ff2a00" stroke-width="2.2" stroke-linecap="butt"/>
<line x1="944.05" y1="1235.12" x2="956.05" y2="1235.12" stroke="#ff2a00" stroke-width="2.2" stroke-linecap="butt"/>
<line x1="944.05" y1="1257.1" x2="956.05" y2="1257.1" stroke="#ff2a00" stroke-width="2.2" stroke-linecap="butt"/>
<line x1="992.89" y1="1182.29" x2="992.89" y2="1213.14" stroke="#ff2a00" stroke-width="2.2" stroke-linecap="butt"/>
<line x1="986.89" y1="1182.29" x2="998.89" y2="1182.29" stroke="#ff2a00" stroke-width="2.2" stroke-linecap="butt"/>
<line x1="986.89" y1="1213.14" x2="998.89" y2="1213.14" stroke="#ff2a00" stroke-width="2.2" stroke-linecap="butt"/>
<line x1="1085.8" y1="1081.29" x2="1085.8" y2="1123.97" stroke="#ff2a00" stroke-width="2.2" stroke-linecap="butt"/>
<line x1="1079.8" y1="1081.29" x2="1091.8" y2="1081.29" stroke="#ff2a00" stroke-width="2.2" stroke-linecap="butt"/>
<line x1="1079.8" y1="1123.97" x2="1091.8" y2="1123.97" stroke="#ff2a00" stroke-width="2.2" stroke-linecap="butt"/>
<circle cx="752" cy="1353.03" r="5" fill="#ff2a00"/>
<circle cx="807.63" cy="1304.01" r="5" fill="#ff2a00"/>
<circle cx="831.56" cy="1298.51" r="5" fill="#ff2a00"/>
<circle cx="898.87" cy="1283.72" r="5" fill="#ff2a00"/>
<circle cx="950.05" cy="1245.69" r="5" fill="#ff2a00"/>
<circle cx="992.89" cy="1198.35" r="5" fill="#ff2a00"/>
<circle cx="1085.8" cy="1102.84" r="5" fill="#ff2a00"/>
<polyline points="752,1353.46 807.63,1289.22 831.56,1282.03 898.87,1265.13 950.05,1236.81 992.89,1178.49 1085.8,1090.58" fill="none" stroke="#000" stroke-width="3.3" stroke-linecap="round" stroke-linejoin="round" stroke-dasharray="0 6.3"/>
<line x1="807.63" y1="1284.57" x2="807.63" y2="1293.87" stroke="#000" stroke-width="2.2" stroke-linecap="butt"/>
<line x1="801.63" y1="1284.57" x2="813.63" y2="1284.57" stroke="#000" stroke-width="2.2" stroke-linecap="butt"/>
<line x1="801.63" y1="1293.87" x2="813.63" y2="1293.87" stroke="#000" stroke-width="2.2" stroke-linecap="butt"/>
<line x1="898.87" y1="1257.1" x2="898.87" y2="1272.31" stroke="#000" stroke-width="2.2" stroke-linecap="butt"/>
<line x1="892.87" y1="1257.1" x2="904.87" y2="1257.1" stroke="#000" stroke-width="2.2" stroke-linecap="butt"/>
<line x1="892.87" y1="1272.31" x2="904.87" y2="1272.31" stroke="#000" stroke-width="2.2" stroke-linecap="butt"/>
<line x1="950.05" y1="1220.75" x2="950.05" y2="1252.45" stroke="#000" stroke-width="2.2" stroke-linecap="butt"/>
<line x1="944.05" y1="1220.75" x2="956.05" y2="1220.75" stroke="#000" stroke-width="2.2" stroke-linecap="butt"/>
<line x1="944.05" y1="1252.45" x2="956.05" y2="1252.45" stroke="#000" stroke-width="2.2" stroke-linecap="butt"/>
<line x1="992.89" y1="1159.47" x2="992.89" y2="1197.08" stroke="#000" stroke-width="2.2" stroke-linecap="butt"/>
<line x1="986.89" y1="1159.47" x2="998.89" y2="1159.47" stroke="#000" stroke-width="2.2" stroke-linecap="butt"/>
<line x1="986.89" y1="1197.08" x2="998.89" y2="1197.08" stroke="#000" stroke-width="2.2" stroke-linecap="butt"/>
<line x1="1085.8" y1="1073.26" x2="1085.8" y2="1108.76" stroke="#000" stroke-width="2.2" stroke-linecap="butt"/>
<line x1="1079.8" y1="1073.26" x2="1091.8" y2="1073.26" stroke="#000" stroke-width="2.2" stroke-linecap="butt"/>
<line x1="1079.8" y1="1108.76" x2="1091.8" y2="1108.76" stroke="#000" stroke-width="2.2" stroke-linecap="butt"/>
<circle cx="752" cy="1353.46" r="5" fill="#000"/>
<circle cx="807.63" cy="1289.22" r="5" fill="#000"/>
<circle cx="831.56" cy="1282.03" r="5" fill="#000"/>
<circle cx="898.87" cy="1265.13" r="5" fill="#000"/>
<circle cx="950.05" cy="1236.81" r="5" fill="#000"/>
<circle cx="992.89" cy="1178.49" r="5" fill="#000"/>
<circle cx="1085.8" cy="1090.58" r="5" fill="#000"/>
<polyline points="752,1355.15 807.63,1297.67 831.56,1300.2 898.87,1313.73 950.05,1320.49 992.89,1308.23 1085.8,1268.93" fill="none" stroke="#0a2bff" stroke-width="3.3" stroke-linecap="round" stroke-linejoin="round" stroke-dasharray="0 6.3"/>
<line x1="807.63" y1="1290.48" x2="807.63" y2="1304.43" stroke="#0a2bff" stroke-width="2.2" stroke-linecap="butt"/>
<line x1="801.63" y1="1290.48" x2="813.63" y2="1290.48" stroke="#0a2bff" stroke-width="2.2" stroke-linecap="butt"/>
<line x1="801.63" y1="1304.43" x2="813.63" y2="1304.43" stroke="#0a2bff" stroke-width="2.2" stroke-linecap="butt"/>
<line x1="831.56" y1="1293.44" x2="831.56" y2="1307.39" stroke="#0a2bff" stroke-width="2.2" stroke-linecap="butt"/>
<line x1="825.56" y1="1293.44" x2="837.56" y2="1293.44" stroke="#0a2bff" stroke-width="2.2" stroke-linecap="butt"/>
<line x1="825.56" y1="1307.39" x2="837.56" y2="1307.39" stroke="#0a2bff" stroke-width="2.2" stroke-linecap="butt"/>
<line x1="950.05" y1="1313.73" x2="950.05" y2="1327.25" stroke="#0a2bff" stroke-width="2.2" stroke-linecap="butt"/>
<line x1="944.05" y1="1313.73" x2="956.05" y2="1313.73" stroke="#0a2bff" stroke-width="2.2" stroke-linecap="butt"/>
<line x1="944.05" y1="1327.25" x2="956.05" y2="1327.25" stroke="#0a2bff" stroke-width="2.2" stroke-linecap="butt"/>
<line x1="992.89" y1="1292.17" x2="992.89" y2="1323.87" stroke="#0a2bff" stroke-width="2.2" stroke-linecap="butt"/>
<line x1="986.89" y1="1292.17" x2="998.89" y2="1292.17" stroke="#0a2bff" stroke-width="2.2" stroke-linecap="butt"/>
<line x1="986.89" y1="1323.87" x2="998.89" y2="1323.87" stroke="#0a2bff" stroke-width="2.2" stroke-linecap="butt"/>
<line x1="1085.8" y1="1233.43" x2="1085.8" y2="1304.01" stroke="#0a2bff" stroke-width="2.2" stroke-linecap="butt"/>
<line x1="1079.8" y1="1233.43" x2="1091.8" y2="1233.43" stroke="#0a2bff" stroke-width="2.2" stroke-linecap="butt"/>
<line x1="1079.8" y1="1304.01" x2="1091.8" y2="1304.01" stroke="#0a2bff" stroke-width="2.2" stroke-linecap="butt"/>
<circle cx="752" cy="1355.15" r="5" fill="#0a2bff"/>
<circle cx="807.63" cy="1297.67" r="5" fill="#0a2bff"/>
<circle cx="831.56" cy="1300.2" r="5" fill="#0a2bff"/>
<circle cx="898.87" cy="1313.73" r="5" fill="#0a2bff"/>
<circle cx="950.05" cy="1320.49" r="5" fill="#0a2bff"/>
<circle cx="992.89" cy="1308.23" r="5" fill="#0a2bff"/>
<circle cx="1085.8" cy="1268.93" r="5" fill="#0a2bff"/>
<line x1="752" y1="1036.8" x2="752" y2="1378.5" stroke="#000" stroke-width="3.6" stroke-linecap="butt"/>
<line x1="738.5" y1="1376.7" x2="752" y2="1376.7" stroke="#000" stroke-width="3.6" stroke-linecap="butt"/>
<text transform="translate(733.7 1385.27) scale(1 1.05)" font-size="23.8" text-anchor="end">0</text>
<line x1="738.5" y1="1292.17" x2="752" y2="1292.17" stroke="#000" stroke-width="3.6" stroke-linecap="butt"/>
<text transform="translate(733.7 1300.74) scale(1 1.05)" font-size="23.8" text-anchor="end">20</text>
<line x1="738.5" y1="1207.65" x2="752" y2="1207.65" stroke="#000" stroke-width="3.6" stroke-linecap="butt"/>
<text transform="translate(733.7 1216.22) scale(1 1.05)" font-size="23.8" text-anchor="end">40</text>
<line x1="738.5" y1="1123.12" x2="752" y2="1123.12" stroke="#000" stroke-width="3.6" stroke-linecap="butt"/>
<text transform="translate(733.7 1131.69) scale(1 1.05)" font-size="23.8" text-anchor="end">60</text>
<line x1="738.5" y1="1038.6" x2="752" y2="1038.6" stroke="#000" stroke-width="3.6" stroke-linecap="butt"/>
<text transform="translate(733.7 1047.17) scale(1 1.05)" font-size="23.8" text-anchor="end">80</text>
<line x1="738.5" y1="1376.7" x2="1087.6" y2="1376.7" stroke="#000" stroke-width="3.6" stroke-linecap="butt"/>
<line x1="752" y1="1376.7" x2="752" y2="1390.2" stroke="#000" stroke-width="3.6" stroke-linecap="butt"/>
<text transform="translate(752 1418.1) scale(1 1.05)" font-size="23.8" text-anchor="middle">0</text>
<line x1="863.27" y1="1376.7" x2="863.27" y2="1390.2" stroke="#000" stroke-width="3.6" stroke-linecap="butt"/>
<text transform="translate(863.27 1418.1) scale(1 1.05)" font-size="23.8" text-anchor="middle">200</text>
<line x1="974.53" y1="1376.7" x2="974.53" y2="1390.2" stroke="#000" stroke-width="3.6" stroke-linecap="butt"/>
<text transform="translate(974.53 1418.1) scale(1 1.05)" font-size="23.8" text-anchor="middle">400</text>
<line x1="1085.8" y1="1376.7" x2="1085.8" y2="1390.2" stroke="#000" stroke-width="3.6" stroke-linecap="butt"/>
<text transform="translate(1085.8 1418.1) scale(1 1.05)" font-size="23.8" text-anchor="middle">600</text>
<text transform="translate(919.4 1452) scale(1 1.05)" font-size="22.8" text-anchor="middle">Time (hours)</text>
<text transform="translate(689.5 1208) rotate(-90) scale(1 1.05)" font-size="22.8" text-anchor="middle">Confluence (%)</text>
<text transform="translate(1368.5 1001.7) scale(1 1.05)" font-size="22.8" text-anchor="middle">BxPC3</text>
<polyline points="1200.3,1332.99 1301.3,1294.68 1339.7,1307.07 1380.61,1306.51 1402.31,1300.31 1499.98,1214.12" fill="none" stroke="#ff2a00" stroke-width="3.3" stroke-linecap="round" stroke-linejoin="round" stroke-dasharray="0 6.3"/>
<line x1="1499.98" y1="1176.38" x2="1499.98" y2="1250.18" stroke="#ff2a00" stroke-width="2.2" stroke-linecap="butt"/>
<line x1="1493.98" y1="1176.38" x2="1505.98" y2="1176.38" stroke="#ff2a00" stroke-width="2.2" stroke-linecap="butt"/>
<line x1="1493.98" y1="1250.18" x2="1505.98" y2="1250.18" stroke="#ff2a00" stroke-width="2.2" stroke-linecap="butt"/>
<circle cx="1200.3" cy="1332.99" r="5" fill="#ff2a00"/>
<circle cx="1301.3" cy="1294.68" r="5" fill="#ff2a00"/>
<circle cx="1339.7" cy="1307.07" r="5" fill="#ff2a00"/>
<circle cx="1380.61" cy="1306.51" r="5" fill="#ff2a00"/>
<circle cx="1402.31" cy="1300.31" r="5" fill="#ff2a00"/>
<circle cx="1499.98" cy="1214.12" r="5" fill="#ff2a00"/>
<polyline points="1200.3,1332.99 1301.3,1297.5 1339.7,1302.57 1380.61,1301.44 1402.31,1296.93 1499.98,1228.21" fill="none" stroke="#000" stroke-width="3.3" stroke-linecap="round" stroke-linejoin="round" stroke-dasharray="0 6.3"/>
<line x1="1499.98" y1="1207.36" x2="1499.98" y2="1247.36" stroke="#000" stroke-width="2.2" stroke-linecap="butt"/>
<line x1="1493.98" y1="1207.36" x2="1505.98" y2="1207.36" stroke="#000" stroke-width="2.2" stroke-linecap="butt"/>
<line x1="1493.98" y1="1247.36" x2="1505.98" y2="1247.36" stroke="#000" stroke-width="2.2" stroke-linecap="butt"/>
<circle cx="1200.3" cy="1332.99" r="5" fill="#000"/>
<circle cx="1301.3" cy="1297.5" r="5" fill="#000"/>
<circle cx="1339.7" cy="1302.57" r="5" fill="#000"/>
<circle cx="1380.61" cy="1301.44" r="5" fill="#000"/>
<circle cx="1402.31" cy="1296.93" r="5" fill="#000"/>
<circle cx="1499.98" cy="1228.21" r="5" fill="#000"/>
<polyline points="1200.3,1332.99 1301.3,1307.07 1339.7,1315.52 1380.61,1318.9 1402.31,1320.59 1499.98,1317.78" fill="none" stroke="#0a2bff" stroke-width="3.3" stroke-linecap="round" stroke-linejoin="round" stroke-dasharray="0 6.3"/>
<circle cx="1200.3" cy="1332.99" r="5" fill="#0a2bff"/>
<circle cx="1301.3" cy="1307.07" r="5" fill="#0a2bff"/>
<circle cx="1339.7" cy="1315.52" r="5" fill="#0a2bff"/>
<circle cx="1380.61" cy="1318.9" r="5" fill="#0a2bff"/>
<circle cx="1402.31" cy="1320.59" r="5" fill="#0a2bff"/>
<circle cx="1499.98" cy="1317.78" r="5" fill="#0a2bff"/>
<line x1="1200.3" y1="1036" x2="1200.3" y2="1377.6" stroke="#000" stroke-width="3.6" stroke-linecap="butt"/>
<line x1="1186.8" y1="1375.8" x2="1200.3" y2="1375.8" stroke="#000" stroke-width="3.6" stroke-linecap="butt"/>
<text transform="translate(1182 1384.37) scale(1 1.05)" font-size="23.8" text-anchor="end">0</text>
<line x1="1186.8" y1="1263.13" x2="1200.3" y2="1263.13" stroke="#000" stroke-width="3.6" stroke-linecap="butt"/>
<text transform="translate(1182 1271.7) scale(1 1.05)" font-size="23.8" text-anchor="end">20</text>
<line x1="1186.8" y1="1150.47" x2="1200.3" y2="1150.47" stroke="#000" stroke-width="3.6" stroke-linecap="butt"/>
<text transform="translate(1182 1159.03) scale(1 1.05)" font-size="23.8" text-anchor="end">40</text>
<line x1="1186.8" y1="1037.8" x2="1200.3" y2="1037.8" stroke="#000" stroke-width="3.6" stroke-linecap="butt"/>
<text transform="translate(1182 1046.37) scale(1 1.05)" font-size="23.8" text-anchor="end">60</text>
<line x1="1186.8" y1="1375.8" x2="1536" y2="1375.8" stroke="#000" stroke-width="3.6" stroke-linecap="butt"/>
<line x1="1200.3" y1="1375.8" x2="1200.3" y2="1389.3" stroke="#000" stroke-width="3.6" stroke-linecap="butt"/>
<text transform="translate(1200.3 1417.5) scale(1 1.05)" font-size="23.8" text-anchor="middle">0</text>
<line x1="1283.78" y1="1375.8" x2="1283.78" y2="1389.3" stroke="#000" stroke-width="3.6" stroke-linecap="butt"/>
<text transform="translate(1283.78 1417.5) scale(1 1.05)" font-size="23.8" text-anchor="middle">100</text>
<line x1="1367.25" y1="1375.8" x2="1367.25" y2="1389.3" stroke="#000" stroke-width="3.6" stroke-linecap="butt"/>
<text transform="translate(1367.25 1417.5) scale(1 1.05)" font-size="23.8" text-anchor="middle">200</text>
<line x1="1450.72" y1="1375.8" x2="1450.72" y2="1389.3" stroke="#000" stroke-width="3.6" stroke-linecap="butt"/>
<text transform="translate(1450.72 1417.5) scale(1 1.05)" font-size="23.8" text-anchor="middle">300</text>
<line x1="1534.2" y1="1375.8" x2="1534.2" y2="1389.3" stroke="#000" stroke-width="3.6" stroke-linecap="butt"/>
<text transform="translate(1534.2 1417.5) scale(1 1.05)" font-size="23.8" text-anchor="middle">400</text>
<text transform="translate(1367 1451.5) scale(1 1.05)" font-size="22.8" text-anchor="middle">Time (hours)</text>
<text transform="translate(1136 1208) rotate(-90) scale(1 1.05)" font-size="22.8" text-anchor="middle">Confluence (%)</text>
<polyline points="1225.8,1078 1262,1078" fill="none" stroke="#0a2bff" stroke-width="3.3" stroke-linecap="round" stroke-linejoin="miter" stroke-dasharray="0 6.3"/>
<circle cx="1245.3" cy="1078" r="5" fill="#0a2bff"/>
<polyline points="1225.8,1118.9 1262,1118.9" fill="none" stroke="#000" stroke-width="3.3" stroke-linecap="round" stroke-linejoin="miter" stroke-dasharray="0 6.3"/>
<circle cx="1245.3" cy="1118.9" r="5" fill="#000"/>
<polyline points="1225.8,1187.2 1262,1187.2" fill="none" stroke="#ff2a00" stroke-width="3.3" stroke-linecap="round" stroke-linejoin="miter" stroke-dasharray="0 6.3"/>
<circle cx="1245.3" cy="1187.2" r="5" fill="#ff2a00"/>
<text transform="translate(1284.2 1085.6) scale(1 1.05)" font-size="22.8">37°C GEM</text>
<text transform="translate(1284.2 1126.7) scale(1 1.05)" font-size="22.8">37°C GEM</text>
<text transform="translate(1284.2 1153) scale(1 1.05)" font-size="22.8">+ SB203580</text>
<text transform="translate(1284.2 1194.7) scale(1 1.05)" font-size="22.8">38°C GEM</text>
<text transform="translate(13.9 1534.7) scale(1 1.05)" font-size="40" font-weight="bold">j</text>
<text transform="translate(280.2 1533.9) scale(1 1.05)" font-size="22.8" text-anchor="middle">PANC-1</text>
<polyline points="112,1895.95 133.25,1881.92 172.83,1844.53 241.57,1789.77 341.14,1732 399.89,1721.32" fill="none" stroke="#f80000" stroke-width="3.3" stroke-linecap="round" stroke-linejoin="round" stroke-dasharray="0 6.3"/>
<line x1="241.57" y1="1783.42" x2="241.57" y2="1795.78" stroke="#f80000" stroke-width="2.2" stroke-linecap="butt"/>
<line x1="235.57" y1="1783.42" x2="247.57" y2="1783.42" stroke="#f80000" stroke-width="2.2" stroke-linecap="butt"/>
<line x1="235.57" y1="1795.78" x2="247.57" y2="1795.78" stroke="#f80000" stroke-width="2.2" stroke-linecap="butt"/>
<line x1="341.14" y1="1719.98" x2="341.14" y2="1744.69" stroke="#f80000" stroke-width="2.2" stroke-linecap="butt"/>
<line x1="335.14" y1="1719.98" x2="347.14" y2="1719.98" stroke="#f80000" stroke-width="2.2" stroke-linecap="butt"/>
<line x1="335.14" y1="1744.69" x2="347.14" y2="1744.69" stroke="#f80000" stroke-width="2.2" stroke-linecap="butt"/>
<line x1="399.89" y1="1705.96" x2="399.89" y2="1736.01" stroke="#f80000" stroke-width="2.2" stroke-linecap="butt"/>
<line x1="393.89" y1="1705.96" x2="405.89" y2="1705.96" stroke="#f80000" stroke-width="2.2" stroke-linecap="butt"/>
<line x1="393.89" y1="1736.01" x2="405.89" y2="1736.01" stroke="#f80000" stroke-width="2.2" stroke-linecap="butt"/>
<circle cx="112" cy="1895.95" r="5.2" fill="#f80000"/>
<circle cx="133.25" cy="1881.92" r="5.2" fill="#f80000"/>
<circle cx="172.83" cy="1844.53" r="5.2" fill="#f80000"/>
<circle cx="241.57" cy="1789.77" r="5.2" fill="#f80000"/>
<circle cx="341.14" cy="1732" r="5.2" fill="#f80000"/>
<circle cx="399.89" cy="1721.32" r="5.2" fill="#f80000"/>
<polyline points="112,1896.61 133.25,1861.22 172.83,1849.53 241.57,1594.43 341.14,1589.43 399.89,1581.75" fill="none" stroke="#000" stroke-width="3.3" stroke-linecap="round" stroke-linejoin="round" stroke-dasharray="0 6.3"/>
<line x1="241.57" y1="1587.76" x2="241.57" y2="1601.45" stroke="#000" stroke-width="2.2" stroke-linecap="butt"/>
<line x1="235.57" y1="1587.76" x2="247.57" y2="1587.76" stroke="#000" stroke-width="2.2" stroke-linecap="butt"/>
<line x1="235.57" y1="1601.45" x2="247.57" y2="1601.45" stroke="#000" stroke-width="2.2" stroke-linecap="butt"/>
<circle cx="112" cy="1896.61" r="4.8" fill="#000"/>
<circle cx="133.25" cy="1861.22" r="4.8" fill="#000"/>
<circle cx="172.83" cy="1849.53" r="4.8" fill="#000"/>
<circle cx="241.57" cy="1594.43" r="4.8" fill="#000"/>
<circle cx="341.14" cy="1589.43" r="4.8" fill="#000"/>
<circle cx="399.89" cy="1581.75" r="4.8" fill="#000"/>
<polyline points="112,1895.95 133.25,1850.54 172.83,1575.07 241.57,1574.4 341.14,1583.42 399.89,1575.07" fill="none" stroke="#0a2bff" stroke-width="3.3" stroke-linecap="round" stroke-linejoin="round" stroke-dasharray="0 6.3"/>
<circle cx="112" cy="1895.95" r="5.2" fill="#0a2bff"/>
<circle cx="133.25" cy="1850.54" r="5.2" fill="#0a2bff"/>
<circle cx="172.83" cy="1575.07" r="5.2" fill="#0a2bff"/>
<circle cx="241.57" cy="1574.4" r="5.2" fill="#0a2bff"/>
<circle cx="341.14" cy="1583.42" r="5.2" fill="#0a2bff"/>
<circle cx="399.89" cy="1575.07" r="5.2" fill="#0a2bff"/>
<polyline points="112,1897.62 133.25,1877.25 172.83,1641.18 241.57,1579.07 341.14,1575.4 399.89,1575.4" fill="none" stroke="#000" stroke-width="3.3" stroke-linecap="round" stroke-linejoin="round" stroke-dasharray="0 6.3"/>
<line x1="172.83" y1="1633.17" x2="172.83" y2="1649.53" stroke="#000" stroke-width="2.2" stroke-linecap="butt"/>
<line x1="166.83" y1="1633.17" x2="178.83" y2="1633.17" stroke="#000" stroke-width="2.2" stroke-linecap="butt"/>
<line x1="166.83" y1="1649.53" x2="178.83" y2="1649.53" stroke="#000" stroke-width="2.2" stroke-linecap="butt"/>
<circle cx="112" cy="1897.62" r="4.8" fill="#fff" stroke="#000" stroke-width="2.2"/>
<circle cx="133.25" cy="1877.25" r="4.8" fill="#fff" stroke="#000" stroke-width="2.2"/>
<circle cx="172.83" cy="1641.18" r="4.8" fill="#fff" stroke="#000" stroke-width="2.2"/>
<circle cx="241.57" cy="1579.07" r="4.8" fill="#fff" stroke="#000" stroke-width="2.2"/>
<circle cx="341.14" cy="1575.4" r="4.8" fill="#fff" stroke="#000" stroke-width="2.2"/>
<circle cx="399.89" cy="1575.4" r="4.8" fill="#fff" stroke="#000" stroke-width="2.2"/>
<line x1="112" y1="1572.6" x2="112" y2="1910.1" stroke="#000" stroke-width="3.6" stroke-linecap="butt"/>
<line x1="98.5" y1="1908.3" x2="112" y2="1908.3" stroke="#000" stroke-width="3.6" stroke-linecap="butt"/>
<text transform="translate(93.7 1916.87) scale(1 1.05)" font-size="23.8" text-anchor="end">0</text>
<line x1="98.5" y1="1841.52" x2="112" y2="1841.52" stroke="#000" stroke-width="3.6" stroke-linecap="butt"/>
<text transform="translate(93.7 1850.09) scale(1 1.05)" font-size="23.8" text-anchor="end">20</text>
<line x1="98.5" y1="1774.74" x2="112" y2="1774.74" stroke="#000" stroke-width="3.6" stroke-linecap="butt"/>
<text transform="translate(93.7 1783.31) scale(1 1.05)" font-size="23.8" text-anchor="end">40</text>
<line x1="98.5" y1="1707.96" x2="112" y2="1707.96" stroke="#000" stroke-width="3.6" stroke-linecap="butt"/>
<text transform="translate(93.7 1716.53) scale(1 1.05)" font-size="23.8" text-anchor="end">60</text>
<line x1="98.5" y1="1641.18" x2="112" y2="1641.18" stroke="#000" stroke-width="3.6" stroke-linecap="butt"/>
<text transform="translate(93.7 1649.75) scale(1 1.05)" font-size="23.8" text-anchor="end">80</text>
<line x1="98.5" y1="1574.4" x2="112" y2="1574.4" stroke="#000" stroke-width="3.6" stroke-linecap="butt"/>
<text transform="translate(93.7 1582.97) scale(1 1.05)" font-size="23.8" text-anchor="end">100</text>
<line x1="98.5" y1="1908.3" x2="447.1" y2="1908.3" stroke="#000" stroke-width="3.6" stroke-linecap="butt"/>
<line x1="112" y1="1908.3" x2="112" y2="1921.8" stroke="#000" stroke-width="3.6" stroke-linecap="butt"/>
<text transform="translate(112 1949.6) scale(1 1.05)" font-size="23.8" text-anchor="middle">0</text>
<line x1="195.32" y1="1908.3" x2="195.32" y2="1921.8" stroke="#000" stroke-width="3.6" stroke-linecap="butt"/>
<text transform="translate(195.32 1949.6) scale(1 1.05)" font-size="23.8" text-anchor="middle">200</text>
<line x1="278.65" y1="1908.3" x2="278.65" y2="1921.8" stroke="#000" stroke-width="3.6" stroke-linecap="butt"/>
<text transform="translate(278.65 1949.6) scale(1 1.05)" font-size="23.8" text-anchor="middle">400</text>
<line x1="361.98" y1="1908.3" x2="361.98" y2="1921.8" stroke="#000" stroke-width="3.6" stroke-linecap="butt"/>
<text transform="translate(361.98 1949.6) scale(1 1.05)" font-size="23.8" text-anchor="middle">600</text>
<line x1="445.3" y1="1908.3" x2="445.3" y2="1921.8" stroke="#000" stroke-width="3.6" stroke-linecap="butt"/>
<text transform="translate(445.3 1949.6) scale(1 1.05)" font-size="23.8" text-anchor="middle">800</text>
<text transform="translate(279 1982.6) scale(1 1.05)" font-size="22.8" text-anchor="middle">Time (hours)</text>
<text transform="translate(39 1741.7) rotate(-90) scale(1 1.05)" font-size="22.8" text-anchor="middle">Confluence (%)</text>
<polyline points="254,1797.8 291.7,1797.8" fill="none" stroke="#000" stroke-width="2.8" stroke-linecap="round" stroke-linejoin="miter" stroke-dasharray="0 6.6"/>
<circle cx="273.6" cy="1797.8" r="4.4" fill="#fff" stroke="#000" stroke-width="2.2"/>
<text transform="translate(312.5 1806) scale(1 1.05)" font-size="22.8">wt</text>
<polyline points="254,1827 291.7,1827" fill="none" stroke="#0a2bff" stroke-width="2.8" stroke-linecap="round" stroke-linejoin="miter" stroke-dasharray="0 6.6"/>
<circle cx="273.6" cy="1827" r="4.9" fill="#0a2bff"/>
<text transform="translate(312.5 1835.2) scale(1 1.05)" font-size="22.8">MAPK14 KO</text>
<polyline points="254,1852.8 291.7,1852.8" fill="none" stroke="#f80000" stroke-width="2.8" stroke-linecap="round" stroke-linejoin="miter" stroke-dasharray="0 6.6"/>
<circle cx="273.6" cy="1852.8" r="4.9" fill="#f80000"/>
<text transform="translate(312.5 1861) scale(1 1.05)" font-size="22.8">wt + GEM</text>
<polyline points="254,1879.2 291.7,1879.2" fill="none" stroke="#000" stroke-width="2.8" stroke-linecap="round" stroke-linejoin="miter" stroke-dasharray="0 6.6"/>
<circle cx="273.6" cy="1879.2" r="4.2" fill="#000"/>
<text transform="translate(312.5 1887.4) scale(1 1.05)" font-size="22.8">MAPK14 KO + GEM</text>
<text transform="translate(744 1533.9) scale(1 1.05)" font-size="22.8" text-anchor="middle">BxPC3</text>
<polyline points="575,1887.6 653.6,1888.93 786.65,1863.89 868.86,1732" fill="none" stroke="#000" stroke-width="3.3" stroke-linecap="round" stroke-linejoin="round" stroke-dasharray="0 6.3"/>
<line x1="786.65" y1="1856.21" x2="786.65" y2="1871.24" stroke="#000" stroke-width="2.2" stroke-linecap="butt"/>
<line x1="780.65" y1="1856.21" x2="792.65" y2="1856.21" stroke="#000" stroke-width="2.2" stroke-linecap="butt"/>
<line x1="780.65" y1="1871.24" x2="792.65" y2="1871.24" stroke="#000" stroke-width="2.2" stroke-linecap="butt"/>
<line x1="868.86" y1="1699.95" x2="868.86" y2="1763.39" stroke="#000" stroke-width="2.2" stroke-linecap="butt"/>
<line x1="862.86" y1="1699.95" x2="874.86" y2="1699.95" stroke="#000" stroke-width="2.2" stroke-linecap="butt"/>
<line x1="862.86" y1="1763.39" x2="874.86" y2="1763.39" stroke="#000" stroke-width="2.2" stroke-linecap="butt"/>
<circle cx="575" cy="1887.6" r="4.8" fill="#000"/>
<circle cx="653.6" cy="1888.93" r="4.8" fill="#000"/>
<circle cx="786.65" cy="1863.89" r="4.8" fill="#000"/>
<circle cx="868.86" cy="1732" r="4.8" fill="#000"/>
<polyline points="575,1890.94 653.6,1890.27 786.65,1890.27 868.86,1860.22" fill="none" stroke="#f80000" stroke-width="3.3" stroke-linecap="round" stroke-linejoin="round" stroke-dasharray="0 6.3"/>
<line x1="868.86" y1="1847.86" x2="868.86" y2="1872.24" stroke="#f80000" stroke-width="2.2" stroke-linecap="butt"/>
<line x1="862.86" y1="1847.86" x2="874.86" y2="1847.86" stroke="#f80000" stroke-width="2.2" stroke-linecap="butt"/>
<line x1="862.86" y1="1872.24" x2="874.86" y2="1872.24" stroke="#f80000" stroke-width="2.2" stroke-linecap="butt"/>
<circle cx="575" cy="1890.94" r="5.2" fill="#f80000"/>
<circle cx="653.6" cy="1890.27" r="5.2" fill="#f80000"/>
<circle cx="786.65" cy="1890.27" r="5.2" fill="#f80000"/>
<circle cx="868.86" cy="1860.22" r="5.2" fill="#f80000"/>
<polyline points="575,1887.6 653.6,1718.64 786.65,1574.4 868.86,1574.4" fill="none" stroke="#0a2bff" stroke-width="3.3" stroke-linecap="round" stroke-linejoin="round" stroke-dasharray="0 6.3"/>
<circle cx="575" cy="1887.6" r="5.2" fill="#0a2bff"/>
<circle cx="653.6" cy="1718.64" r="5.2" fill="#0a2bff"/>
<circle cx="786.65" cy="1574.4" r="5.2" fill="#0a2bff"/>
<circle cx="868.86" cy="1574.4" r="5.2" fill="#0a2bff"/>
<polyline points="575,1892.94 653.6,1661.88 786.65,1574.4 868.86,1574.4" fill="none" stroke="#000" stroke-width="3.3" stroke-linecap="round" stroke-linejoin="round" stroke-dasharray="0 6.3"/>
<line x1="653.6" y1="1656.87" x2="653.6" y2="1667.22" stroke="#000" stroke-width="2.2" stroke-linecap="butt"/>
<line x1="647.6" y1="1656.87" x2="659.6" y2="1656.87" stroke="#000" stroke-width="2.2" stroke-linecap="butt"/>
<line x1="647.6" y1="1667.22" x2="659.6" y2="1667.22" stroke="#000" stroke-width="2.2" stroke-linecap="butt"/>
<circle cx="575" cy="1892.94" r="4.8" fill="#fff" stroke="#000" stroke-width="2.2"/>
<circle cx="653.6" cy="1661.88" r="4.8" fill="#fff" stroke="#000" stroke-width="2.2"/>
<circle cx="786.65" cy="1574.4" r="4.8" fill="#fff" stroke="#000" stroke-width="2.2"/>
<circle cx="868.86" cy="1574.4" r="4.8" fill="#fff" stroke="#000" stroke-width="2.2"/>
<line x1="575" y1="1572.6" x2="575" y2="1910.1" stroke="#000" stroke-width="3.6" stroke-linecap="butt"/>
<line x1="561.5" y1="1908.3" x2="575" y2="1908.3" stroke="#000" stroke-width="3.6" stroke-linecap="butt"/>
<text transform="translate(556.7 1916.87) scale(1 1.05)" font-size="23.8" text-anchor="end">0</text>
<line x1="561.5" y1="1841.52" x2="575" y2="1841.52" stroke="#000" stroke-width="3.6" stroke-linecap="butt"/>
<text transform="translate(556.7 1850.09) scale(1 1.05)" font-size="23.8" text-anchor="end">20</text>
<line x1="561.5" y1="1774.74" x2="575" y2="1774.74" stroke="#000" stroke-width="3.6" stroke-linecap="butt"/>
<text transform="translate(556.7 1783.31) scale(1 1.05)" font-size="23.8" text-anchor="end">40</text>
<line x1="561.5" y1="1707.96" x2="575" y2="1707.96" stroke="#000" stroke-width="3.6" stroke-linecap="butt"/>
<text transform="translate(556.7 1716.53) scale(1 1.05)" font-size="23.8" text-anchor="end">60</text>
<line x1="561.5" y1="1641.18" x2="575" y2="1641.18" stroke="#000" stroke-width="3.6" stroke-linecap="butt"/>
<text transform="translate(556.7 1649.75) scale(1 1.05)" font-size="23.8" text-anchor="end">80</text>
<line x1="561.5" y1="1574.4" x2="575" y2="1574.4" stroke="#000" stroke-width="3.6" stroke-linecap="butt"/>
<text transform="translate(556.7 1582.97) scale(1 1.05)" font-size="23.8" text-anchor="end">100</text>
<line x1="561.5" y1="1908.3" x2="910.1" y2="1908.3" stroke="#000" stroke-width="3.6" stroke-linecap="butt"/>
<line x1="575" y1="1908.3" x2="575" y2="1921.8" stroke="#000" stroke-width="3.6" stroke-linecap="butt"/>
<text transform="translate(575 1949.6) scale(1 1.05)" font-size="23.8" text-anchor="middle">0</text>
<line x1="686.1" y1="1908.3" x2="686.1" y2="1921.8" stroke="#000" stroke-width="3.6" stroke-linecap="butt"/>
<text transform="translate(686.1 1949.6) scale(1 1.05)" font-size="23.8" text-anchor="middle">200</text>
<line x1="797.2" y1="1908.3" x2="797.2" y2="1921.8" stroke="#000" stroke-width="3.6" stroke-linecap="butt"/>
<text transform="translate(797.2 1949.6) scale(1 1.05)" font-size="23.8" text-anchor="middle">400</text>
<line x1="908.3" y1="1908.3" x2="908.3" y2="1921.8" stroke="#000" stroke-width="3.6" stroke-linecap="butt"/>
<text transform="translate(908.3 1949.6) scale(1 1.05)" font-size="23.8" text-anchor="middle">600</text>
<text transform="translate(742 1982.6) scale(1 1.05)" font-size="22.8" text-anchor="middle">Time (hours)</text>
<text transform="translate(502 1741.7) rotate(-90) scale(1 1.05)" font-size="22.8" text-anchor="middle">Confluence (%)</text>
<text transform="translate(988.5 1531.2) scale(1 1.05)" font-size="40" font-weight="bold">k</text>
<text transform="translate(1194.5 1533.4) scale(1 1.05)" font-size="22.8" text-anchor="middle">PANC-1</text>
<rect x="1080.9" y="1795.73" width="31.1" height="111.67" fill="#0a2bff" stroke="#000" stroke-width="2.2"/>
<rect x="1130.3" y="1668.26" width="31.2" height="239.14" fill="#ff2600" stroke="#000" stroke-width="2.2"/>
<rect x="1179.3" y="1680.67" width="31.1" height="226.73" fill="#000" stroke="#000" stroke-width="2.2"/>
<rect x="1228.3" y="1685.18" width="31.1" height="222.22" fill="#d8b421" stroke="#000" stroke-width="2.2"/>
<rect x="1277.7" y="1694.21" width="30.7" height="213.19" fill="#fff" stroke="#000" stroke-width="2.2"/>
<line x1="1096.5" y1="1781.06" x2="1096.5" y2="1809.26" stroke="#000" stroke-width="2.2" stroke-linecap="butt"/>
<line x1="1089" y1="1781.06" x2="1104" y2="1781.06" stroke="#000" stroke-width="2.2" stroke-linecap="butt"/>
<line x1="1089" y1="1809.26" x2="1104" y2="1809.26" stroke="#000" stroke-width="2.2" stroke-linecap="butt"/>
<line x1="1145.9" y1="1658.11" x2="1145.9" y2="1677.29" stroke="#000" stroke-width="2.2" stroke-linecap="butt"/>
<line x1="1138.4" y1="1658.11" x2="1153.4" y2="1658.11" stroke="#000" stroke-width="2.2" stroke-linecap="butt"/>
<line x1="1138.4" y1="1677.29" x2="1153.4" y2="1677.29" stroke="#000" stroke-width="2.2" stroke-linecap="butt"/>
<line x1="1194.8" y1="1668.26" x2="1194.8" y2="1693.08" stroke="#000" stroke-width="2.2" stroke-linecap="butt"/>
<line x1="1187.3" y1="1668.26" x2="1202.3" y2="1668.26" stroke="#000" stroke-width="2.2" stroke-linecap="butt"/>
<line x1="1187.3" y1="1693.08" x2="1202.3" y2="1693.08" stroke="#000" stroke-width="2.2" stroke-linecap="butt"/>
<line x1="1243.8" y1="1672.78" x2="1243.8" y2="1697.59" stroke="#000" stroke-width="2.2" stroke-linecap="butt"/>
<line x1="1236.3" y1="1672.78" x2="1251.3" y2="1672.78" stroke="#000" stroke-width="2.2" stroke-linecap="butt"/>
<line x1="1236.3" y1="1697.59" x2="1251.3" y2="1697.59" stroke="#000" stroke-width="2.2" stroke-linecap="butt"/>
<line x1="1293" y1="1679.54" x2="1293" y2="1707.74" stroke="#000" stroke-width="2.2" stroke-linecap="butt"/>
<line x1="1285.5" y1="1679.54" x2="1300.5" y2="1679.54" stroke="#000" stroke-width="2.2" stroke-linecap="butt"/>
<line x1="1285.5" y1="1707.74" x2="1300.5" y2="1707.74" stroke="#000" stroke-width="2.2" stroke-linecap="butt"/>
<circle cx="1096.46" cy="1706.59" r="1.6" fill="#fff" stroke="#000" stroke-width="1"/>
<circle cx="1096.46" cy="1736.64" r="1.6" fill="#fff" stroke="#000" stroke-width="1"/>
<circle cx="1096.46" cy="1750.89" r="1.6" fill="#fff" stroke="#000" stroke-width="1"/>
<circle cx="1096.46" cy="1769.37" r="1.6" fill="#fff" stroke="#000" stroke-width="1"/>
<circle cx="1096.46" cy="1784.28" r="1.6" fill="#fff" stroke="#000" stroke-width="1"/>
<circle cx="1092.9" cy="1797.2" r="1.6" fill="#fff" stroke="#000" stroke-width="1"/>
<circle cx="1099.8" cy="1797.2" r="1.6" fill="#fff" stroke="#000" stroke-width="1"/>
<circle cx="1096.46" cy="1805.65" r="1.6" fill="#fff" stroke="#000" stroke-width="1"/>
<circle cx="1096.46" cy="1833.93" r="1.6" fill="#fff" stroke="#000" stroke-width="1"/>
<circle cx="1096.46" cy="1837.27" r="1.6" fill="#fff" stroke="#000" stroke-width="1"/>
<circle cx="1096.46" cy="1857.3" r="1.6" fill="#fff" stroke="#000" stroke-width="1"/>
<circle cx="1096.46" cy="1860.64" r="1.6" fill="#fff" stroke="#000" stroke-width="1"/>
<circle cx="1142.1" cy="1631.34" r="1.6" fill="#fff" stroke="#000" stroke-width="1"/>
<circle cx="1148.78" cy="1630.68" r="1.6" fill="#fff" stroke="#000" stroke-width="1"/>
<circle cx="1145.44" cy="1638.69" r="1.6" fill="#fff" stroke="#000" stroke-width="1"/>
<circle cx="1142.1" cy="1645.15" r="1.6" fill="#fff" stroke="#000" stroke-width="1"/>
<circle cx="1148.78" cy="1645.15" r="1.6" fill="#fff" stroke="#000" stroke-width="1"/>
<circle cx="1145.44" cy="1664.74" r="1.6" fill="#fff" stroke="#000" stroke-width="1"/>
<circle cx="1138.76" cy="1672.53" r="1.6" fill="#fff" stroke="#000" stroke-width="1"/>
<circle cx="1145.44" cy="1672.53" r="1.6" fill="#fff" stroke="#000" stroke-width="1"/>
<circle cx="1151.9" cy="1671.42" r="1.6" fill="#fff" stroke="#000" stroke-width="1"/>
<circle cx="1145.44" cy="1682.55" r="1.6" fill="#fff" stroke="#000" stroke-width="1"/>
<circle cx="1145.44" cy="1721.5" r="1.6" fill="#fff" stroke="#000" stroke-width="1"/>
<circle cx="1145.44" cy="1727.52" r="1.6" fill="#fff" stroke="#000" stroke-width="1"/>
<circle cx="1194.86" cy="1635.35" r="1.6" fill="#fff" stroke="#000" stroke-width="1"/>
<circle cx="1194.86" cy="1645.15" r="1.6" fill="#fff" stroke="#000" stroke-width="1"/>
<circle cx="1191.52" cy="1650.27" r="1.6" fill="#fff" stroke="#000" stroke-width="1"/>
<circle cx="1198.2" cy="1653.16" r="1.6" fill="#fff" stroke="#000" stroke-width="1"/>
<circle cx="1194.86" cy="1658.73" r="1.6" fill="#fff" stroke="#000" stroke-width="1"/>
<circle cx="1194.86" cy="1676.54" r="1.6" fill="#fff" stroke="#000" stroke-width="1"/>
<circle cx="1191.52" cy="1684.33" r="1.6" fill="#fff" stroke="#000" stroke-width="1"/>
<circle cx="1198.2" cy="1685.44" r="1.6" fill="#fff" stroke="#000" stroke-width="1"/>
<circle cx="1194.86" cy="1702.58" r="1.6" fill="#fff" stroke="#000" stroke-width="1"/>
<circle cx="1194.86" cy="1733.08" r="1.6" fill="#fff" stroke="#000" stroke-width="1"/>
<circle cx="1194.86" cy="1768.92" r="1.6" fill="#fff" stroke="#000" stroke-width="1"/>
<circle cx="1240.94" cy="1634.68" r="1.6" fill="#fff" stroke="#000" stroke-width="1"/>
<circle cx="1243.84" cy="1639.14" r="1.6" fill="#fff" stroke="#000" stroke-width="1"/>
<circle cx="1247.62" cy="1637.58" r="1.6" fill="#fff" stroke="#000" stroke-width="1"/>
<circle cx="1243.84" cy="1644.7" r="1.6" fill="#fff" stroke="#000" stroke-width="1"/>
<circle cx="1240.94" cy="1668.08" r="1.6" fill="#fff" stroke="#000" stroke-width="1"/>
<circle cx="1247.18" cy="1665.18" r="1.6" fill="#fff" stroke="#000" stroke-width="1"/>
<circle cx="1243.84" cy="1693.23" r="1.6" fill="#fff" stroke="#000" stroke-width="1"/>
<circle cx="1243.84" cy="1697.68" r="1.6" fill="#fff" stroke="#000" stroke-width="1"/>
<circle cx="1240.94" cy="1720.39" r="1.6" fill="#fff" stroke="#000" stroke-width="1"/>
<circle cx="1247.18" cy="1719.95" r="1.6" fill="#fff" stroke="#000" stroke-width="1"/>
<circle cx="1243.84" cy="1742.21" r="1.6" fill="#fff" stroke="#000" stroke-width="1"/>
<circle cx="1243.84" cy="1757.57" r="1.6" fill="#fff" stroke="#000" stroke-width="1"/>
<circle cx="1293.26" cy="1628.67" r="1.6" fill="#fff" stroke="#000" stroke-width="1"/>
<circle cx="1289.92" cy="1658.5" r="1.6" fill="#fff" stroke="#000" stroke-width="1"/>
<circle cx="1296.6" cy="1659.17" r="1.6" fill="#fff" stroke="#000" stroke-width="1"/>
<circle cx="1289.92" cy="1670.3" r="1.6" fill="#fff" stroke="#000" stroke-width="1"/>
<circle cx="1296.6" cy="1672.97" r="1.6" fill="#fff" stroke="#000" stroke-width="1"/>
<circle cx="1293.26" cy="1683.21" r="1.6" fill="#fff" stroke="#000" stroke-width="1"/>
<circle cx="1293.26" cy="1689.23" r="1.6" fill="#fff" stroke="#000" stroke-width="1"/>
<circle cx="1293.26" cy="1740.87" r="1.6" fill="#fff" stroke="#000" stroke-width="1"/>
<circle cx="1293.26" cy="1756.01" r="1.6" fill="#fff" stroke="#000" stroke-width="1"/>
<circle cx="1293.26" cy="1796.08" r="1.6" fill="#fff" stroke="#000" stroke-width="1"/>
<line x1="1064.6" y1="1567.2" x2="1064.6" y2="1909.2" stroke="#000" stroke-width="3.6" stroke-linecap="butt"/>
<line x1="1051.1" y1="1907.4" x2="1064.6" y2="1907.4" stroke="#000" stroke-width="3.6" stroke-linecap="butt"/>
<text transform="translate(1046.3 1915.97) scale(1 1.05)" font-size="23.8" text-anchor="end">0</text>
<line x1="1051.1" y1="1794.6" x2="1064.6" y2="1794.6" stroke="#000" stroke-width="3.6" stroke-linecap="butt"/>
<text transform="translate(1046.3 1803.17) scale(1 1.05)" font-size="23.8" text-anchor="end">1</text>
<line x1="1051.1" y1="1681.8" x2="1064.6" y2="1681.8" stroke="#000" stroke-width="3.6" stroke-linecap="butt"/>
<text transform="translate(1046.3 1690.37) scale(1 1.05)" font-size="23.8" text-anchor="end">2</text>
<line x1="1051.1" y1="1569" x2="1064.6" y2="1569" stroke="#000" stroke-width="3.6" stroke-linecap="butt"/>
<text transform="translate(1046.3 1577.57) scale(1 1.05)" font-size="23.8" text-anchor="end">3</text>
<line x1="1051.1" y1="1907.4" x2="1326.2" y2="1907.4" stroke="#000" stroke-width="3.6" stroke-linecap="butt"/>
<polyline points="1086.2,1598 1086.2,1571.2 1188.2,1571.2 1188.2,1628" fill="none" stroke="#000" stroke-width="2.2" stroke-linecap="butt" stroke-linejoin="miter"/>
<polyline points="1086.2,1689.2 1086.2,1614.6 1145.9,1614.6 1145.9,1616.9" fill="none" stroke="#000" stroke-width="2.2" stroke-linecap="butt" stroke-linejoin="miter"/>
<polyline points="1201,1600 1201,1571.2 1294,1571.2 1294,1615.8" fill="none" stroke="#000" stroke-width="2.2" stroke-linecap="butt" stroke-linejoin="miter"/>
<polyline points="1201,1626.9 1201,1608 1244.5,1608 1244.5,1620.2" fill="none" stroke="#000" stroke-width="2.2" stroke-linecap="butt" stroke-linejoin="miter"/>
<text x="1097.6" y="1566.3" font-size="17.8"><tspan font-style="italic">P</tspan> &lt; 0.0001</text>
<text x="1095.4" y="1609" font-size="17.8"><tspan font-style="italic">P</tspan> &lt; 0.0001</text>
<text transform="translate(1250.2 1566.3) scale(1 1.05)" font-size="19.4" text-anchor="middle">ns</text>
<text transform="translate(1225.8 1604.2) scale(1 1.05)" font-size="19.4" text-anchor="middle">ns</text>
<text transform="translate(1004.5 1742.7) rotate(-90) scale(1 1.05)" font-size="22.8" text-anchor="middle">Relative confluence</text>
<rect x="1346.5" y="1566.5" width="39.5" height="22.5" fill="#0a2bff" stroke="#000" stroke-width="2.2"/>
<rect x="1346.5" y="1603.3" width="39.5" height="22.5" fill="#ff2600" stroke="#000" stroke-width="2.2"/>
<rect x="1346.5" y="1641.7" width="39.5" height="22.5" fill="#000" stroke="#000" stroke-width="2.2"/>
<rect x="1346.5" y="1711.2" width="39.5" height="22.5" fill="#d8b421" stroke="#000" stroke-width="2.2"/>
<rect x="1346.5" y="1803.5" width="39.5" height="22.5" fill="#fff" stroke="#000" stroke-width="2.2"/>
<text transform="translate(1400 1579.6) scale(1 1.05)" font-size="22.8">37°C GEM</text>
<text transform="translate(1400 1622.5) scale(1 1.05)" font-size="22.8">38°C GEM</text>
<text transform="translate(1400 1660.7) scale(1 1.05)" font-size="22.8">37°C GEM</text>
<text transform="translate(1400 1687.6) scale(1 1.05)" font-size="22.8">+ Doramapimod</text>
<text transform="translate(1400 1731.8) scale(1 1.05)" font-size="22.8">37°C GEM</text>
<text transform="translate(1400 1758.4) scale(1 1.05)" font-size="22.8">+ Doramapimod</text>
<text transform="translate(1400 1784.8) scale(1 1.05)" font-size="22.8">+PC(P-18:0/22:6)</text>
<text transform="translate(1400 1821) scale(1 1.05)" font-size="22.8">37°C GEM</text>
<text transform="translate(1400 1847.3) scale(1 1.05)" font-size="22.8">+ Doramapimod</text>
<text transform="translate(1400 1873.7) scale(1 1.05)" font-size="22.8">+PE(P-18:0/22:6)</text>
<text transform="translate(57 2052.5) scale(1 1.05)" font-size="40" font-weight="bold">l</text>
<text transform="translate(288.5 2048.9) scale(1 1.05)" font-size="22.8" text-anchor="middle">BxPC3</text>
<polyline points="128.6,2366.79 231.27,2305.83 369.01,2274.24 448.31,2190.56" fill="none" stroke="#d8b421" stroke-width="3.3" stroke-linecap="round" stroke-linejoin="round" stroke-dasharray="0 6.3"/>
<circle cx="128.6" cy="2366.79" r="5" fill="#d8b421"/>
<circle cx="231.27" cy="2305.83" r="5" fill="#d8b421"/>
<circle cx="369.01" cy="2274.24" r="5" fill="#d8b421"/>
<circle cx="448.31" cy="2190.56" r="5" fill="#d8b421"/>
<polyline points="128.6,2368.45 231.27,2326.89 369.01,2304.17 448.31,2150.66" fill="none" stroke="#000" stroke-width="3.3" stroke-linecap="round" stroke-linejoin="round" stroke-dasharray="0 6.3"/>
<circle cx="128.6" cy="2368.45" r="4.4" fill="#fff" stroke="#000" stroke-width="2.2"/>
<circle cx="231.27" cy="2326.89" r="4.4" fill="#fff" stroke="#000" stroke-width="2.2"/>
<circle cx="369.01" cy="2304.17" r="4.4" fill="#fff" stroke="#000" stroke-width="2.2"/>
<circle cx="448.31" cy="2150.66" r="4.4" fill="#fff" stroke="#000" stroke-width="2.2"/>
<polyline points="128.6,2367.34 231.27,2321.9 369.01,2318.57 448.31,2215.5" fill="none" stroke="#000" stroke-width="3.3" stroke-linecap="round" stroke-linejoin="round" stroke-dasharray="0 6.3"/>
<circle cx="128.6" cy="2367.34" r="5" fill="#000"/>
<circle cx="231.27" cy="2321.9" r="5" fill="#000"/>
<circle cx="369.01" cy="2318.57" r="5" fill="#000"/>
<circle cx="448.31" cy="2215.5" r="5" fill="#000"/>
<polyline points="128.6,2364.57 231.27,2345.18 369.01,2328 448.31,2190.01" fill="none" stroke="#ff2a00" stroke-width="3.3" stroke-linecap="round" stroke-linejoin="round" stroke-dasharray="0 6.3"/>
<line x1="369.01" y1="2320.24" x2="369.01" y2="2335.75" stroke="#ff2a00" stroke-width="2.2" stroke-linecap="butt"/>
<line x1="363.01" y1="2320.24" x2="375.01" y2="2320.24" stroke="#ff2a00" stroke-width="2.2" stroke-linecap="butt"/>
<line x1="363.01" y1="2335.75" x2="375.01" y2="2335.75" stroke="#ff2a00" stroke-width="2.2" stroke-linecap="butt"/>
<line x1="448.31" y1="2149" x2="448.31" y2="2229.35" stroke="#ff2a00" stroke-width="2.2" stroke-linecap="butt"/>
<line x1="442.31" y1="2149" x2="454.31" y2="2149" stroke="#ff2a00" stroke-width="2.2" stroke-linecap="butt"/>
<line x1="442.31" y1="2229.35" x2="454.31" y2="2229.35" stroke="#ff2a00" stroke-width="2.2" stroke-linecap="butt"/>
<circle cx="128.6" cy="2364.57" r="5" fill="#ff2a00"/>
<circle cx="231.27" cy="2345.18" r="5" fill="#ff2a00"/>
<circle cx="369.01" cy="2328" r="5" fill="#ff2a00"/>
<circle cx="448.31" cy="2190.01" r="5" fill="#ff2a00"/>
<polyline points="128.6,2370.11 231.27,2347.39 369.01,2356.81 448.31,2325.78" fill="none" stroke="#0a2bff" stroke-width="3.3" stroke-linecap="round" stroke-linejoin="round" stroke-dasharray="0 6.3"/>
<line x1="448.31" y1="2314.7" x2="448.31" y2="2335.75" stroke="#0a2bff" stroke-width="2.2" stroke-linecap="butt"/>
<line x1="442.31" y1="2314.7" x2="454.31" y2="2314.7" stroke="#0a2bff" stroke-width="2.2" stroke-linecap="butt"/>
<line x1="442.31" y1="2335.75" x2="454.31" y2="2335.75" stroke="#0a2bff" stroke-width="2.2" stroke-linecap="butt"/>
<circle cx="128.6" cy="2370.11" r="5" fill="#0a2bff"/>
<circle cx="231.27" cy="2347.39" r="5" fill="#0a2bff"/>
<circle cx="369.01" cy="2356.81" r="5" fill="#0a2bff"/>
<circle cx="448.31" cy="2325.78" r="5" fill="#0a2bff"/>
<line x1="128.6" y1="2080.7" x2="128.6" y2="2416.8" stroke="#000" stroke-width="3.6" stroke-linecap="butt"/>
<line x1="115.1" y1="2415" x2="128.6" y2="2415" stroke="#000" stroke-width="3.6" stroke-linecap="butt"/>
<text transform="translate(110.3 2423.57) scale(1 1.05)" font-size="23.8" text-anchor="end">0</text>
<line x1="115.1" y1="2304.17" x2="128.6" y2="2304.17" stroke="#000" stroke-width="3.6" stroke-linecap="butt"/>
<text transform="translate(110.3 2312.73) scale(1 1.05)" font-size="23.8" text-anchor="end">20</text>
<line x1="115.1" y1="2193.33" x2="128.6" y2="2193.33" stroke="#000" stroke-width="3.6" stroke-linecap="butt"/>
<text transform="translate(110.3 2201.9) scale(1 1.05)" font-size="23.8" text-anchor="end">40</text>
<line x1="115.1" y1="2082.5" x2="128.6" y2="2082.5" stroke="#000" stroke-width="3.6" stroke-linecap="butt"/>
<text transform="translate(110.3 2091.07) scale(1 1.05)" font-size="23.8" text-anchor="end">60</text>
<line x1="115.1" y1="2415" x2="464.3" y2="2415" stroke="#000" stroke-width="3.6" stroke-linecap="butt"/>
<line x1="128.6" y1="2415" x2="128.6" y2="2428.5" stroke="#000" stroke-width="3.6" stroke-linecap="butt"/>
<text transform="translate(128.6 2456.7) scale(1 1.05)" font-size="23.8" text-anchor="middle">0</text>
<line x1="212.07" y1="2415" x2="212.07" y2="2428.5" stroke="#000" stroke-width="3.6" stroke-linecap="butt"/>
<text transform="translate(212.07 2456.7) scale(1 1.05)" font-size="23.8" text-anchor="middle">100</text>
<line x1="295.55" y1="2415" x2="295.55" y2="2428.5" stroke="#000" stroke-width="3.6" stroke-linecap="butt"/>
<text transform="translate(295.55 2456.7) scale(1 1.05)" font-size="23.8" text-anchor="middle">200</text>
<line x1="379.02" y1="2415" x2="379.02" y2="2428.5" stroke="#000" stroke-width="3.6" stroke-linecap="butt"/>
<text transform="translate(379.02 2456.7) scale(1 1.05)" font-size="23.8" text-anchor="middle">300</text>
<line x1="462.5" y1="2415" x2="462.5" y2="2428.5" stroke="#000" stroke-width="3.6" stroke-linecap="butt"/>
<text transform="translate(462.5 2456.7) scale(1 1.05)" font-size="23.8" text-anchor="middle">400</text>
<text transform="translate(295.8 2488.6) scale(1 1.05)" font-size="22.8" text-anchor="middle">Time (hours)</text>
<text transform="translate(71.5 2249.8) rotate(-90) scale(1 1.05)" font-size="22.8" text-anchor="middle">Confluence (%)</text>
<polyline points="475,2082.8 512,2082.8" fill="none" stroke="#0a2bff" stroke-width="2.8" stroke-linecap="round" stroke-linejoin="miter" stroke-dasharray="0 7.2"/>
<circle cx="494.7" cy="2082.8" r="5.2" fill="#0a2bff"/>
<polyline points="475,2130.3 512,2130.3" fill="none" stroke="#ff2a00" stroke-width="2.8" stroke-linecap="round" stroke-linejoin="miter" stroke-dasharray="0 7.2"/>
<circle cx="494.7" cy="2130.3" r="5.2" fill="#ff2a00"/>
<polyline points="475,2177.8 512,2177.8" fill="none" stroke="#000" stroke-width="2.8" stroke-linecap="round" stroke-linejoin="miter" stroke-dasharray="0 7.2"/>
<circle cx="494.7" cy="2177.8" r="5.2" fill="#000"/>
<polyline points="475,2244.5 512,2244.5" fill="none" stroke="#d8b421" stroke-width="2.8" stroke-linecap="round" stroke-linejoin="miter" stroke-dasharray="0 7.2"/>
<circle cx="494.7" cy="2244.5" r="5.2" fill="#d8b421"/>
<polyline points="475,2337 512,2337" fill="none" stroke="#000" stroke-width="2.8" stroke-linecap="round" stroke-linejoin="miter" stroke-dasharray="0 7.2"/>
<circle cx="494.7" cy="2337" r="4.6" fill="#fff" stroke="#000" stroke-width="2.2"/>
<text transform="translate(534 2091.1) scale(1 1.05)" font-size="22.8">37°C GEM</text>
<text transform="translate(534 2138.7) scale(1 1.05)" font-size="22.8">38°C GEM</text>
<text transform="translate(534 2186) scale(1 1.05)" font-size="22.8">37°C GEM</text>
<text transform="translate(534 2212.4) scale(1 1.05)" font-size="22.8">+ Doramapimod</text>
<text transform="translate(534 2253) scale(1 1.05)" font-size="22.8">37°C GEM</text>
<text transform="translate(534 2279.4) scale(1 1.05)" font-size="22.8">+ Doramapimod</text>
<text transform="translate(534 2305.8) scale(1 1.05)" font-size="22.8">+ PC(P-18:0/22:6)</text>
<text transform="translate(534 2345.3) scale(1 1.05)" font-size="22.8">37°C GEM</text>
<text transform="translate(534 2371.7) scale(1 1.05)" font-size="22.8">+ Doramapimod</text>
<text transform="translate(534 2398.2) scale(1 1.05)" font-size="22.8">+ PE(P-18:0/22:6)</text>
<text transform="translate(752 2047.9) scale(1 1.05)" font-size="40" font-weight="bold">m</text>
<text transform="translate(998.5 2033.4) scale(1 1.05)" font-size="22.8" text-anchor="middle">PANC-1</text>
<text transform="translate(999.3 2059.4) scale(1 1.05)" font-size="22.8" text-anchor="middle">Xenograft</text>
<polyline points="832.01,2080.57 1051.92,2080.57 1051.92,2123.1 1066.1,2123.1 1066.1,2165.06 1079.99,2165.06 1079.99,2207.59 1098.8,2207.59 1098.8,2334.91 1118.18,2334.91 1118.18,2377.15 1132.07,2377.15 1132.07,2419.69" fill="none" stroke="#ff2600" stroke-width="3.2" stroke-linecap="butt" stroke-linejoin="miter"/>
<polyline points="832.01,2080.57 878.89,2080.57 878.89,2118.18 913.03,2118.18 913.03,2155.8 970.61,2155.8 970.61,2193.99 1003.89,2193.99 1003.89,2231.61 1017.78,2231.61 1017.78,2306.84 1037.16,2306.84 1037.16,2382.07 1084.91,2382.07 1084.91,2419.69" fill="none" stroke="#000" stroke-width="3.2" stroke-linecap="butt" stroke-linejoin="miter"/>
<polyline points="832.01,2080.57 927.5,2080.57 927.5,2193.99 965.69,2193.99 965.69,2419.69" fill="none" stroke="#000" stroke-width="2.8" stroke-linecap="round" stroke-linejoin="miter" stroke-dasharray="0 6"/>
<line x1="832" y1="2078.8" x2="832" y2="2421.5" stroke="#000" stroke-width="3.6" stroke-linecap="butt"/>
<line x1="818.5" y1="2419.7" x2="832" y2="2419.7" stroke="#000" stroke-width="3.6" stroke-linecap="butt"/>
<text transform="translate(813.7 2428.27) scale(1 1.05)" font-size="23.8" text-anchor="end">0</text>
<line x1="818.5" y1="2334.92" x2="832" y2="2334.92" stroke="#000" stroke-width="3.6" stroke-linecap="butt"/>
<text transform="translate(813.7 2343.49) scale(1 1.05)" font-size="23.8" text-anchor="end">25</text>
<line x1="818.5" y1="2250.15" x2="832" y2="2250.15" stroke="#000" stroke-width="3.6" stroke-linecap="butt"/>
<text transform="translate(813.7 2258.72) scale(1 1.05)" font-size="23.8" text-anchor="end">50</text>
<line x1="818.5" y1="2165.38" x2="832" y2="2165.38" stroke="#000" stroke-width="3.6" stroke-linecap="butt"/>
<text transform="translate(813.7 2173.94) scale(1 1.05)" font-size="23.8" text-anchor="end">75</text>
<line x1="818.5" y1="2080.6" x2="832" y2="2080.6" stroke="#000" stroke-width="3.6" stroke-linecap="butt"/>
<text transform="translate(813.7 2089.17) scale(1 1.05)" font-size="23.8" text-anchor="end">100</text>
<line x1="818.5" y1="2419.7" x2="1167.1" y2="2419.7" stroke="#000" stroke-width="3.6" stroke-linecap="butt"/>
<line x1="832" y1="2419.7" x2="832" y2="2433.2" stroke="#000" stroke-width="3.6" stroke-linecap="butt"/>
<text transform="translate(832 2461.6) scale(1 1.05)" font-size="23.8" text-anchor="middle">0</text>
<line x1="898.66" y1="2419.7" x2="898.66" y2="2433.2" stroke="#000" stroke-width="3.6" stroke-linecap="butt"/>
<text transform="translate(898.66 2461.6) scale(1 1.05)" font-size="23.8" text-anchor="middle">2</text>
<line x1="965.32" y1="2419.7" x2="965.32" y2="2433.2" stroke="#000" stroke-width="3.6" stroke-linecap="butt"/>
<text transform="translate(965.32 2461.6) scale(1 1.05)" font-size="23.8" text-anchor="middle">4</text>
<line x1="1031.98" y1="2419.7" x2="1031.98" y2="2433.2" stroke="#000" stroke-width="3.6" stroke-linecap="butt"/>
<text transform="translate(1031.98 2461.6) scale(1 1.05)" font-size="23.8" text-anchor="middle">6</text>
<line x1="1098.64" y1="2419.7" x2="1098.64" y2="2433.2" stroke="#000" stroke-width="3.6" stroke-linecap="butt"/>
<text transform="translate(1098.64 2461.6) scale(1 1.05)" font-size="23.8" text-anchor="middle">8</text>
<line x1="1165.3" y1="2419.7" x2="1165.3" y2="2433.2" stroke="#000" stroke-width="3.6" stroke-linecap="butt"/>
<text transform="translate(1165.3 2461.6) scale(1 1.05)" font-size="23.8" text-anchor="middle">10</text>
<text transform="translate(1000.5 2490.2) scale(1 1.05)" font-size="22.8" text-anchor="middle">Time (weeks)</text>
<text transform="translate(771 2249) rotate(-90) scale(1 1.05)" font-size="22.8" text-anchor="middle">Overall survival (%)</text>
<polyline points="1144.5,2084.7 1182.8,2084.7" fill="none" stroke="#000" stroke-width="2.8" stroke-linecap="round" stroke-linejoin="miter" stroke-dasharray="0 6"/>
<line x1="1163.7" y1="2084.7" x2="1163.7" y2="2078.5" stroke="#000" stroke-width="2.2" stroke-linecap="butt"/>
<line x1="1144.5" y1="2132.5" x2="1182.8" y2="2132.5" stroke="#ff2600" stroke-width="3.5" stroke-linecap="round"/>
<line x1="1163.7" y1="2132.5" x2="1163.7" y2="2126" stroke="#ff2600" stroke-width="2.5" stroke-linecap="butt"/>
<line x1="1144.5" y1="2177.6" x2="1182.8" y2="2177.6" stroke="#000" stroke-width="3.5" stroke-linecap="round"/>
<line x1="1163.7" y1="2177.6" x2="1163.7" y2="2171" stroke="#000" stroke-width="2.5" stroke-linecap="butt"/>
<text transform="translate(1202.3 2093.4) scale(1 1.05)" font-size="22.8">Vehicle</text>
<text transform="translate(1202.3 2140.9) scale(1 1.05)" font-size="22.8">GEM</text>
<text transform="translate(1202.3 2185.7) scale(1 1.05)" font-size="22.8">GEM</text>
<text transform="translate(1202.3 2212.3) scale(1 1.05)" font-size="22.8">+ SB203580</text>
<polyline points="1279,2083 1297.8,2083 1297.8,2128.6 1279,2128.6" fill="none" stroke="#000" stroke-width="2.2" stroke-linecap="butt" stroke-linejoin="miter"/>
<polyline points="1279,2136.8 1297.8,2136.8 1297.8,2182.1 1279,2182.1" fill="none" stroke="#000" stroke-width="2.2" stroke-linecap="butt" stroke-linejoin="miter"/>
<text transform="translate(1302 2108.6) scale(1 1.05)" font-size="17.5">0.0001</text>
<text transform="translate(1301.5 2162.8) scale(1 1.05)" font-size="17.5">0.0005</text>
<text transform="translate(1393 2056.6) scale(1 1.05)" font-size="40" font-weight="bold">n</text>
<text transform="translate(1670 2026.2) scale(1 1.05)" font-size="22.8" text-anchor="middle">PANC-1</text>
<text transform="translate(1670.3 2052.2) scale(1 1.05)" font-size="22.8" text-anchor="middle">Xenograft</text>
<polyline points="1503,2386.91 1536.36,2342.39 1569.72,2227.31 1586.4,2188.24" fill="none" stroke="#000" stroke-width="3" stroke-linecap="round" stroke-linejoin="round" stroke-dasharray="0 5.8"/>
<circle cx="1503" cy="2386.91" r="5.1" fill="#000"/>
<circle cx="1536.36" cy="2342.39" r="5.1" fill="#000"/>
<circle cx="1569.72" cy="2227.31" r="5.1" fill="#000"/>
<circle cx="1586.4" cy="2188.24" r="5.1" fill="#000"/>
<polyline points="1503,2385.8 1536.36,2335.82 1569.72,2270.16 1603.08,2199.81" fill="none" stroke="#000" stroke-width="3" stroke-linecap="round" stroke-linejoin="round" stroke-dasharray="0 5.8"/>
<circle cx="1503" cy="2385.8" r="5.1" fill="#000"/>
<circle cx="1536.36" cy="2335.82" r="5.1" fill="#000"/>
<circle cx="1569.72" cy="2270.16" r="5.1" fill="#000"/>
<circle cx="1603.08" cy="2199.81" r="5.1" fill="#000"/>
<polyline points="1503,2388.02 1536.36,2347.96 1569.72,2322.24 1603.08,2299.09 1619.76,2155.52" fill="none" stroke="#000" stroke-width="3" stroke-linecap="round" stroke-linejoin="round" stroke-dasharray="0 5.8"/>
<circle cx="1503" cy="2388.02" r="5.1" fill="#000"/>
<circle cx="1536.36" cy="2347.96" r="5.1" fill="#000"/>
<circle cx="1569.72" cy="2322.24" r="5.1" fill="#000"/>
<circle cx="1603.08" cy="2299.09" r="5.1" fill="#000"/>
<circle cx="1619.76" cy="2155.52" r="5.1" fill="#000"/>
<polyline points="1503,2384.68 1536.36,2353.52 1569.72,2327.92 1603.08,2314.12 1636.44,2183.34" fill="none" stroke="#000" stroke-width="3" stroke-linecap="round" stroke-linejoin="round" stroke-dasharray="0 5.8"/>
<circle cx="1503" cy="2384.68" r="5.1" fill="#000"/>
<circle cx="1536.36" cy="2353.52" r="5.1" fill="#000"/>
<circle cx="1569.72" cy="2327.92" r="5.1" fill="#000"/>
<circle cx="1603.08" cy="2314.12" r="5.1" fill="#000"/>
<circle cx="1636.44" cy="2183.34" r="5.1" fill="#000"/>
<polyline points="1503,2386.91 1536.36,2342.39 1569.72,2349.07 1603.08,2347.4 1636.44,2264.37 1669.8,2232.54 1703.16,2189.69" fill="none" stroke="#000" stroke-width="3" stroke-linecap="round" stroke-linejoin="round" stroke-dasharray="0 5.8"/>
<circle cx="1503" cy="2386.91" r="5.1" fill="#000"/>
<circle cx="1536.36" cy="2342.39" r="5.1" fill="#000"/>
<circle cx="1569.72" cy="2349.07" r="5.1" fill="#000"/>
<circle cx="1603.08" cy="2347.4" r="5.1" fill="#000"/>
<circle cx="1636.44" cy="2264.37" r="5.1" fill="#000"/>
<circle cx="1669.8" cy="2232.54" r="5.1" fill="#000"/>
<circle cx="1703.16" cy="2189.69" r="5.1" fill="#000"/>
<polyline points="1503,2389.14 1536.36,2357.97 1569.72,2353.52 1603.08,2320.13 1636.44,2292.42 1669.8,2298.2 1703.16,2197.7" fill="none" stroke="#000" stroke-width="3" stroke-linecap="round" stroke-linejoin="round" stroke-dasharray="0 5.8"/>
<circle cx="1503" cy="2389.14" r="5.1" fill="#000"/>
<circle cx="1536.36" cy="2357.97" r="5.1" fill="#000"/>
<circle cx="1569.72" cy="2353.52" r="5.1" fill="#000"/>
<circle cx="1603.08" cy="2320.13" r="5.1" fill="#000"/>
<circle cx="1636.44" cy="2292.42" r="5.1" fill="#000"/>
<circle cx="1669.8" cy="2298.2" r="5.1" fill="#000"/>
<circle cx="1703.16" cy="2197.7" r="5.1" fill="#000"/>
<polyline points="1503,2385.8 1536.36,2351.29 1569.72,2342.39 1603.08,2314.12 1636.44,2308.33 1669.8,2301.21 1703.16,2227.31" fill="none" stroke="#000" stroke-width="3" stroke-linecap="round" stroke-linejoin="round" stroke-dasharray="0 5.8"/>
<circle cx="1503" cy="2385.8" r="5.1" fill="#000"/>
<circle cx="1536.36" cy="2351.29" r="5.1" fill="#000"/>
<circle cx="1569.72" cy="2342.39" r="5.1" fill="#000"/>
<circle cx="1603.08" cy="2314.12" r="5.1" fill="#000"/>
<circle cx="1636.44" cy="2308.33" r="5.1" fill="#000"/>
<circle cx="1669.8" cy="2301.21" r="5.1" fill="#000"/>
<circle cx="1703.16" cy="2227.31" r="5.1" fill="#000"/>
<polyline points="1503,2386.91 1536.36,2355.75 1569.72,2322.36 1603.08,2309 1636.44,2332.37 1669.8,2292.31 1703.16,2298.2 1736.52,2223.86 1753.2,2175.22" fill="none" stroke="#000" stroke-width="3" stroke-linecap="round" stroke-linejoin="round" stroke-dasharray="0 5.8"/>
<circle cx="1503" cy="2386.91" r="5.1" fill="#000"/>
<circle cx="1536.36" cy="2355.75" r="5.1" fill="#000"/>
<circle cx="1569.72" cy="2322.36" r="5.1" fill="#000"/>
<circle cx="1603.08" cy="2309" r="5.1" fill="#000"/>
<circle cx="1636.44" cy="2332.37" r="5.1" fill="#000"/>
<circle cx="1669.8" cy="2292.31" r="5.1" fill="#000"/>
<circle cx="1703.16" cy="2298.2" r="5.1" fill="#000"/>
<circle cx="1736.52" cy="2223.86" r="5.1" fill="#000"/>
<circle cx="1753.2" cy="2175.22" r="5.1" fill="#000"/>
<polyline points="1503,2388.02 1536.36,2364.65 1569.72,2346.84 1603.08,2313.45 1636.44,2284.63 1669.8,2303.99 1703.16,2298.2" fill="none" stroke="#000" stroke-width="3" stroke-linecap="round" stroke-linejoin="round" stroke-dasharray="0 5.8"/>
<circle cx="1503" cy="2388.02" r="5.1" fill="#000"/>
<circle cx="1536.36" cy="2364.65" r="5.1" fill="#000"/>
<circle cx="1569.72" cy="2346.84" r="5.1" fill="#000"/>
<circle cx="1603.08" cy="2313.45" r="5.1" fill="#000"/>
<circle cx="1636.44" cy="2284.63" r="5.1" fill="#000"/>
<circle cx="1669.8" cy="2303.99" r="5.1" fill="#000"/>
<circle cx="1703.16" cy="2298.2" r="5.1" fill="#000"/>
<polyline points="1503,2388.02 1536.36,2371.33 1569.72,2366.88 1603.08,2354.63 1636.44,2349.07 1669.8,2287.85 1703.16,2275.61 1736.52,2262.25 1769.88,2238.88 1803.24,2126.02" fill="none" stroke="#ff2a00" stroke-width="3" stroke-linecap="round" stroke-linejoin="round" stroke-dasharray="0 5.8"/>
<circle cx="1503" cy="2388.02" r="5.1" fill="#ff2a00"/>
<circle cx="1536.36" cy="2371.33" r="5.1" fill="#ff2a00"/>
<circle cx="1569.72" cy="2366.88" r="5.1" fill="#ff2a00"/>
<circle cx="1603.08" cy="2354.63" r="5.1" fill="#ff2a00"/>
<circle cx="1636.44" cy="2349.07" r="5.1" fill="#ff2a00"/>
<circle cx="1669.8" cy="2287.85" r="5.1" fill="#ff2a00"/>
<circle cx="1703.16" cy="2275.61" r="5.1" fill="#ff2a00"/>
<circle cx="1736.52" cy="2262.25" r="5.1" fill="#ff2a00"/>
<circle cx="1769.88" cy="2238.88" r="5.1" fill="#ff2a00"/>
<circle cx="1803.24" cy="2126.02" r="5.1" fill="#ff2a00"/>
<polyline points="1503,2390.25 1536.36,2381.35 1569.72,2373.55 1603.08,2365.76 1636.44,2355.75 1669.8,2326.81 1703.16,2303.99 1736.52,2296.76 1769.88,2282.29 1803.24,2194.92" fill="none" stroke="#ff2a00" stroke-width="3" stroke-linecap="round" stroke-linejoin="round" stroke-dasharray="0 5.8"/>
<circle cx="1503" cy="2390.25" r="5.1" fill="#ff2a00"/>
<circle cx="1536.36" cy="2381.35" r="5.1" fill="#ff2a00"/>
<circle cx="1569.72" cy="2373.55" r="5.1" fill="#ff2a00"/>
<circle cx="1603.08" cy="2365.76" r="5.1" fill="#ff2a00"/>
<circle cx="1636.44" cy="2355.75" r="5.1" fill="#ff2a00"/>
<circle cx="1669.8" cy="2326.81" r="5.1" fill="#ff2a00"/>
<circle cx="1703.16" cy="2303.99" r="5.1" fill="#ff2a00"/>
<circle cx="1736.52" cy="2296.76" r="5.1" fill="#ff2a00"/>
<circle cx="1769.88" cy="2282.29" r="5.1" fill="#ff2a00"/>
<circle cx="1803.24" cy="2194.92" r="5.1" fill="#ff2a00"/>
<polyline points="1503,2392.48 1536.36,2390.81 1569.72,2383.57 1603.08,2381.9 1636.44,2373.55 1669.8,2367.66 1703.16,2336.83 1736.52,2312.67 1769.88,2286.63 1786.56,2186.24" fill="none" stroke="#ff2a00" stroke-width="3" stroke-linecap="round" stroke-linejoin="round" stroke-dasharray="0 5.8"/>
<circle cx="1503" cy="2392.48" r="5.1" fill="#ff2a00"/>
<circle cx="1536.36" cy="2390.81" r="5.1" fill="#ff2a00"/>
<circle cx="1569.72" cy="2383.57" r="5.1" fill="#ff2a00"/>
<circle cx="1603.08" cy="2381.9" r="5.1" fill="#ff2a00"/>
<circle cx="1636.44" cy="2373.55" r="5.1" fill="#ff2a00"/>
<circle cx="1669.8" cy="2367.66" r="5.1" fill="#ff2a00"/>
<circle cx="1703.16" cy="2336.83" r="5.1" fill="#ff2a00"/>
<circle cx="1736.52" cy="2312.67" r="5.1" fill="#ff2a00"/>
<circle cx="1769.88" cy="2286.63" r="5.1" fill="#ff2a00"/>
<circle cx="1786.56" cy="2186.24" r="5.1" fill="#ff2a00"/>
<polyline points="1503,2384.68 1536.36,2359.86 1569.72,2328.59 1603.08,2321.35 1636.44,2301.99 1669.8,2273.05 1703.16,2208.5" fill="none" stroke="#ff2a00" stroke-width="3" stroke-linecap="round" stroke-linejoin="round" stroke-dasharray="0 5.8"/>
<circle cx="1503" cy="2384.68" r="5.1" fill="#ff2a00"/>
<circle cx="1536.36" cy="2359.86" r="5.1" fill="#ff2a00"/>
<circle cx="1569.72" cy="2328.59" r="5.1" fill="#ff2a00"/>
<circle cx="1603.08" cy="2321.35" r="5.1" fill="#ff2a00"/>
<circle cx="1636.44" cy="2301.99" r="5.1" fill="#ff2a00"/>
<circle cx="1669.8" cy="2273.05" r="5.1" fill="#ff2a00"/>
<circle cx="1703.16" cy="2208.5" r="5.1" fill="#ff2a00"/>
<polyline points="1503,2386.91 1536.36,2375.78 1569.72,2377.78 1603.08,2373.44 1636.44,2363.31 1669.8,2343.06 1703.16,2318.46 1736.52,2291.86 1769.88,2194.03" fill="none" stroke="#ff2a00" stroke-width="3" stroke-linecap="round" stroke-linejoin="round" stroke-dasharray="0 5.8"/>
<circle cx="1503" cy="2386.91" r="5.1" fill="#ff2a00"/>
<circle cx="1536.36" cy="2375.78" r="5.1" fill="#ff2a00"/>
<circle cx="1569.72" cy="2377.78" r="5.1" fill="#ff2a00"/>
<circle cx="1603.08" cy="2373.44" r="5.1" fill="#ff2a00"/>
<circle cx="1636.44" cy="2363.31" r="5.1" fill="#ff2a00"/>
<circle cx="1669.8" cy="2343.06" r="5.1" fill="#ff2a00"/>
<circle cx="1703.16" cy="2318.46" r="5.1" fill="#ff2a00"/>
<circle cx="1736.52" cy="2291.86" r="5.1" fill="#ff2a00"/>
<circle cx="1769.88" cy="2194.03" r="5.1" fill="#ff2a00"/>
<polyline points="1503,2389.14 1536.36,2380.68 1569.72,2373.55 1603.08,2337.27 1636.44,2355.19 1669.8,2348.85 1703.16,2330.04 1736.52,2308.33 1769.88,2228.2" fill="none" stroke="#ff2a00" stroke-width="3" stroke-linecap="round" stroke-linejoin="round" stroke-dasharray="0 5.8"/>
<circle cx="1503" cy="2389.14" r="5.1" fill="#ff2a00"/>
<circle cx="1536.36" cy="2380.68" r="5.1" fill="#ff2a00"/>
<circle cx="1569.72" cy="2373.55" r="5.1" fill="#ff2a00"/>
<circle cx="1603.08" cy="2337.27" r="5.1" fill="#ff2a00"/>
<circle cx="1636.44" cy="2355.19" r="5.1" fill="#ff2a00"/>
<circle cx="1669.8" cy="2348.85" r="5.1" fill="#ff2a00"/>
<circle cx="1703.16" cy="2330.04" r="5.1" fill="#ff2a00"/>
<circle cx="1736.52" cy="2308.33" r="5.1" fill="#ff2a00"/>
<circle cx="1769.88" cy="2228.2" r="5.1" fill="#ff2a00"/>
<polyline points="1503,2385.8 1536.36,2372 1569.72,2366.21 1603.08,2354.63 1636.44,2348.85 1669.8,2311.23 1703.16,2279.39 1736.52,2221.52 1769.88,2198.37" fill="none" stroke="#ff2a00" stroke-width="3" stroke-linecap="round" stroke-linejoin="round" stroke-dasharray="0 5.8"/>
<circle cx="1503" cy="2385.8" r="5.1" fill="#ff2a00"/>
<circle cx="1536.36" cy="2372" r="5.1" fill="#ff2a00"/>
<circle cx="1569.72" cy="2366.21" r="5.1" fill="#ff2a00"/>
<circle cx="1603.08" cy="2354.63" r="5.1" fill="#ff2a00"/>
<circle cx="1636.44" cy="2348.85" r="5.1" fill="#ff2a00"/>
<circle cx="1669.8" cy="2311.23" r="5.1" fill="#ff2a00"/>
<circle cx="1703.16" cy="2279.39" r="5.1" fill="#ff2a00"/>
<circle cx="1736.52" cy="2221.52" r="5.1" fill="#ff2a00"/>
<circle cx="1769.88" cy="2198.37" r="5.1" fill="#ff2a00"/>
<polyline points="1503,2391.36 1536.36,2378.01 1569.72,2375.78 1603.08,2366.21 1636.44,2357.97 1669.8,2327.14 1703.16,2285.18 1736.52,2215.73" fill="none" stroke="#ff2a00" stroke-width="3" stroke-linecap="round" stroke-linejoin="round" stroke-dasharray="0 5.8"/>
<circle cx="1503" cy="2391.36" r="5.1" fill="#ff2a00"/>
<circle cx="1536.36" cy="2378.01" r="5.1" fill="#ff2a00"/>
<circle cx="1569.72" cy="2375.78" r="5.1" fill="#ff2a00"/>
<circle cx="1603.08" cy="2366.21" r="5.1" fill="#ff2a00"/>
<circle cx="1636.44" cy="2357.97" r="5.1" fill="#ff2a00"/>
<circle cx="1669.8" cy="2327.14" r="5.1" fill="#ff2a00"/>
<circle cx="1703.16" cy="2285.18" r="5.1" fill="#ff2a00"/>
<circle cx="1736.52" cy="2215.73" r="5.1" fill="#ff2a00"/>
<polyline points="1503,2382.46 1536.36,2373.55 1569.72,2369.1 1603.08,2360.2 1636.44,2353.52 1669.8,2297.87 1703.16,2275.05" fill="none" stroke="#ff2a00" stroke-width="3" stroke-linecap="round" stroke-linejoin="round" stroke-dasharray="0 5.8"/>
<circle cx="1503" cy="2382.46" r="5.1" fill="#ff2a00"/>
<circle cx="1536.36" cy="2373.55" r="5.1" fill="#ff2a00"/>
<circle cx="1569.72" cy="2369.1" r="5.1" fill="#ff2a00"/>
<circle cx="1603.08" cy="2360.2" r="5.1" fill="#ff2a00"/>
<circle cx="1636.44" cy="2353.52" r="5.1" fill="#ff2a00"/>
<circle cx="1669.8" cy="2297.87" r="5.1" fill="#ff2a00"/>
<circle cx="1703.16" cy="2275.05" r="5.1" fill="#ff2a00"/>
<polyline points="1503,2383.57 1536.36,2386.91 1569.72,2381.35 1603.08,2378.01 1636.44,2370.22 1669.8,2342.39 1703.16,2311.23" fill="none" stroke="#ff2a00" stroke-width="3" stroke-linecap="round" stroke-linejoin="round" stroke-dasharray="0 5.8"/>
<circle cx="1503" cy="2383.57" r="5.1" fill="#ff2a00"/>
<circle cx="1536.36" cy="2386.91" r="5.1" fill="#ff2a00"/>
<circle cx="1569.72" cy="2381.35" r="5.1" fill="#ff2a00"/>
<circle cx="1603.08" cy="2378.01" r="5.1" fill="#ff2a00"/>
<circle cx="1636.44" cy="2370.22" r="5.1" fill="#ff2a00"/>
<circle cx="1669.8" cy="2342.39" r="5.1" fill="#ff2a00"/>
<circle cx="1703.16" cy="2311.23" r="5.1" fill="#ff2a00"/>
<line x1="1503" y1="2084.6" x2="1503" y2="2422.1" stroke="#000" stroke-width="3.6" stroke-linecap="butt"/>
<line x1="1489.5" y1="2420.3" x2="1503" y2="2420.3" stroke="#000" stroke-width="3.6" stroke-linecap="butt"/>
<text transform="translate(1484.7 2428.87) scale(1 1.05)" font-size="23.8" text-anchor="end">0</text>
<line x1="1489.5" y1="2309" x2="1503" y2="2309" stroke="#000" stroke-width="3.6" stroke-linecap="butt"/>
<text transform="translate(1484.7 2317.57) scale(1 1.05)" font-size="23.8" text-anchor="end">1000</text>
<line x1="1489.5" y1="2197.7" x2="1503" y2="2197.7" stroke="#000" stroke-width="3.6" stroke-linecap="butt"/>
<text transform="translate(1484.7 2206.27) scale(1 1.05)" font-size="23.8" text-anchor="end">2000</text>
<line x1="1489.5" y1="2086.4" x2="1503" y2="2086.4" stroke="#000" stroke-width="3.6" stroke-linecap="butt"/>
<text transform="translate(1484.7 2094.97) scale(1 1.05)" font-size="23.8" text-anchor="end">3000</text>
<line x1="1489.5" y1="2420.3" x2="1838.4" y2="2420.3" stroke="#000" stroke-width="3.6" stroke-linecap="butt"/>
<line x1="1503" y1="2420.3" x2="1503" y2="2433.8" stroke="#000" stroke-width="3.6" stroke-linecap="butt"/>
<text transform="translate(1503 2461.8) scale(1 1.05)" font-size="23.8" text-anchor="middle">0</text>
<line x1="1569.72" y1="2420.3" x2="1569.72" y2="2433.8" stroke="#000" stroke-width="3.6" stroke-linecap="butt"/>
<text transform="translate(1569.72 2461.8) scale(1 1.05)" font-size="23.8" text-anchor="middle">2</text>
<line x1="1636.44" y1="2420.3" x2="1636.44" y2="2433.8" stroke="#000" stroke-width="3.6" stroke-linecap="butt"/>
<text transform="translate(1636.44 2461.8) scale(1 1.05)" font-size="23.8" text-anchor="middle">4</text>
<line x1="1703.16" y1="2420.3" x2="1703.16" y2="2433.8" stroke="#000" stroke-width="3.6" stroke-linecap="butt"/>
<text transform="translate(1703.16 2461.8) scale(1 1.05)" font-size="23.8" text-anchor="middle">6</text>
<line x1="1769.88" y1="2420.3" x2="1769.88" y2="2433.8" stroke="#000" stroke-width="3.6" stroke-linecap="butt"/>
<text transform="translate(1769.88 2461.8) scale(1 1.05)" font-size="23.8" text-anchor="middle">8</text>
<line x1="1836.6" y1="2420.3" x2="1836.6" y2="2433.8" stroke="#000" stroke-width="3.6" stroke-linecap="butt"/>
<text transform="translate(1836.6 2461.8) scale(1 1.05)" font-size="23.8" text-anchor="middle">10</text>
<text transform="translate(1670.5 2489.2) scale(1 1.05)" font-size="22.8" text-anchor="middle">Time (Weeks)</text>
<text font-size="22.8" text-anchor="middle" transform="translate(1414 2252.5) rotate(-90) scale(1 1.05)">Tumour Volume  (mm<tspan font-size="15" dy="-8.5">3</tspan><tspan dy="8.5">)</tspan></text>
<polyline points="1524.7,2091.9 1560.8,2091.9" fill="none" stroke="#ff2a00" stroke-width="2.8" stroke-linecap="round" stroke-linejoin="miter" stroke-dasharray="0 5.6"/>
<circle cx="1543.5" cy="2091.9" r="4.9" fill="#ff2a00"/>
<text transform="translate(1582.5 2100) scale(1 1.05)" font-size="20.6">GEM</text>
<polyline points="1524.7,2129.5 1560.8,2129.5" fill="none" stroke="#000" stroke-width="2.8" stroke-linecap="round" stroke-linejoin="miter" stroke-dasharray="0 5.6"/>
<circle cx="1543.5" cy="2129.5" r="4.9" fill="#000"/>
<text transform="translate(1582.5 2137) scale(1 1.05)" font-size="20.6">GEM + SB203580</text>
</svg>
</body></html>
